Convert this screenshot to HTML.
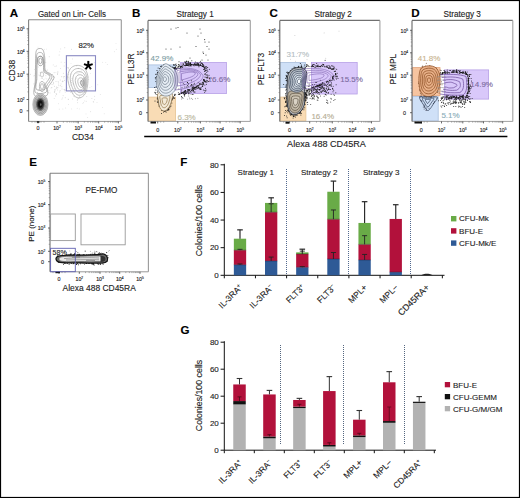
<!DOCTYPE html>
<html><head><meta charset="utf-8"><style>html,body{margin:0;padding:0;background:#fff;overflow:hidden;width:520px;height:498px;}svg{display:block;}text{font-family:"Liberation Sans",sans-serif;stroke:currentColor;stroke-width:0.12px;paint-order:stroke;}</style></head><body>
<svg width="520" height="498" viewBox="0 0 520 498" font-family="Liberation Sans, sans-serif">
<rect x="0.00" y="0.00" width="520.00" height="498.00" fill="#fff" stroke="none" stroke-width="1" />
<text x="9.80" y="17.40" font-size="11.6" text-anchor="start" fill="#000" color="#000" font-weight="bold" >A</text>
<text x="71.90" y="16.90" font-size="8.5" text-anchor="middle" fill="#222" color="#222" font-weight="normal" textLength="68" lengthAdjust="spacingAndGlyphs">Gated on Lin- Cells</text>
<line x1="28.60" y1="19.80" x2="121.30" y2="19.80" stroke="#888" stroke-width="1.1" />
<line x1="121.30" y1="19.80" x2="121.30" y2="121.40" stroke="#999" stroke-width="1.1" />
<line x1="28.60" y1="121.40" x2="121.30" y2="121.40" stroke="#999" stroke-width="1.0" />
<line x1="28.60" y1="19.80" x2="28.60" y2="121.40" stroke="#808080" stroke-width="1.1" />
<text x="24.60" y="31.20" font-size="5.2" text-anchor="end" fill="#222">10<tspan font-size="3.22" dy="-2.18">5</tspan></text>
<line x1="26.60" y1="28.80" x2="28.60" y2="28.80" stroke="#444" stroke-width="0.8" />
<text x="24.60" y="53.70" font-size="5.2" text-anchor="end" fill="#222">10<tspan font-size="3.22" dy="-2.18">4</tspan></text>
<line x1="26.60" y1="51.30" x2="28.60" y2="51.30" stroke="#444" stroke-width="0.8" />
<text x="24.60" y="76.60" font-size="5.2" text-anchor="end" fill="#222">10<tspan font-size="3.22" dy="-2.18">3</tspan></text>
<line x1="26.60" y1="74.20" x2="28.60" y2="74.20" stroke="#444" stroke-width="0.8" />
<text x="24.60" y="101.90" font-size="5.2" text-anchor="end" fill="#222">10<tspan font-size="3.22" dy="-2.18">2</tspan></text>
<line x1="26.60" y1="99.50" x2="28.60" y2="99.50" stroke="#444" stroke-width="0.8" />
<text x="21.10" y="112.70" font-size="5.4" text-anchor="middle" fill="#222" color="#222" font-weight="normal" >0</text>
<line x1="26.60" y1="110.80" x2="28.60" y2="110.80" stroke="#444" stroke-width="0.8" />
<text x="38.00" y="130.30" font-size="5.4" text-anchor="middle" fill="#222" color="#222" font-weight="normal" >0</text>
<line x1="38.00" y1="121.40" x2="38.00" y2="123.40" stroke="#444" stroke-width="0.8" />
<text x="57.00" y="130.30" font-size="5.2" text-anchor="middle" fill="#222">10<tspan font-size="3.22" dy="-2.18">2</tspan></text>
<line x1="57.00" y1="121.40" x2="57.00" y2="123.40" stroke="#444" stroke-width="0.8" />
<text x="78.20" y="130.30" font-size="5.2" text-anchor="middle" fill="#222">10<tspan font-size="3.22" dy="-2.18">3</tspan></text>
<line x1="78.20" y1="121.40" x2="78.20" y2="123.40" stroke="#444" stroke-width="0.8" />
<text x="98.70" y="130.30" font-size="5.2" text-anchor="middle" fill="#222">10<tspan font-size="3.22" dy="-2.18">4</tspan></text>
<line x1="98.70" y1="121.40" x2="98.70" y2="123.40" stroke="#444" stroke-width="0.8" />
<text x="118.40" y="130.30" font-size="5.2" text-anchor="middle" fill="#222">10<tspan font-size="3.22" dy="-2.18">5</tspan></text>
<line x1="118.40" y1="121.40" x2="118.40" y2="123.40" stroke="#444" stroke-width="0.8" />
<line x1="27.30" y1="44.53" x2="28.60" y2="44.53" stroke="#666" stroke-width="0.5" />
<line x1="27.30" y1="40.56" x2="28.60" y2="40.56" stroke="#666" stroke-width="0.5" />
<line x1="27.30" y1="37.75" x2="28.60" y2="37.75" stroke="#666" stroke-width="0.5" />
<line x1="27.30" y1="35.57" x2="28.60" y2="35.57" stroke="#666" stroke-width="0.5" />
<line x1="27.30" y1="33.79" x2="28.60" y2="33.79" stroke="#666" stroke-width="0.5" />
<line x1="27.30" y1="32.29" x2="28.60" y2="32.29" stroke="#666" stroke-width="0.5" />
<line x1="27.30" y1="30.98" x2="28.60" y2="30.98" stroke="#666" stroke-width="0.5" />
<line x1="27.30" y1="29.83" x2="28.60" y2="29.83" stroke="#666" stroke-width="0.5" />
<line x1="27.30" y1="67.31" x2="28.60" y2="67.31" stroke="#666" stroke-width="0.5" />
<line x1="27.30" y1="63.27" x2="28.60" y2="63.27" stroke="#666" stroke-width="0.5" />
<line x1="27.30" y1="60.41" x2="28.60" y2="60.41" stroke="#666" stroke-width="0.5" />
<line x1="27.30" y1="58.19" x2="28.60" y2="58.19" stroke="#666" stroke-width="0.5" />
<line x1="27.30" y1="56.38" x2="28.60" y2="56.38" stroke="#666" stroke-width="0.5" />
<line x1="27.30" y1="54.85" x2="28.60" y2="54.85" stroke="#666" stroke-width="0.5" />
<line x1="27.30" y1="53.52" x2="28.60" y2="53.52" stroke="#666" stroke-width="0.5" />
<line x1="27.30" y1="52.35" x2="28.60" y2="52.35" stroke="#666" stroke-width="0.5" />
<line x1="27.30" y1="91.88" x2="28.60" y2="91.88" stroke="#666" stroke-width="0.5" />
<line x1="27.30" y1="87.43" x2="28.60" y2="87.43" stroke="#666" stroke-width="0.5" />
<line x1="27.30" y1="84.27" x2="28.60" y2="84.27" stroke="#666" stroke-width="0.5" />
<line x1="27.30" y1="81.82" x2="28.60" y2="81.82" stroke="#666" stroke-width="0.5" />
<line x1="27.30" y1="79.81" x2="28.60" y2="79.81" stroke="#666" stroke-width="0.5" />
<line x1="27.30" y1="78.12" x2="28.60" y2="78.12" stroke="#666" stroke-width="0.5" />
<line x1="27.30" y1="76.65" x2="28.60" y2="76.65" stroke="#666" stroke-width="0.5" />
<line x1="27.30" y1="75.36" x2="28.60" y2="75.36" stroke="#666" stroke-width="0.5" />
<line x1="63.38" y1="121.40" x2="63.38" y2="122.70" stroke="#666" stroke-width="0.5" />
<line x1="67.11" y1="121.40" x2="67.11" y2="122.70" stroke="#666" stroke-width="0.5" />
<line x1="69.76" y1="121.40" x2="69.76" y2="122.70" stroke="#666" stroke-width="0.5" />
<line x1="71.82" y1="121.40" x2="71.82" y2="122.70" stroke="#666" stroke-width="0.5" />
<line x1="73.50" y1="121.40" x2="73.50" y2="122.70" stroke="#666" stroke-width="0.5" />
<line x1="74.92" y1="121.40" x2="74.92" y2="122.70" stroke="#666" stroke-width="0.5" />
<line x1="76.15" y1="121.40" x2="76.15" y2="122.70" stroke="#666" stroke-width="0.5" />
<line x1="77.23" y1="121.40" x2="77.23" y2="122.70" stroke="#666" stroke-width="0.5" />
<line x1="84.37" y1="121.40" x2="84.37" y2="122.70" stroke="#666" stroke-width="0.5" />
<line x1="87.98" y1="121.40" x2="87.98" y2="122.70" stroke="#666" stroke-width="0.5" />
<line x1="90.54" y1="121.40" x2="90.54" y2="122.70" stroke="#666" stroke-width="0.5" />
<line x1="92.53" y1="121.40" x2="92.53" y2="122.70" stroke="#666" stroke-width="0.5" />
<line x1="94.15" y1="121.40" x2="94.15" y2="122.70" stroke="#666" stroke-width="0.5" />
<line x1="95.52" y1="121.40" x2="95.52" y2="122.70" stroke="#666" stroke-width="0.5" />
<line x1="96.71" y1="121.40" x2="96.71" y2="122.70" stroke="#666" stroke-width="0.5" />
<line x1="97.76" y1="121.40" x2="97.76" y2="122.70" stroke="#666" stroke-width="0.5" />
<line x1="104.63" y1="121.40" x2="104.63" y2="122.70" stroke="#666" stroke-width="0.5" />
<line x1="108.10" y1="121.40" x2="108.10" y2="122.70" stroke="#666" stroke-width="0.5" />
<line x1="110.56" y1="121.40" x2="110.56" y2="122.70" stroke="#666" stroke-width="0.5" />
<line x1="112.47" y1="121.40" x2="112.47" y2="122.70" stroke="#666" stroke-width="0.5" />
<line x1="114.03" y1="121.40" x2="114.03" y2="122.70" stroke="#666" stroke-width="0.5" />
<line x1="115.35" y1="121.40" x2="115.35" y2="122.70" stroke="#666" stroke-width="0.5" />
<line x1="116.49" y1="121.40" x2="116.49" y2="122.70" stroke="#666" stroke-width="0.5" />
<line x1="117.50" y1="121.40" x2="117.50" y2="122.70" stroke="#666" stroke-width="0.5" />
<line x1="32.00" y1="121.40" x2="32.00" y2="122.70" stroke="#666" stroke-width="0.5" />
<line x1="35.00" y1="121.40" x2="35.00" y2="122.70" stroke="#666" stroke-width="0.5" />
<line x1="41.00" y1="121.40" x2="41.00" y2="122.70" stroke="#666" stroke-width="0.5" />
<line x1="44.00" y1="121.40" x2="44.00" y2="122.70" stroke="#666" stroke-width="0.5" />
<text x="0" y="0" font-size="8.5" text-anchor="middle" fill="#222" transform="translate(14.8 70.7) rotate(-90)">CD38</text>
<text x="82.80" y="140.00" font-size="8.5" text-anchor="middle" fill="#222" color="#222" font-weight="normal" >CD34</text>
<circle cx="59.8" cy="51.8" r="0.45" fill="#bbb" fill-opacity="0.6"/>
<circle cx="88.0" cy="45.7" r="0.45" fill="#bbb" fill-opacity="0.6"/>
<circle cx="78.1" cy="68.5" r="0.45" fill="#bbb" fill-opacity="0.6"/>
<circle cx="37.0" cy="79.6" r="0.45" fill="#bbb" fill-opacity="0.6"/>
<circle cx="35.2" cy="73.8" r="0.45" fill="#bbb" fill-opacity="0.6"/>
<circle cx="38.0" cy="47.1" r="0.45" fill="#bbb" fill-opacity="0.6"/>
<circle cx="68.5" cy="104.5" r="0.45" fill="#bbb" fill-opacity="0.6"/>
<circle cx="42.6" cy="57.4" r="0.45" fill="#bbb" fill-opacity="0.6"/>
<circle cx="86.0" cy="113.9" r="0.45" fill="#bbb" fill-opacity="0.6"/>
<circle cx="81.6" cy="70.9" r="0.45" fill="#bbb" fill-opacity="0.6"/>
<circle cx="116.0" cy="43.6" r="0.45" fill="#bbb" fill-opacity="0.6"/>
<circle cx="105.8" cy="62.6" r="0.45" fill="#bbb" fill-opacity="0.6"/>
<circle cx="44.4" cy="49.2" r="0.45" fill="#bbb" fill-opacity="0.6"/>
<circle cx="58.5" cy="103.7" r="0.45" fill="#bbb" fill-opacity="0.6"/>
<circle cx="47.5" cy="85.4" r="0.45" fill="#bbb" fill-opacity="0.6"/>
<circle cx="86.9" cy="69.0" r="0.45" fill="#bbb" fill-opacity="0.6"/>
<circle cx="79.1" cy="44.9" r="0.45" fill="#bbb" fill-opacity="0.6"/>
<circle cx="37.1" cy="56.1" r="0.45" fill="#bbb" fill-opacity="0.6"/>
<circle cx="90.5" cy="73.4" r="0.45" fill="#bbb" fill-opacity="0.6"/>
<circle cx="59.0" cy="85.7" r="0.45" fill="#bbb" fill-opacity="0.6"/>
<circle cx="71.0" cy="63.4" r="0.45" fill="#bbb" fill-opacity="0.6"/>
<circle cx="100.3" cy="94.5" r="0.45" fill="#bbb" fill-opacity="0.6"/>
<circle cx="53.0" cy="84.8" r="0.45" fill="#bbb" fill-opacity="0.6"/>
<circle cx="77.2" cy="108.3" r="0.45" fill="#bbb" fill-opacity="0.6"/>
<circle cx="94.7" cy="62.5" r="0.45" fill="#bbb" fill-opacity="0.6"/>
<circle cx="116.3" cy="49.2" r="0.45" fill="#bbb" fill-opacity="0.6"/>
<circle cx="68.0" cy="99.1" r="0.45" fill="#bbb" fill-opacity="0.6"/>
<circle cx="45.1" cy="78.1" r="0.45" fill="#bbb" fill-opacity="0.6"/>
<circle cx="35.4" cy="92.1" r="0.45" fill="#bbb" fill-opacity="0.6"/>
<circle cx="97.8" cy="84.7" r="0.45" fill="#bbb" fill-opacity="0.6"/>
<circle cx="107.3" cy="64.5" r="0.45" fill="#bbb" fill-opacity="0.6"/>
<circle cx="91.8" cy="86.4" r="0.45" fill="#bbb" fill-opacity="0.6"/>
<circle cx="81.9" cy="75.6" r="0.45" fill="#bbb" fill-opacity="0.6"/>
<circle cx="104.2" cy="113.7" r="0.45" fill="#bbb" fill-opacity="0.6"/>
<circle cx="72.8" cy="91.8" r="0.45" fill="#bbb" fill-opacity="0.6"/>
<circle cx="37.2" cy="94.7" r="0.45" fill="#bbb" fill-opacity="0.6"/>
<circle cx="87.7" cy="117.5" r="0.45" fill="#bbb" fill-opacity="0.6"/>
<circle cx="102.7" cy="62.2" r="0.45" fill="#bbb" fill-opacity="0.6"/>
<circle cx="65.2" cy="92.2" r="0.45" fill="#bbb" fill-opacity="0.6"/>
<circle cx="33.9" cy="76.0" r="0.45" fill="#bbb" fill-opacity="0.6"/>
<circle cx="46.5" cy="49.1" r="0.45" fill="#bbb" fill-opacity="0.6"/>
<circle cx="37.1" cy="99.9" r="0.45" fill="#bbb" fill-opacity="0.6"/>
<circle cx="43.1" cy="59.3" r="0.45" fill="#bbb" fill-opacity="0.6"/>
<circle cx="65.6" cy="108.0" r="0.45" fill="#bbb" fill-opacity="0.6"/>
<circle cx="38.9" cy="75.0" r="0.45" fill="#bbb" fill-opacity="0.6"/>
<circle cx="79.3" cy="108.9" r="0.45" fill="#bbb" fill-opacity="0.6"/>
<circle cx="102.5" cy="107.4" r="0.45" fill="#bbb" fill-opacity="0.6"/>
<circle cx="55.9" cy="72.4" r="0.45" fill="#bbb" fill-opacity="0.6"/>
<circle cx="62.9" cy="109.0" r="0.45" fill="#bbb" fill-opacity="0.6"/>
<circle cx="114.4" cy="51.8" r="0.45" fill="#bbb" fill-opacity="0.6"/>
<circle cx="57.9" cy="87.8" r="0.45" fill="#aaa" fill-opacity="0.7"/>
<circle cx="56.1" cy="93.7" r="0.45" fill="#aaa" fill-opacity="0.7"/>
<circle cx="49.0" cy="75.0" r="0.45" fill="#aaa" fill-opacity="0.7"/>
<circle cx="64.4" cy="80.3" r="0.45" fill="#aaa" fill-opacity="0.7"/>
<circle cx="47.1" cy="91.4" r="0.45" fill="#aaa" fill-opacity="0.7"/>
<circle cx="68.2" cy="74.7" r="0.45" fill="#aaa" fill-opacity="0.7"/>
<circle cx="42.6" cy="78.4" r="0.45" fill="#aaa" fill-opacity="0.7"/>
<circle cx="53.7" cy="76.4" r="0.45" fill="#aaa" fill-opacity="0.7"/>
<circle cx="67.6" cy="67.7" r="0.45" fill="#aaa" fill-opacity="0.7"/>
<circle cx="66.3" cy="64.8" r="0.45" fill="#aaa" fill-opacity="0.7"/>
<circle cx="47.9" cy="87.6" r="0.45" fill="#aaa" fill-opacity="0.7"/>
<circle cx="65.2" cy="90.3" r="0.45" fill="#aaa" fill-opacity="0.7"/>
<circle cx="58.1" cy="81.7" r="0.45" fill="#aaa" fill-opacity="0.7"/>
<circle cx="56.4" cy="86.9" r="0.45" fill="#aaa" fill-opacity="0.7"/>
<circle cx="53.4" cy="83.3" r="0.45" fill="#aaa" fill-opacity="0.7"/>
<circle cx="60.2" cy="80.0" r="0.45" fill="#aaa" fill-opacity="0.7"/>
<circle cx="61.9" cy="86.8" r="0.45" fill="#aaa" fill-opacity="0.7"/>
<circle cx="73.1" cy="83.9" r="0.45" fill="#aaa" fill-opacity="0.7"/>
<circle cx="51.2" cy="75.5" r="0.45" fill="#aaa" fill-opacity="0.7"/>
<circle cx="54.9" cy="91.1" r="0.45" fill="#aaa" fill-opacity="0.7"/>
<circle cx="52.0" cy="84.6" r="0.45" fill="#aaa" fill-opacity="0.7"/>
<circle cx="71.5" cy="49.2" r="0.45" fill="#aaa" fill-opacity="0.7"/>
<circle cx="44.9" cy="82.9" r="0.45" fill="#aaa" fill-opacity="0.7"/>
<circle cx="58.6" cy="82.9" r="0.45" fill="#aaa" fill-opacity="0.7"/>
<circle cx="51.1" cy="87.9" r="0.45" fill="#aaa" fill-opacity="0.7"/>
<circle cx="57.5" cy="73.7" r="0.45" fill="#aaa" fill-opacity="0.7"/>
<circle cx="50.0" cy="78.8" r="0.45" fill="#aaa" fill-opacity="0.7"/>
<circle cx="53.0" cy="79.2" r="0.45" fill="#aaa" fill-opacity="0.7"/>
<circle cx="30.4" cy="74.2" r="0.45" fill="#aaa" fill-opacity="0.7"/>
<circle cx="64.1" cy="66.0" r="0.45" fill="#aaa" fill-opacity="0.7"/>
<circle cx="54.4" cy="91.4" r="0.45" fill="#aaa" fill-opacity="0.7"/>
<circle cx="62.7" cy="97.9" r="0.45" fill="#aaa" fill-opacity="0.7"/>
<circle cx="39.7" cy="75.8" r="0.45" fill="#aaa" fill-opacity="0.7"/>
<circle cx="51.9" cy="87.5" r="0.45" fill="#aaa" fill-opacity="0.7"/>
<circle cx="64.8" cy="47.8" r="0.45" fill="#aaa" fill-opacity="0.7"/>
<circle cx="64.8" cy="62.6" r="0.45" fill="#aaa" fill-opacity="0.7"/>
<circle cx="61.1" cy="62.1" r="0.45" fill="#aaa" fill-opacity="0.7"/>
<circle cx="56.6" cy="94.3" r="0.45" fill="#aaa" fill-opacity="0.7"/>
<circle cx="53.7" cy="82.3" r="0.45" fill="#aaa" fill-opacity="0.7"/>
<circle cx="62.2" cy="81.7" r="0.45" fill="#aaa" fill-opacity="0.7"/>
<circle cx="54.2" cy="98.4" r="0.45" fill="#aaa" fill-opacity="0.7"/>
<circle cx="64.4" cy="76.5" r="0.45" fill="#aaa" fill-opacity="0.7"/>
<circle cx="63.2" cy="76.8" r="0.45" fill="#aaa" fill-opacity="0.7"/>
<circle cx="56.2" cy="88.5" r="0.45" fill="#aaa" fill-opacity="0.7"/>
<circle cx="57.0" cy="87.7" r="0.45" fill="#aaa" fill-opacity="0.7"/>
<circle cx="41.3" cy="61.9" r="0.45" fill="#aaa" fill-opacity="0.7"/>
<circle cx="60.5" cy="68.4" r="0.45" fill="#aaa" fill-opacity="0.7"/>
<circle cx="45.8" cy="62.4" r="0.45" fill="#aaa" fill-opacity="0.7"/>
<circle cx="66.4" cy="89.0" r="0.45" fill="#aaa" fill-opacity="0.7"/>
<circle cx="68.3" cy="68.7" r="0.45" fill="#aaa" fill-opacity="0.7"/>
<circle cx="55.0" cy="66.3" r="0.45" fill="#aaa" fill-opacity="0.7"/>
<circle cx="61.9" cy="99.1" r="0.45" fill="#aaa" fill-opacity="0.7"/>
<circle cx="47.0" cy="98.7" r="0.45" fill="#aaa" fill-opacity="0.7"/>
<circle cx="63.9" cy="77.9" r="0.45" fill="#aaa" fill-opacity="0.7"/>
<circle cx="37.3" cy="96.9" r="0.45" fill="#aaa" fill-opacity="0.7"/>
<circle cx="54.1" cy="72.8" r="0.45" fill="#aaa" fill-opacity="0.7"/>
<circle cx="58.6" cy="84.9" r="0.45" fill="#aaa" fill-opacity="0.7"/>
<circle cx="68.5" cy="67.8" r="0.45" fill="#aaa" fill-opacity="0.7"/>
<circle cx="65.2" cy="97.8" r="0.45" fill="#aaa" fill-opacity="0.7"/>
<circle cx="68.1" cy="77.8" r="0.45" fill="#aaa" fill-opacity="0.7"/>
<circle cx="48.3" cy="92.2" r="0.45" fill="#aaa" fill-opacity="0.7"/>
<circle cx="56.0" cy="81.5" r="0.45" fill="#aaa" fill-opacity="0.7"/>
<circle cx="67.8" cy="76.8" r="0.45" fill="#aaa" fill-opacity="0.7"/>
<circle cx="34.3" cy="75.4" r="0.45" fill="#aaa" fill-opacity="0.7"/>
<circle cx="38.3" cy="89.8" r="0.45" fill="#aaa" fill-opacity="0.7"/>
<circle cx="57.9" cy="72.7" r="0.45" fill="#aaa" fill-opacity="0.7"/>
<circle cx="54.9" cy="90.0" r="0.45" fill="#aaa" fill-opacity="0.7"/>
<circle cx="55.7" cy="95.9" r="0.45" fill="#aaa" fill-opacity="0.7"/>
<circle cx="54.4" cy="92.5" r="0.45" fill="#aaa" fill-opacity="0.7"/>
<circle cx="68.4" cy="99.3" r="0.45" fill="#aaa" fill-opacity="0.7"/>
<circle cx="49.0" cy="90.6" r="0.45" fill="#aaa" fill-opacity="0.7"/>
<circle cx="38.1" cy="67.0" r="0.45" fill="#aaa" fill-opacity="0.7"/>
<circle cx="37.3" cy="92.8" r="0.45" fill="#aaa" fill-opacity="0.7"/>
<circle cx="43.9" cy="79.8" r="0.45" fill="#aaa" fill-opacity="0.7"/>
<circle cx="53.3" cy="79.7" r="0.45" fill="#aaa" fill-opacity="0.7"/>
<circle cx="49.7" cy="82.8" r="0.45" fill="#aaa" fill-opacity="0.7"/>
<circle cx="71.1" cy="80.5" r="0.45" fill="#aaa" fill-opacity="0.7"/>
<circle cx="59.8" cy="92.0" r="0.45" fill="#aaa" fill-opacity="0.7"/>
<circle cx="53.2" cy="64.9" r="0.45" fill="#aaa" fill-opacity="0.7"/>
<circle cx="50.0" cy="92.9" r="0.45" fill="#aaa" fill-opacity="0.7"/>
<circle cx="40.2" cy="72.8" r="0.45" fill="#aaa" fill-opacity="0.7"/>
<circle cx="64.1" cy="89.5" r="0.45" fill="#aaa" fill-opacity="0.7"/>
<circle cx="55.1" cy="89.7" r="0.45" fill="#aaa" fill-opacity="0.7"/>
<circle cx="56.5" cy="65.9" r="0.45" fill="#aaa" fill-opacity="0.7"/>
<circle cx="40.9" cy="72.3" r="0.45" fill="#aaa" fill-opacity="0.7"/>
<circle cx="63.3" cy="73.2" r="0.45" fill="#aaa" fill-opacity="0.7"/>
<circle cx="46.9" cy="70.7" r="0.45" fill="#aaa" fill-opacity="0.7"/>
<circle cx="41.2" cy="78.6" r="0.45" fill="#aaa" fill-opacity="0.7"/>
<circle cx="44.4" cy="84.4" r="0.45" fill="#aaa" fill-opacity="0.7"/>
<circle cx="33.8" cy="83.9" r="0.45" fill="#aaa" fill-opacity="0.7"/>
<circle cx="49.2" cy="56.7" r="0.45" fill="#aaa" fill-opacity="0.7"/>
<circle cx="61.5" cy="76.7" r="0.45" fill="#aaa" fill-opacity="0.7"/>
<circle cx="34.9" cy="69.5" r="0.45" fill="#aaa" fill-opacity="0.7"/>
<circle cx="57.6" cy="74.5" r="0.45" fill="#aaa" fill-opacity="0.7"/>
<circle cx="62.0" cy="89.0" r="0.45" fill="#aaa" fill-opacity="0.7"/>
<circle cx="61.0" cy="83.9" r="0.45" fill="#aaa" fill-opacity="0.7"/>
<circle cx="67.0" cy="87.9" r="0.45" fill="#aaa" fill-opacity="0.7"/>
<circle cx="59.1" cy="55.0" r="0.45" fill="#aaa" fill-opacity="0.7"/>
<circle cx="63.1" cy="95.7" r="0.45" fill="#aaa" fill-opacity="0.7"/>
<circle cx="52.3" cy="74.4" r="0.45" fill="#aaa" fill-opacity="0.7"/>
<circle cx="72.5" cy="58.9" r="0.45" fill="#aaa" fill-opacity="0.7"/>
<circle cx="59.2" cy="109.1" r="0.45" fill="#aaa" fill-opacity="0.7"/>
<circle cx="46.7" cy="88.3" r="0.45" fill="#aaa" fill-opacity="0.7"/>
<circle cx="72.0" cy="78.6" r="0.45" fill="#aaa" fill-opacity="0.7"/>
<circle cx="60.1" cy="90.8" r="0.45" fill="#aaa" fill-opacity="0.7"/>
<circle cx="46.8" cy="78.9" r="0.45" fill="#aaa" fill-opacity="0.7"/>
<circle cx="57.6" cy="89.9" r="0.45" fill="#aaa" fill-opacity="0.7"/>
<circle cx="54.7" cy="77.7" r="0.45" fill="#aaa" fill-opacity="0.7"/>
<circle cx="45.9" cy="75.7" r="0.45" fill="#aaa" fill-opacity="0.7"/>
<circle cx="63.0" cy="81.2" r="0.45" fill="#aaa" fill-opacity="0.7"/>
<circle cx="47.3" cy="69.9" r="0.45" fill="#aaa" fill-opacity="0.7"/>
<circle cx="60.7" cy="48.9" r="0.45" fill="#aaa" fill-opacity="0.7"/>
<circle cx="60.6" cy="85.8" r="0.45" fill="#aaa" fill-opacity="0.7"/>
<circle cx="70.2" cy="85.1" r="0.45" fill="#aaa" fill-opacity="0.7"/>
<circle cx="54.4" cy="86.3" r="0.45" fill="#aaa" fill-opacity="0.7"/>
<circle cx="37.5" cy="92.4" r="0.45" fill="#aaa" fill-opacity="0.7"/>
<circle cx="57.9" cy="71.6" r="0.45" fill="#aaa" fill-opacity="0.7"/>
<circle cx="90.6" cy="111.7" r="0.45" fill="#aaa" fill-opacity="0.6"/>
<circle cx="68.8" cy="82.0" r="0.45" fill="#aaa" fill-opacity="0.6"/>
<circle cx="82.3" cy="92.2" r="0.45" fill="#aaa" fill-opacity="0.6"/>
<circle cx="76.8" cy="78.3" r="0.45" fill="#aaa" fill-opacity="0.6"/>
<circle cx="97.0" cy="102.4" r="0.45" fill="#aaa" fill-opacity="0.6"/>
<circle cx="70.4" cy="73.9" r="0.45" fill="#aaa" fill-opacity="0.6"/>
<circle cx="93.6" cy="101.9" r="0.45" fill="#aaa" fill-opacity="0.6"/>
<circle cx="94.6" cy="99.7" r="0.45" fill="#aaa" fill-opacity="0.6"/>
<circle cx="73.0" cy="93.1" r="0.45" fill="#aaa" fill-opacity="0.6"/>
<circle cx="62.7" cy="81.0" r="0.45" fill="#aaa" fill-opacity="0.6"/>
<circle cx="79.5" cy="96.3" r="0.45" fill="#aaa" fill-opacity="0.6"/>
<circle cx="74.2" cy="88.5" r="0.45" fill="#aaa" fill-opacity="0.6"/>
<circle cx="83.7" cy="94.5" r="0.45" fill="#aaa" fill-opacity="0.6"/>
<circle cx="85.1" cy="92.5" r="0.45" fill="#aaa" fill-opacity="0.6"/>
<circle cx="77.4" cy="99.5" r="0.45" fill="#aaa" fill-opacity="0.6"/>
<circle cx="80.4" cy="80.1" r="0.45" fill="#aaa" fill-opacity="0.6"/>
<circle cx="75.0" cy="90.0" r="0.45" fill="#aaa" fill-opacity="0.6"/>
<circle cx="79.1" cy="91.9" r="0.45" fill="#aaa" fill-opacity="0.6"/>
<circle cx="80.0" cy="92.1" r="0.45" fill="#aaa" fill-opacity="0.6"/>
<circle cx="78.9" cy="74.9" r="0.45" fill="#aaa" fill-opacity="0.6"/>
<circle cx="83.4" cy="102.6" r="0.45" fill="#aaa" fill-opacity="0.6"/>
<circle cx="83.5" cy="87.7" r="0.45" fill="#aaa" fill-opacity="0.6"/>
<circle cx="83.6" cy="78.4" r="0.45" fill="#aaa" fill-opacity="0.6"/>
<circle cx="64.8" cy="90.7" r="0.45" fill="#aaa" fill-opacity="0.6"/>
<circle cx="72.6" cy="98.9" r="0.45" fill="#aaa" fill-opacity="0.6"/>
<circle cx="71.7" cy="108.9" r="0.45" fill="#aaa" fill-opacity="0.6"/>
<circle cx="76.9" cy="73.6" r="0.45" fill="#aaa" fill-opacity="0.6"/>
<circle cx="73.9" cy="96.3" r="0.45" fill="#aaa" fill-opacity="0.6"/>
<circle cx="84.0" cy="92.1" r="0.45" fill="#aaa" fill-opacity="0.6"/>
<circle cx="91.9" cy="98.5" r="0.45" fill="#aaa" fill-opacity="0.6"/>
<circle cx="79.8" cy="97.2" r="0.45" fill="#aaa" fill-opacity="0.6"/>
<circle cx="93.2" cy="101.7" r="0.45" fill="#aaa" fill-opacity="0.6"/>
<circle cx="88.2" cy="77.0" r="0.45" fill="#aaa" fill-opacity="0.6"/>
<circle cx="78.8" cy="98.8" r="0.45" fill="#aaa" fill-opacity="0.6"/>
<circle cx="77.6" cy="102.8" r="0.45" fill="#aaa" fill-opacity="0.6"/>
<circle cx="84.8" cy="100.9" r="0.45" fill="#aaa" fill-opacity="0.6"/>
<circle cx="89.9" cy="87.4" r="0.45" fill="#aaa" fill-opacity="0.6"/>
<circle cx="77.3" cy="100.5" r="0.45" fill="#aaa" fill-opacity="0.6"/>
<circle cx="87.8" cy="90.1" r="0.45" fill="#aaa" fill-opacity="0.6"/>
<circle cx="70.7" cy="92.3" r="0.45" fill="#aaa" fill-opacity="0.6"/>
<circle cx="82.9" cy="103.6" r="0.45" fill="#aaa" fill-opacity="0.6"/>
<circle cx="86.3" cy="90.3" r="0.45" fill="#aaa" fill-opacity="0.6"/>
<circle cx="86.8" cy="96.5" r="0.45" fill="#aaa" fill-opacity="0.6"/>
<circle cx="81.6" cy="90.7" r="0.45" fill="#aaa" fill-opacity="0.6"/>
<circle cx="78.1" cy="98.2" r="0.45" fill="#aaa" fill-opacity="0.6"/>
<circle cx="71.6" cy="82.5" r="0.45" fill="#aaa" fill-opacity="0.6"/>
<circle cx="80.0" cy="72.4" r="0.45" fill="#aaa" fill-opacity="0.6"/>
<circle cx="76.5" cy="65.9" r="0.45" fill="#aaa" fill-opacity="0.6"/>
<circle cx="74.5" cy="96.8" r="0.45" fill="#aaa" fill-opacity="0.6"/>
<circle cx="84.5" cy="89.3" r="0.45" fill="#aaa" fill-opacity="0.6"/>
<circle cx="78.1" cy="73.0" r="0.45" fill="#aaa" fill-opacity="0.6"/>
<circle cx="94.6" cy="96.2" r="0.45" fill="#aaa" fill-opacity="0.6"/>
<circle cx="88.7" cy="79.4" r="0.45" fill="#aaa" fill-opacity="0.6"/>
<circle cx="78.5" cy="68.2" r="0.45" fill="#aaa" fill-opacity="0.6"/>
<circle cx="86.2" cy="101.2" r="0.45" fill="#aaa" fill-opacity="0.6"/>
<circle cx="64.8" cy="89.4" r="0.45" fill="#aaa" fill-opacity="0.6"/>
<circle cx="85.0" cy="68.9" r="0.45" fill="#aaa" fill-opacity="0.6"/>
<path d="M38.00,48.80 C39.13,48.40 41.67,48.07 42.80,49.60 C43.93,51.13 44.40,54.60 44.80,58.00 C45.20,61.40 44.33,67.42 45.20,70.00 C46.07,72.58 48.53,72.33 50.00,73.50 C51.47,74.67 53.83,75.42 54.00,77.00 C54.17,78.58 52.08,81.17 51.00,83.00 C49.92,84.83 48.18,85.93 47.50,88.00 C46.82,90.07 49.07,94.17 46.90,95.40 C44.73,96.63 36.43,97.97 34.50,95.40 C32.57,92.83 35.12,85.90 35.30,80.00 C35.48,74.10 35.48,64.67 35.60,60.00 C35.72,55.33 35.60,53.87 36.00,52.00 C36.40,50.13 36.87,49.20 38.00,48.80 Z" fill="none" stroke="#8a8a8a" stroke-width="0.6" stroke-opacity="1.0"/>
<path d="M38.38,52.73 C39.34,52.39 41.49,52.11 42.45,53.41 C43.42,54.71 43.81,57.66 44.16,60.55 C44.50,63.44 43.76,68.55 44.50,70.75 C45.23,72.95 47.33,72.73 48.58,73.72 C49.82,74.72 51.83,75.35 51.98,76.70 C52.12,78.05 50.35,80.24 49.42,81.80 C48.50,83.36 47.03,84.29 46.45,86.05 C45.87,87.81 47.78,91.29 45.94,92.34 C44.10,93.39 37.04,94.52 35.40,92.34 C33.76,90.16 35.92,84.27 36.08,79.25 C36.24,74.23 36.24,66.22 36.34,62.25 C36.43,58.28 36.33,57.04 36.67,55.45 C37.02,53.86 37.41,53.07 38.38,52.73 Z" fill="none" stroke="#8a8a8a" stroke-width="0.6" stroke-opacity="1.0"/>
<path d="M38.75,56.66 C39.54,56.38 41.32,56.15 42.11,57.22 C42.90,58.29 43.23,60.72 43.51,63.10 C43.79,65.48 43.18,69.69 43.79,71.50 C44.40,73.31 46.12,73.13 47.15,73.95 C48.18,74.77 49.83,75.29 49.95,76.40 C50.07,77.51 48.61,79.32 47.85,80.60 C47.09,81.88 45.88,82.65 45.40,84.10 C44.92,85.55 46.50,88.42 44.98,89.28 C43.46,90.14 37.65,91.08 36.30,89.28 C34.95,87.48 36.73,82.63 36.86,78.50 C36.99,74.37 36.99,67.77 37.07,64.50 C37.15,61.23 37.07,60.21 37.35,58.90 C37.63,57.59 37.96,56.94 38.75,56.66 Z" fill="none" stroke="#8a8a8a" stroke-width="0.6" stroke-opacity="1.0"/>
<ellipse cx="40.40" cy="60.90" rx="2.80" ry="4.80" fill="none" stroke="#777" stroke-width="0.6" transform="rotate(0 40.40 60.90)"/>
<ellipse cx="40.40" cy="60.90" rx="1.61" ry="2.76" fill="none" stroke="#777" stroke-width="0.6" transform="rotate(0 40.40 60.90)"/>
<ellipse cx="42.00" cy="86.50" rx="2.60" ry="5.00" fill="none" stroke="#888" stroke-width="0.55" transform="rotate(0 42.00 86.50)"/>
<ellipse cx="42.00" cy="86.50" rx="1.49" ry="2.88" fill="none" stroke="#888" stroke-width="0.55" transform="rotate(0 42.00 86.50)"/>
<ellipse cx="42.00" cy="74.50" rx="1.60" ry="2.60" fill="none" stroke="#999" stroke-width="0.5" transform="rotate(0 42.00 74.50)"/>
<ellipse cx="40.4" cy="104.5" rx="7.6" ry="11" fill="#cfcfcf"/>
<ellipse cx="40.4" cy="104.5" rx="7.6" ry="11" fill="none" stroke="#999" stroke-width="0.6"/>
<ellipse cx="40.4" cy="104.5" rx="6.4" ry="9.4" fill="none" stroke="#888" stroke-width="0.6"/>
<ellipse cx="40.4" cy="104.5" rx="5.3" ry="7.9" fill="none" stroke="#777" stroke-width="0.6"/>
<ellipse cx="40.4" cy="104.4" rx="4.6" ry="6.8" fill="#7a7a7a"/>
<ellipse cx="40.4" cy="104.3" rx="3.6" ry="5.4" fill="#3a3a3a"/>
<ellipse cx="40.3" cy="104.2" rx="2.3" ry="3.6" fill="#111"/>
<ellipse cx="40.8" cy="104.6" rx="0.7" ry="1.4" fill="#666"/>
<rect x="66.40" y="55.70" width="29.10" height="35.20" fill="none" stroke="#8a8ac4" stroke-width="1.1" />
<text x="86.20" y="48.30" font-size="7.8" text-anchor="middle" fill="#222" color="#222" font-weight="normal" >82%</text>
<path d="M74.00,66.00 C75.75,65.28 78.17,65.20 80.00,65.70 C81.83,66.20 83.70,67.28 85.00,69.00 C86.30,70.72 87.38,73.17 87.80,76.00 C88.22,78.83 87.97,83.00 87.50,86.00 C87.03,89.00 86.25,92.03 85.00,94.00 C83.75,95.97 81.75,97.47 80.00,97.80 C78.25,98.13 76.17,97.63 74.50,96.00 C72.83,94.37 71.13,91.00 70.00,88.00 C68.87,85.00 67.78,81.00 67.70,78.00 C67.62,75.00 68.45,72.00 69.50,70.00 C70.55,68.00 72.25,66.72 74.00,66.00 Z" fill="none" stroke="#999" stroke-width="0.6" stroke-opacity="1.0"/>
<path d="M75.41,68.99 C76.85,68.40 78.84,68.33 80.35,68.74 C81.86,69.16 83.40,70.05 84.47,71.46 C85.54,72.88 86.44,74.90 86.78,77.23 C87.12,79.57 86.92,83.00 86.53,85.47 C86.15,87.94 85.50,90.44 84.47,92.06 C83.44,93.68 81.79,94.92 80.35,95.20 C78.91,95.47 77.19,95.06 75.82,93.71 C74.45,92.37 73.05,89.59 72.11,87.12 C71.18,84.65 70.29,81.35 70.22,78.88 C70.15,76.41 70.83,73.94 71.70,72.29 C72.57,70.64 73.97,69.58 75.41,68.99 Z" fill="none" stroke="#999" stroke-width="0.6" stroke-opacity="1.0"/>
<path d="M76.82,71.98 C77.95,71.52 79.52,71.47 80.70,71.79 C81.89,72.11 83.10,72.82 83.94,73.93 C84.79,75.04 85.49,76.63 85.76,78.46 C86.03,80.30 85.87,83.00 85.56,84.94 C85.26,86.89 84.75,88.85 83.94,90.13 C83.13,91.40 81.84,92.37 80.70,92.59 C79.57,92.81 78.22,92.48 77.14,91.42 C76.06,90.37 74.96,88.18 74.22,86.24 C73.49,84.30 72.79,81.70 72.73,79.76 C72.68,77.82 73.22,75.87 73.90,74.58 C74.58,73.28 75.68,72.45 76.82,71.98 Z" fill="none" stroke="#999" stroke-width="0.6" stroke-opacity="1.0"/>
<path d="M78.22,74.98 C79.05,74.64 80.19,74.60 81.06,74.83 C81.92,75.07 82.80,75.58 83.42,76.39 C84.03,77.20 84.54,78.36 84.74,79.70 C84.93,81.03 84.82,83.00 84.60,84.42 C84.38,85.83 84.01,87.26 83.42,88.19 C82.83,89.12 81.88,89.83 81.06,89.99 C80.23,90.14 79.25,89.91 78.46,89.14 C77.67,88.37 76.87,86.78 76.34,85.36 C75.80,83.94 75.29,82.06 75.25,80.64 C75.21,79.22 75.60,77.81 76.10,76.86 C76.60,75.92 77.40,75.31 78.22,74.98 Z" fill="none" stroke="#999" stroke-width="0.6" stroke-opacity="1.0"/>
<path d="M79.63,77.97 C80.15,77.76 80.87,77.73 81.41,77.88 C81.95,78.03 82.50,78.35 82.89,78.86 C83.27,79.36 83.59,80.09 83.72,80.93 C83.84,81.77 83.77,83.00 83.63,83.89 C83.49,84.78 83.26,85.67 82.89,86.26 C82.52,86.84 81.93,87.28 81.41,87.38 C80.89,87.48 80.27,87.33 79.78,86.85 C79.29,86.36 78.78,85.37 78.45,84.48 C78.11,83.59 77.79,82.41 77.77,81.52 C77.74,80.63 77.99,79.74 78.30,79.15 C78.61,78.56 79.11,78.18 79.63,77.97 Z" fill="none" stroke="#999" stroke-width="0.6" stroke-opacity="1.0"/>
<path d="M81.04,80.96 C81.25,80.87 81.54,80.86 81.76,80.92 C81.98,80.98 82.20,81.11 82.36,81.32 C82.52,81.53 82.65,81.82 82.70,82.16 C82.75,82.50 82.72,83.00 82.66,83.36 C82.60,83.72 82.51,84.08 82.36,84.32 C82.21,84.56 81.97,84.74 81.76,84.78 C81.55,84.82 81.30,84.76 81.10,84.56 C80.90,84.36 80.70,83.96 80.56,83.60 C80.42,83.24 80.29,82.76 80.28,82.40 C80.27,82.04 80.37,81.68 80.50,81.44 C80.63,81.20 80.83,81.05 81.04,80.96 Z" fill="none" stroke="#999" stroke-width="0.6" stroke-opacity="1.0"/>
<ellipse cx="82.5" cy="83" rx="1.6" ry="3.2" fill="none" stroke="#777" stroke-width="0.6"/>
<ellipse cx="84.3" cy="84" rx="2.2" ry="7" fill="#aaa" fill-opacity="0.5"/>
<line x1="88.30" y1="65.50" x2="88.30" y2="60.90" stroke="#000" stroke-width="2.0" stroke-linecap="butt"/>
<line x1="88.30" y1="65.50" x2="83.93" y2="64.08" stroke="#000" stroke-width="2.0" stroke-linecap="butt"/>
<line x1="88.30" y1="65.50" x2="85.60" y2="69.22" stroke="#000" stroke-width="2.0" stroke-linecap="butt"/>
<line x1="88.30" y1="65.50" x2="91.00" y2="69.22" stroke="#000" stroke-width="2.0" stroke-linecap="butt"/>
<line x1="88.30" y1="65.50" x2="92.67" y2="64.08" stroke="#000" stroke-width="2.0" stroke-linecap="butt"/>
<text x="132.00" y="17.40" font-size="11.6" text-anchor="start" fill="#000" color="#000" font-weight="bold" >B</text>
<text x="195.10" y="16.90" font-size="8.2" text-anchor="middle" fill="#222" color="#222" font-weight="normal" >Strategy 1</text>
<rect x="148.40" y="64.90" width="27.20" height="22.70" fill="#cfe0f7" stroke="#a9bedc" stroke-width="0.8" />
<rect x="148.40" y="97.10" width="27.20" height="23.90" fill="#f9dcb5" stroke="#e6c494" stroke-width="0.8" />
<rect x="180.60" y="62.40" width="45.80" height="31.20" fill="#d9c8fa" stroke="#b7a0e6" stroke-width="0.8" />
<line x1="148.00" y1="20.40" x2="250.30" y2="20.40" stroke="#707070" stroke-width="1.1" />
<line x1="250.30" y1="20.40" x2="250.30" y2="121.40" stroke="#a0a0a0" stroke-width="1.1" />
<line x1="148.00" y1="121.40" x2="250.30" y2="121.40" stroke="#a0a0a0" stroke-width="1.0" />
<line x1="148.00" y1="20.40" x2="148.00" y2="121.40" stroke="#666" stroke-width="1.1" />
<text x="144.10" y="32.70" font-size="5.2" text-anchor="end" fill="#222">10<tspan font-size="3.22" dy="-2.18">5</tspan></text>
<line x1="146.00" y1="30.30" x2="148.00" y2="30.30" stroke="#444" stroke-width="0.8" />
<text x="144.10" y="55.20" font-size="5.2" text-anchor="end" fill="#222">10<tspan font-size="3.22" dy="-2.18">4</tspan></text>
<line x1="146.00" y1="52.80" x2="148.00" y2="52.80" stroke="#444" stroke-width="0.8" />
<text x="144.10" y="77.60" font-size="5.2" text-anchor="end" fill="#222">10<tspan font-size="3.22" dy="-2.18">3</tspan></text>
<line x1="146.00" y1="75.20" x2="148.00" y2="75.20" stroke="#444" stroke-width="0.8" />
<text x="144.10" y="102.40" font-size="5.2" text-anchor="end" fill="#222">10<tspan font-size="3.22" dy="-2.18">2</tspan></text>
<line x1="146.00" y1="100.00" x2="148.00" y2="100.00" stroke="#444" stroke-width="0.8" />
<text x="140.50" y="114.60" font-size="5.4" text-anchor="middle" fill="#222" color="#222" font-weight="normal" >0</text>
<line x1="146.00" y1="112.70" x2="148.00" y2="112.70" stroke="#444" stroke-width="0.8" />
<text x="157.70" y="131.90" font-size="5.4" text-anchor="middle" fill="#222" color="#222" font-weight="normal" >0</text>
<line x1="157.70" y1="121.40" x2="157.70" y2="123.40" stroke="#444" stroke-width="0.8" />
<text x="177.80" y="131.90" font-size="5.2" text-anchor="middle" fill="#222">10<tspan font-size="3.22" dy="-2.18">2</tspan></text>
<line x1="177.80" y1="121.40" x2="177.80" y2="123.40" stroke="#444" stroke-width="0.8" />
<text x="200.40" y="131.90" font-size="5.2" text-anchor="middle" fill="#222">10<tspan font-size="3.22" dy="-2.18">3</tspan></text>
<line x1="200.40" y1="121.40" x2="200.40" y2="123.40" stroke="#444" stroke-width="0.8" />
<text x="220.10" y="131.90" font-size="5.2" text-anchor="middle" fill="#222">10<tspan font-size="3.22" dy="-2.18">4</tspan></text>
<line x1="220.10" y1="121.40" x2="220.10" y2="123.40" stroke="#444" stroke-width="0.8" />
<text x="240.20" y="131.90" font-size="5.2" text-anchor="middle" fill="#222">10<tspan font-size="3.22" dy="-2.18">5</tspan></text>
<line x1="240.20" y1="121.40" x2="240.20" y2="123.40" stroke="#444" stroke-width="0.8" />
<line x1="146.70" y1="46.03" x2="148.00" y2="46.03" stroke="#666" stroke-width="0.5" />
<line x1="146.70" y1="42.06" x2="148.00" y2="42.06" stroke="#666" stroke-width="0.5" />
<line x1="146.70" y1="39.25" x2="148.00" y2="39.25" stroke="#666" stroke-width="0.5" />
<line x1="146.70" y1="37.07" x2="148.00" y2="37.07" stroke="#666" stroke-width="0.5" />
<line x1="146.70" y1="35.29" x2="148.00" y2="35.29" stroke="#666" stroke-width="0.5" />
<line x1="146.70" y1="33.79" x2="148.00" y2="33.79" stroke="#666" stroke-width="0.5" />
<line x1="146.70" y1="32.48" x2="148.00" y2="32.48" stroke="#666" stroke-width="0.5" />
<line x1="146.70" y1="31.33" x2="148.00" y2="31.33" stroke="#666" stroke-width="0.5" />
<line x1="146.70" y1="68.46" x2="148.00" y2="68.46" stroke="#666" stroke-width="0.5" />
<line x1="146.70" y1="64.51" x2="148.00" y2="64.51" stroke="#666" stroke-width="0.5" />
<line x1="146.70" y1="61.71" x2="148.00" y2="61.71" stroke="#666" stroke-width="0.5" />
<line x1="146.70" y1="59.54" x2="148.00" y2="59.54" stroke="#666" stroke-width="0.5" />
<line x1="146.70" y1="57.77" x2="148.00" y2="57.77" stroke="#666" stroke-width="0.5" />
<line x1="146.70" y1="56.27" x2="148.00" y2="56.27" stroke="#666" stroke-width="0.5" />
<line x1="146.70" y1="54.97" x2="148.00" y2="54.97" stroke="#666" stroke-width="0.5" />
<line x1="146.70" y1="53.82" x2="148.00" y2="53.82" stroke="#666" stroke-width="0.5" />
<line x1="146.70" y1="92.53" x2="148.00" y2="92.53" stroke="#666" stroke-width="0.5" />
<line x1="146.70" y1="88.17" x2="148.00" y2="88.17" stroke="#666" stroke-width="0.5" />
<line x1="146.70" y1="85.07" x2="148.00" y2="85.07" stroke="#666" stroke-width="0.5" />
<line x1="146.70" y1="82.67" x2="148.00" y2="82.67" stroke="#666" stroke-width="0.5" />
<line x1="146.70" y1="80.70" x2="148.00" y2="80.70" stroke="#666" stroke-width="0.5" />
<line x1="146.70" y1="79.04" x2="148.00" y2="79.04" stroke="#666" stroke-width="0.5" />
<line x1="146.70" y1="77.60" x2="148.00" y2="77.60" stroke="#666" stroke-width="0.5" />
<line x1="146.70" y1="76.33" x2="148.00" y2="76.33" stroke="#666" stroke-width="0.5" />
<line x1="184.60" y1="121.40" x2="184.60" y2="122.70" stroke="#666" stroke-width="0.5" />
<line x1="188.58" y1="121.40" x2="188.58" y2="122.70" stroke="#666" stroke-width="0.5" />
<line x1="191.41" y1="121.40" x2="191.41" y2="122.70" stroke="#666" stroke-width="0.5" />
<line x1="193.60" y1="121.40" x2="193.60" y2="122.70" stroke="#666" stroke-width="0.5" />
<line x1="195.39" y1="121.40" x2="195.39" y2="122.70" stroke="#666" stroke-width="0.5" />
<line x1="196.90" y1="121.40" x2="196.90" y2="122.70" stroke="#666" stroke-width="0.5" />
<line x1="198.21" y1="121.40" x2="198.21" y2="122.70" stroke="#666" stroke-width="0.5" />
<line x1="199.37" y1="121.40" x2="199.37" y2="122.70" stroke="#666" stroke-width="0.5" />
<line x1="206.33" y1="121.40" x2="206.33" y2="122.70" stroke="#666" stroke-width="0.5" />
<line x1="209.80" y1="121.40" x2="209.80" y2="122.70" stroke="#666" stroke-width="0.5" />
<line x1="212.26" y1="121.40" x2="212.26" y2="122.70" stroke="#666" stroke-width="0.5" />
<line x1="214.17" y1="121.40" x2="214.17" y2="122.70" stroke="#666" stroke-width="0.5" />
<line x1="215.73" y1="121.40" x2="215.73" y2="122.70" stroke="#666" stroke-width="0.5" />
<line x1="217.05" y1="121.40" x2="217.05" y2="122.70" stroke="#666" stroke-width="0.5" />
<line x1="218.19" y1="121.40" x2="218.19" y2="122.70" stroke="#666" stroke-width="0.5" />
<line x1="219.20" y1="121.40" x2="219.20" y2="122.70" stroke="#666" stroke-width="0.5" />
<line x1="226.15" y1="121.40" x2="226.15" y2="122.70" stroke="#666" stroke-width="0.5" />
<line x1="229.69" y1="121.40" x2="229.69" y2="122.70" stroke="#666" stroke-width="0.5" />
<line x1="232.20" y1="121.40" x2="232.20" y2="122.70" stroke="#666" stroke-width="0.5" />
<line x1="234.15" y1="121.40" x2="234.15" y2="122.70" stroke="#666" stroke-width="0.5" />
<line x1="235.74" y1="121.40" x2="235.74" y2="122.70" stroke="#666" stroke-width="0.5" />
<line x1="237.09" y1="121.40" x2="237.09" y2="122.70" stroke="#666" stroke-width="0.5" />
<line x1="238.25" y1="121.40" x2="238.25" y2="122.70" stroke="#666" stroke-width="0.5" />
<line x1="239.28" y1="121.40" x2="239.28" y2="122.70" stroke="#666" stroke-width="0.5" />
<line x1="151.70" y1="121.40" x2="151.70" y2="122.70" stroke="#666" stroke-width="0.5" />
<line x1="154.70" y1="121.40" x2="154.70" y2="122.70" stroke="#666" stroke-width="0.5" />
<line x1="160.70" y1="121.40" x2="160.70" y2="122.70" stroke="#666" stroke-width="0.5" />
<line x1="163.70" y1="121.40" x2="163.70" y2="122.70" stroke="#666" stroke-width="0.5" />
<text x="0" y="0" font-size="8.4" text-anchor="middle" fill="#222" transform="translate(133.7 69.1) rotate(-90)">PE IL3R</text>
<text x="150.60" y="61.20" font-size="8" text-anchor="start" fill="#7c9ea4" color="#7c9ea4" font-weight="normal" >42.9%</text>
<text x="207.60" y="81.70" font-size="8" text-anchor="start" fill="#7a6a9e" color="#7a6a9e" font-weight="normal" >16.6%</text>
<text x="177.50" y="120.20" font-size="8" text-anchor="start" fill="#b9b59c" color="#b9b59c" font-weight="normal" >6.3%</text>
<text x="269.50" y="17.40" font-size="11.6" text-anchor="start" fill="#000" color="#000" font-weight="bold" >C</text>
<text x="333.20" y="16.90" font-size="8.2" text-anchor="middle" fill="#222" color="#222" font-weight="normal" >Strategy 2</text>
<rect x="280.20" y="62.40" width="25.20" height="25.20" fill="#cfe0f7" stroke="#a9bedc" stroke-width="0.8" />
<rect x="280.20" y="97.10" width="25.70" height="23.90" fill="#f9dcb5" stroke="#e6c494" stroke-width="0.8" />
<rect x="311.40" y="62.40" width="45.80" height="31.60" fill="#d9c8fa" stroke="#b7a0e6" stroke-width="0.8" />
<line x1="279.80" y1="20.40" x2="379.90" y2="20.40" stroke="#707070" stroke-width="1.1" />
<line x1="379.90" y1="20.40" x2="379.90" y2="121.40" stroke="#a0a0a0" stroke-width="1.1" />
<line x1="279.80" y1="121.40" x2="379.90" y2="121.40" stroke="#a0a0a0" stroke-width="1.0" />
<line x1="279.80" y1="20.40" x2="279.80" y2="121.40" stroke="#666" stroke-width="1.1" />
<text x="275.90" y="32.70" font-size="5.2" text-anchor="end" fill="#222">10<tspan font-size="3.22" dy="-2.18">5</tspan></text>
<line x1="277.80" y1="30.30" x2="279.80" y2="30.30" stroke="#444" stroke-width="0.8" />
<text x="275.90" y="55.20" font-size="5.2" text-anchor="end" fill="#222">10<tspan font-size="3.22" dy="-2.18">4</tspan></text>
<line x1="277.80" y1="52.80" x2="279.80" y2="52.80" stroke="#444" stroke-width="0.8" />
<text x="275.90" y="77.60" font-size="5.2" text-anchor="end" fill="#222">10<tspan font-size="3.22" dy="-2.18">3</tspan></text>
<line x1="277.80" y1="75.20" x2="279.80" y2="75.20" stroke="#444" stroke-width="0.8" />
<text x="275.90" y="102.40" font-size="5.2" text-anchor="end" fill="#222">10<tspan font-size="3.22" dy="-2.18">2</tspan></text>
<line x1="277.80" y1="100.00" x2="279.80" y2="100.00" stroke="#444" stroke-width="0.8" />
<text x="272.30" y="114.60" font-size="5.4" text-anchor="middle" fill="#222" color="#222" font-weight="normal" >0</text>
<line x1="277.80" y1="112.70" x2="279.80" y2="112.70" stroke="#444" stroke-width="0.8" />
<text x="289.60" y="131.90" font-size="5.4" text-anchor="middle" fill="#222" color="#222" font-weight="normal" >0</text>
<line x1="289.60" y1="121.40" x2="289.60" y2="123.40" stroke="#444" stroke-width="0.8" />
<text x="309.70" y="131.90" font-size="5.2" text-anchor="middle" fill="#222">10<tspan font-size="3.22" dy="-2.18">2</tspan></text>
<line x1="309.70" y1="121.40" x2="309.70" y2="123.40" stroke="#444" stroke-width="0.8" />
<text x="332.30" y="131.90" font-size="5.2" text-anchor="middle" fill="#222">10<tspan font-size="3.22" dy="-2.18">3</tspan></text>
<line x1="332.30" y1="121.40" x2="332.30" y2="123.40" stroke="#444" stroke-width="0.8" />
<text x="352.40" y="131.90" font-size="5.2" text-anchor="middle" fill="#222">10<tspan font-size="3.22" dy="-2.18">4</tspan></text>
<line x1="352.40" y1="121.40" x2="352.40" y2="123.40" stroke="#444" stroke-width="0.8" />
<text x="371.50" y="131.90" font-size="5.2" text-anchor="middle" fill="#222">10<tspan font-size="3.22" dy="-2.18">5</tspan></text>
<line x1="371.50" y1="121.40" x2="371.50" y2="123.40" stroke="#444" stroke-width="0.8" />
<line x1="278.50" y1="46.03" x2="279.80" y2="46.03" stroke="#666" stroke-width="0.5" />
<line x1="278.50" y1="42.06" x2="279.80" y2="42.06" stroke="#666" stroke-width="0.5" />
<line x1="278.50" y1="39.25" x2="279.80" y2="39.25" stroke="#666" stroke-width="0.5" />
<line x1="278.50" y1="37.07" x2="279.80" y2="37.07" stroke="#666" stroke-width="0.5" />
<line x1="278.50" y1="35.29" x2="279.80" y2="35.29" stroke="#666" stroke-width="0.5" />
<line x1="278.50" y1="33.79" x2="279.80" y2="33.79" stroke="#666" stroke-width="0.5" />
<line x1="278.50" y1="32.48" x2="279.80" y2="32.48" stroke="#666" stroke-width="0.5" />
<line x1="278.50" y1="31.33" x2="279.80" y2="31.33" stroke="#666" stroke-width="0.5" />
<line x1="278.50" y1="68.46" x2="279.80" y2="68.46" stroke="#666" stroke-width="0.5" />
<line x1="278.50" y1="64.51" x2="279.80" y2="64.51" stroke="#666" stroke-width="0.5" />
<line x1="278.50" y1="61.71" x2="279.80" y2="61.71" stroke="#666" stroke-width="0.5" />
<line x1="278.50" y1="59.54" x2="279.80" y2="59.54" stroke="#666" stroke-width="0.5" />
<line x1="278.50" y1="57.77" x2="279.80" y2="57.77" stroke="#666" stroke-width="0.5" />
<line x1="278.50" y1="56.27" x2="279.80" y2="56.27" stroke="#666" stroke-width="0.5" />
<line x1="278.50" y1="54.97" x2="279.80" y2="54.97" stroke="#666" stroke-width="0.5" />
<line x1="278.50" y1="53.82" x2="279.80" y2="53.82" stroke="#666" stroke-width="0.5" />
<line x1="278.50" y1="92.53" x2="279.80" y2="92.53" stroke="#666" stroke-width="0.5" />
<line x1="278.50" y1="88.17" x2="279.80" y2="88.17" stroke="#666" stroke-width="0.5" />
<line x1="278.50" y1="85.07" x2="279.80" y2="85.07" stroke="#666" stroke-width="0.5" />
<line x1="278.50" y1="82.67" x2="279.80" y2="82.67" stroke="#666" stroke-width="0.5" />
<line x1="278.50" y1="80.70" x2="279.80" y2="80.70" stroke="#666" stroke-width="0.5" />
<line x1="278.50" y1="79.04" x2="279.80" y2="79.04" stroke="#666" stroke-width="0.5" />
<line x1="278.50" y1="77.60" x2="279.80" y2="77.60" stroke="#666" stroke-width="0.5" />
<line x1="278.50" y1="76.33" x2="279.80" y2="76.33" stroke="#666" stroke-width="0.5" />
<line x1="316.50" y1="121.40" x2="316.50" y2="122.70" stroke="#666" stroke-width="0.5" />
<line x1="320.48" y1="121.40" x2="320.48" y2="122.70" stroke="#666" stroke-width="0.5" />
<line x1="323.31" y1="121.40" x2="323.31" y2="122.70" stroke="#666" stroke-width="0.5" />
<line x1="325.50" y1="121.40" x2="325.50" y2="122.70" stroke="#666" stroke-width="0.5" />
<line x1="327.29" y1="121.40" x2="327.29" y2="122.70" stroke="#666" stroke-width="0.5" />
<line x1="328.80" y1="121.40" x2="328.80" y2="122.70" stroke="#666" stroke-width="0.5" />
<line x1="330.11" y1="121.40" x2="330.11" y2="122.70" stroke="#666" stroke-width="0.5" />
<line x1="331.27" y1="121.40" x2="331.27" y2="122.70" stroke="#666" stroke-width="0.5" />
<line x1="338.35" y1="121.40" x2="338.35" y2="122.70" stroke="#666" stroke-width="0.5" />
<line x1="341.89" y1="121.40" x2="341.89" y2="122.70" stroke="#666" stroke-width="0.5" />
<line x1="344.40" y1="121.40" x2="344.40" y2="122.70" stroke="#666" stroke-width="0.5" />
<line x1="346.35" y1="121.40" x2="346.35" y2="122.70" stroke="#666" stroke-width="0.5" />
<line x1="347.94" y1="121.40" x2="347.94" y2="122.70" stroke="#666" stroke-width="0.5" />
<line x1="349.29" y1="121.40" x2="349.29" y2="122.70" stroke="#666" stroke-width="0.5" />
<line x1="350.45" y1="121.40" x2="350.45" y2="122.70" stroke="#666" stroke-width="0.5" />
<line x1="351.48" y1="121.40" x2="351.48" y2="122.70" stroke="#666" stroke-width="0.5" />
<line x1="358.15" y1="121.40" x2="358.15" y2="122.70" stroke="#666" stroke-width="0.5" />
<line x1="361.51" y1="121.40" x2="361.51" y2="122.70" stroke="#666" stroke-width="0.5" />
<line x1="363.90" y1="121.40" x2="363.90" y2="122.70" stroke="#666" stroke-width="0.5" />
<line x1="365.75" y1="121.40" x2="365.75" y2="122.70" stroke="#666" stroke-width="0.5" />
<line x1="367.26" y1="121.40" x2="367.26" y2="122.70" stroke="#666" stroke-width="0.5" />
<line x1="368.54" y1="121.40" x2="368.54" y2="122.70" stroke="#666" stroke-width="0.5" />
<line x1="369.65" y1="121.40" x2="369.65" y2="122.70" stroke="#666" stroke-width="0.5" />
<line x1="370.63" y1="121.40" x2="370.63" y2="122.70" stroke="#666" stroke-width="0.5" />
<line x1="283.60" y1="121.40" x2="283.60" y2="122.70" stroke="#666" stroke-width="0.5" />
<line x1="286.60" y1="121.40" x2="286.60" y2="122.70" stroke="#666" stroke-width="0.5" />
<line x1="292.60" y1="121.40" x2="292.60" y2="122.70" stroke="#666" stroke-width="0.5" />
<line x1="295.60" y1="121.40" x2="295.60" y2="122.70" stroke="#666" stroke-width="0.5" />
<text x="0" y="0" font-size="8.4" text-anchor="middle" fill="#222" transform="translate(264.4 69.1) rotate(-90)">PE FLT3</text>
<text x="286.50" y="56.50" font-size="8" text-anchor="start" fill="#b4bec2" color="#b4bec2" font-weight="normal" >31.7%</text>
<text x="340.20" y="81.60" font-size="8" text-anchor="start" fill="#7a6a9e" color="#7a6a9e" font-weight="normal" >15.5%</text>
<text x="311.40" y="119.30" font-size="8" text-anchor="start" fill="#b5ad95" color="#b5ad95" font-weight="normal" >16.4%</text>
<text x="411.20" y="17.40" font-size="11.6" text-anchor="start" fill="#000" color="#000" font-weight="bold" >D</text>
<text x="462.20" y="16.90" font-size="8.2" text-anchor="middle" fill="#222" color="#222" font-weight="normal" >Strategy 3</text>
<rect x="412.40" y="67.60" width="27.60" height="28.20" fill="#f7c4a0" stroke="#e0a47c" stroke-width="0.8" />
<rect x="412.40" y="96.60" width="25.80" height="24.40" fill="#cfe0f7" stroke="#a9bedc" stroke-width="0.8" />
<rect x="444.40" y="69.90" width="44.20" height="29.20" fill="#d9c8fa" stroke="#b7a0e6" stroke-width="0.8" />
<line x1="412.00" y1="20.40" x2="512.80" y2="20.40" stroke="#707070" stroke-width="1.1" />
<line x1="512.80" y1="20.40" x2="512.80" y2="121.40" stroke="#a0a0a0" stroke-width="1.1" />
<line x1="412.00" y1="121.40" x2="512.80" y2="121.40" stroke="#a0a0a0" stroke-width="1.0" />
<line x1="412.00" y1="20.40" x2="412.00" y2="121.40" stroke="#666" stroke-width="1.1" />
<text x="408.10" y="32.70" font-size="5.2" text-anchor="end" fill="#222">10<tspan font-size="3.22" dy="-2.18">5</tspan></text>
<line x1="410.00" y1="30.30" x2="412.00" y2="30.30" stroke="#444" stroke-width="0.8" />
<text x="408.10" y="55.20" font-size="5.2" text-anchor="end" fill="#222">10<tspan font-size="3.22" dy="-2.18">4</tspan></text>
<line x1="410.00" y1="52.80" x2="412.00" y2="52.80" stroke="#444" stroke-width="0.8" />
<text x="408.10" y="77.60" font-size="5.2" text-anchor="end" fill="#222">10<tspan font-size="3.22" dy="-2.18">3</tspan></text>
<line x1="410.00" y1="75.20" x2="412.00" y2="75.20" stroke="#444" stroke-width="0.8" />
<text x="408.10" y="102.40" font-size="5.2" text-anchor="end" fill="#222">10<tspan font-size="3.22" dy="-2.18">2</tspan></text>
<line x1="410.00" y1="100.00" x2="412.00" y2="100.00" stroke="#444" stroke-width="0.8" />
<text x="404.50" y="114.60" font-size="5.4" text-anchor="middle" fill="#222" color="#222" font-weight="normal" >0</text>
<line x1="410.00" y1="112.70" x2="412.00" y2="112.70" stroke="#444" stroke-width="0.8" />
<text x="421.20" y="131.90" font-size="5.4" text-anchor="middle" fill="#222" color="#222" font-weight="normal" >0</text>
<line x1="421.20" y1="121.40" x2="421.20" y2="123.40" stroke="#444" stroke-width="0.8" />
<text x="441.50" y="131.90" font-size="5.2" text-anchor="middle" fill="#222">10<tspan font-size="3.22" dy="-2.18">2</tspan></text>
<line x1="441.50" y1="121.40" x2="441.50" y2="123.40" stroke="#444" stroke-width="0.8" />
<text x="462.80" y="131.90" font-size="5.2" text-anchor="middle" fill="#222">10<tspan font-size="3.22" dy="-2.18">3</tspan></text>
<line x1="462.80" y1="121.40" x2="462.80" y2="123.40" stroke="#444" stroke-width="0.8" />
<text x="483.50" y="131.90" font-size="5.2" text-anchor="middle" fill="#222">10<tspan font-size="3.22" dy="-2.18">4</tspan></text>
<line x1="483.50" y1="121.40" x2="483.50" y2="123.40" stroke="#444" stroke-width="0.8" />
<text x="502.70" y="131.90" font-size="5.2" text-anchor="middle" fill="#222">10<tspan font-size="3.22" dy="-2.18">5</tspan></text>
<line x1="502.70" y1="121.40" x2="502.70" y2="123.40" stroke="#444" stroke-width="0.8" />
<line x1="410.70" y1="46.03" x2="412.00" y2="46.03" stroke="#666" stroke-width="0.5" />
<line x1="410.70" y1="42.06" x2="412.00" y2="42.06" stroke="#666" stroke-width="0.5" />
<line x1="410.70" y1="39.25" x2="412.00" y2="39.25" stroke="#666" stroke-width="0.5" />
<line x1="410.70" y1="37.07" x2="412.00" y2="37.07" stroke="#666" stroke-width="0.5" />
<line x1="410.70" y1="35.29" x2="412.00" y2="35.29" stroke="#666" stroke-width="0.5" />
<line x1="410.70" y1="33.79" x2="412.00" y2="33.79" stroke="#666" stroke-width="0.5" />
<line x1="410.70" y1="32.48" x2="412.00" y2="32.48" stroke="#666" stroke-width="0.5" />
<line x1="410.70" y1="31.33" x2="412.00" y2="31.33" stroke="#666" stroke-width="0.5" />
<line x1="410.70" y1="68.46" x2="412.00" y2="68.46" stroke="#666" stroke-width="0.5" />
<line x1="410.70" y1="64.51" x2="412.00" y2="64.51" stroke="#666" stroke-width="0.5" />
<line x1="410.70" y1="61.71" x2="412.00" y2="61.71" stroke="#666" stroke-width="0.5" />
<line x1="410.70" y1="59.54" x2="412.00" y2="59.54" stroke="#666" stroke-width="0.5" />
<line x1="410.70" y1="57.77" x2="412.00" y2="57.77" stroke="#666" stroke-width="0.5" />
<line x1="410.70" y1="56.27" x2="412.00" y2="56.27" stroke="#666" stroke-width="0.5" />
<line x1="410.70" y1="54.97" x2="412.00" y2="54.97" stroke="#666" stroke-width="0.5" />
<line x1="410.70" y1="53.82" x2="412.00" y2="53.82" stroke="#666" stroke-width="0.5" />
<line x1="410.70" y1="92.53" x2="412.00" y2="92.53" stroke="#666" stroke-width="0.5" />
<line x1="410.70" y1="88.17" x2="412.00" y2="88.17" stroke="#666" stroke-width="0.5" />
<line x1="410.70" y1="85.07" x2="412.00" y2="85.07" stroke="#666" stroke-width="0.5" />
<line x1="410.70" y1="82.67" x2="412.00" y2="82.67" stroke="#666" stroke-width="0.5" />
<line x1="410.70" y1="80.70" x2="412.00" y2="80.70" stroke="#666" stroke-width="0.5" />
<line x1="410.70" y1="79.04" x2="412.00" y2="79.04" stroke="#666" stroke-width="0.5" />
<line x1="410.70" y1="77.60" x2="412.00" y2="77.60" stroke="#666" stroke-width="0.5" />
<line x1="410.70" y1="76.33" x2="412.00" y2="76.33" stroke="#666" stroke-width="0.5" />
<line x1="447.91" y1="121.40" x2="447.91" y2="122.70" stroke="#666" stroke-width="0.5" />
<line x1="451.66" y1="121.40" x2="451.66" y2="122.70" stroke="#666" stroke-width="0.5" />
<line x1="454.32" y1="121.40" x2="454.32" y2="122.70" stroke="#666" stroke-width="0.5" />
<line x1="456.39" y1="121.40" x2="456.39" y2="122.70" stroke="#666" stroke-width="0.5" />
<line x1="458.07" y1="121.40" x2="458.07" y2="122.70" stroke="#666" stroke-width="0.5" />
<line x1="459.50" y1="121.40" x2="459.50" y2="122.70" stroke="#666" stroke-width="0.5" />
<line x1="460.74" y1="121.40" x2="460.74" y2="122.70" stroke="#666" stroke-width="0.5" />
<line x1="461.83" y1="121.40" x2="461.83" y2="122.70" stroke="#666" stroke-width="0.5" />
<line x1="469.03" y1="121.40" x2="469.03" y2="122.70" stroke="#666" stroke-width="0.5" />
<line x1="472.68" y1="121.40" x2="472.68" y2="122.70" stroke="#666" stroke-width="0.5" />
<line x1="475.26" y1="121.40" x2="475.26" y2="122.70" stroke="#666" stroke-width="0.5" />
<line x1="477.27" y1="121.40" x2="477.27" y2="122.70" stroke="#666" stroke-width="0.5" />
<line x1="478.91" y1="121.40" x2="478.91" y2="122.70" stroke="#666" stroke-width="0.5" />
<line x1="480.29" y1="121.40" x2="480.29" y2="122.70" stroke="#666" stroke-width="0.5" />
<line x1="481.49" y1="121.40" x2="481.49" y2="122.70" stroke="#666" stroke-width="0.5" />
<line x1="482.55" y1="121.40" x2="482.55" y2="122.70" stroke="#666" stroke-width="0.5" />
<line x1="489.28" y1="121.40" x2="489.28" y2="122.70" stroke="#666" stroke-width="0.5" />
<line x1="492.66" y1="121.40" x2="492.66" y2="122.70" stroke="#666" stroke-width="0.5" />
<line x1="495.06" y1="121.40" x2="495.06" y2="122.70" stroke="#666" stroke-width="0.5" />
<line x1="496.92" y1="121.40" x2="496.92" y2="122.70" stroke="#666" stroke-width="0.5" />
<line x1="498.44" y1="121.40" x2="498.44" y2="122.70" stroke="#666" stroke-width="0.5" />
<line x1="499.73" y1="121.40" x2="499.73" y2="122.70" stroke="#666" stroke-width="0.5" />
<line x1="500.84" y1="121.40" x2="500.84" y2="122.70" stroke="#666" stroke-width="0.5" />
<line x1="501.82" y1="121.40" x2="501.82" y2="122.70" stroke="#666" stroke-width="0.5" />
<line x1="415.20" y1="121.40" x2="415.20" y2="122.70" stroke="#666" stroke-width="0.5" />
<line x1="418.20" y1="121.40" x2="418.20" y2="122.70" stroke="#666" stroke-width="0.5" />
<line x1="424.20" y1="121.40" x2="424.20" y2="122.70" stroke="#666" stroke-width="0.5" />
<line x1="427.20" y1="121.40" x2="427.20" y2="122.70" stroke="#666" stroke-width="0.5" />
<text x="0" y="0" font-size="8.4" text-anchor="middle" fill="#222" transform="translate(396.1 69.1) rotate(-90)">PE MPL</text>
<text x="417.70" y="60.50" font-size="8" text-anchor="start" fill="#c9b48f" color="#c9b48f" font-weight="normal" >41.8%</text>
<text x="470.30" y="87.40" font-size="8" text-anchor="start" fill="#7a6a9e" color="#7a6a9e" font-weight="normal" >14.9%</text>
<text x="441.40" y="117.70" font-size="8" text-anchor="start" fill="#88acb8" color="#88acb8" font-weight="normal" >5.1%</text>
<circle cx="207.4" cy="77.7" r="0.5" fill="#111" fill-opacity="0.95"/>
<circle cx="200.8" cy="83.3" r="0.5" fill="#111" fill-opacity="0.95"/>
<circle cx="188.5" cy="63.6" r="0.5" fill="#111" fill-opacity="0.95"/>
<circle cx="198.5" cy="64.6" r="0.5" fill="#111" fill-opacity="0.95"/>
<circle cx="179.0" cy="65.9" r="0.5" fill="#111" fill-opacity="0.95"/>
<circle cx="203.7" cy="80.3" r="0.5" fill="#111" fill-opacity="0.95"/>
<circle cx="204.1" cy="80.3" r="0.5" fill="#111" fill-opacity="0.95"/>
<circle cx="172.0" cy="67.7" r="0.5" fill="#111" fill-opacity="0.95"/>
<circle cx="194.2" cy="87.8" r="0.5" fill="#111" fill-opacity="0.95"/>
<circle cx="205.2" cy="73.4" r="0.5" fill="#111" fill-opacity="0.95"/>
<circle cx="204.9" cy="85.0" r="0.5" fill="#111" fill-opacity="0.95"/>
<circle cx="190.2" cy="63.2" r="0.5" fill="#111" fill-opacity="0.95"/>
<circle cx="177.4" cy="68.0" r="0.5" fill="#111" fill-opacity="0.95"/>
<circle cx="186.5" cy="61.5" r="0.5" fill="#111" fill-opacity="0.95"/>
<circle cx="199.3" cy="87.7" r="0.5" fill="#111" fill-opacity="0.95"/>
<circle cx="200.1" cy="65.3" r="0.5" fill="#111" fill-opacity="0.95"/>
<circle cx="204.6" cy="69.5" r="0.5" fill="#111" fill-opacity="0.95"/>
<circle cx="203.6" cy="79.5" r="0.5" fill="#111" fill-opacity="0.95"/>
<circle cx="205.1" cy="81.8" r="0.5" fill="#111" fill-opacity="0.95"/>
<circle cx="190.4" cy="64.0" r="0.5" fill="#111" fill-opacity="0.95"/>
<circle cx="197.7" cy="85.6" r="0.5" fill="#111" fill-opacity="0.95"/>
<circle cx="173.7" cy="65.0" r="0.5" fill="#111" fill-opacity="0.95"/>
<circle cx="176.4" cy="68.5" r="0.5" fill="#111" fill-opacity="0.95"/>
<circle cx="202.7" cy="86.3" r="0.5" fill="#111" fill-opacity="0.95"/>
<circle cx="202.1" cy="83.0" r="0.5" fill="#111" fill-opacity="0.95"/>
<circle cx="206.9" cy="67.7" r="0.5" fill="#111" fill-opacity="0.95"/>
<circle cx="207.7" cy="67.6" r="0.5" fill="#111" fill-opacity="0.95"/>
<circle cx="186.1" cy="61.9" r="0.5" fill="#111" fill-opacity="0.95"/>
<circle cx="181.7" cy="93.6" r="0.5" fill="#111" fill-opacity="0.95"/>
<circle cx="204.5" cy="68.0" r="0.5" fill="#111" fill-opacity="0.95"/>
<circle cx="193.5" cy="90.4" r="0.5" fill="#111" fill-opacity="0.95"/>
<circle cx="191.5" cy="64.6" r="0.5" fill="#111" fill-opacity="0.95"/>
<circle cx="187.0" cy="63.4" r="0.5" fill="#111" fill-opacity="0.95"/>
<circle cx="205.0" cy="77.0" r="0.5" fill="#111" fill-opacity="0.95"/>
<circle cx="182.6" cy="67.4" r="0.5" fill="#111" fill-opacity="0.95"/>
<circle cx="181.5" cy="66.5" r="0.5" fill="#111" fill-opacity="0.95"/>
<circle cx="192.1" cy="87.3" r="0.5" fill="#111" fill-opacity="0.95"/>
<circle cx="200.4" cy="84.2" r="0.5" fill="#111" fill-opacity="0.95"/>
<circle cx="188.6" cy="62.8" r="0.5" fill="#111" fill-opacity="0.95"/>
<circle cx="173.6" cy="68.1" r="0.5" fill="#111" fill-opacity="0.95"/>
<circle cx="172.0" cy="67.7" r="0.5" fill="#111" fill-opacity="0.95"/>
<circle cx="194.1" cy="64.2" r="0.5" fill="#111" fill-opacity="0.95"/>
<circle cx="182.1" cy="66.3" r="0.5" fill="#111" fill-opacity="0.95"/>
<circle cx="191.8" cy="90.4" r="0.5" fill="#111" fill-opacity="0.95"/>
<circle cx="172.1" cy="67.0" r="0.5" fill="#111" fill-opacity="0.95"/>
<circle cx="181.0" cy="67.7" r="0.5" fill="#111" fill-opacity="0.95"/>
<circle cx="185.0" cy="91.5" r="0.5" fill="#111" fill-opacity="0.95"/>
<circle cx="193.2" cy="65.6" r="0.5" fill="#111" fill-opacity="0.95"/>
<circle cx="198.9" cy="66.7" r="0.5" fill="#111" fill-opacity="0.95"/>
<circle cx="209.4" cy="78.6" r="0.5" fill="#111" fill-opacity="0.95"/>
<circle cx="198.4" cy="65.2" r="0.5" fill="#111" fill-opacity="0.95"/>
<circle cx="175.7" cy="67.6" r="0.5" fill="#111" fill-opacity="0.95"/>
<circle cx="178.9" cy="66.4" r="0.5" fill="#111" fill-opacity="0.95"/>
<circle cx="184.3" cy="91.6" r="0.5" fill="#111" fill-opacity="0.95"/>
<circle cx="190.1" cy="64.6" r="0.5" fill="#111" fill-opacity="0.95"/>
<circle cx="185.4" cy="62.4" r="0.5" fill="#111" fill-opacity="0.95"/>
<circle cx="200.4" cy="61.2" r="0.5" fill="#111" fill-opacity="0.95"/>
<circle cx="193.0" cy="87.9" r="0.5" fill="#111" fill-opacity="0.95"/>
<circle cx="208.3" cy="81.6" r="0.5" fill="#111" fill-opacity="0.95"/>
<circle cx="204.9" cy="74.4" r="0.5" fill="#111" fill-opacity="0.95"/>
<circle cx="201.0" cy="87.5" r="0.5" fill="#111" fill-opacity="0.95"/>
<circle cx="205.3" cy="67.1" r="0.5" fill="#111" fill-opacity="0.95"/>
<circle cx="197.1" cy="86.0" r="0.5" fill="#111" fill-opacity="0.95"/>
<circle cx="175.4" cy="68.7" r="0.5" fill="#111" fill-opacity="0.95"/>
<circle cx="185.8" cy="93.2" r="0.5" fill="#111" fill-opacity="0.95"/>
<circle cx="197.6" cy="62.9" r="0.5" fill="#111" fill-opacity="0.95"/>
<circle cx="193.8" cy="64.4" r="0.5" fill="#111" fill-opacity="0.95"/>
<circle cx="191.0" cy="66.1" r="0.5" fill="#111" fill-opacity="0.95"/>
<circle cx="203.4" cy="82.1" r="0.5" fill="#111" fill-opacity="0.95"/>
<circle cx="201.6" cy="63.1" r="0.5" fill="#111" fill-opacity="0.95"/>
<circle cx="183.6" cy="64.6" r="0.5" fill="#111" fill-opacity="0.95"/>
<circle cx="187.1" cy="92.2" r="0.5" fill="#111" fill-opacity="0.95"/>
<circle cx="206.1" cy="70.5" r="0.5" fill="#111" fill-opacity="0.95"/>
<circle cx="182.0" cy="97.8" r="0.5" fill="#111" fill-opacity="0.95"/>
<circle cx="205.1" cy="67.1" r="0.5" fill="#111" fill-opacity="0.95"/>
<circle cx="178.1" cy="66.6" r="0.5" fill="#111" fill-opacity="0.95"/>
<circle cx="197.4" cy="63.3" r="0.5" fill="#111" fill-opacity="0.95"/>
<circle cx="190.7" cy="63.7" r="0.5" fill="#111" fill-opacity="0.95"/>
<circle cx="207.8" cy="76.7" r="0.5" fill="#111" fill-opacity="0.95"/>
<circle cx="202.2" cy="66.4" r="0.5" fill="#111" fill-opacity="0.95"/>
<circle cx="202.3" cy="66.4" r="0.5" fill="#111" fill-opacity="0.95"/>
<circle cx="196.8" cy="64.5" r="0.5" fill="#111" fill-opacity="0.95"/>
<circle cx="176.5" cy="68.6" r="0.5" fill="#111" fill-opacity="0.95"/>
<circle cx="179.0" cy="61.7" r="0.5" fill="#111" fill-opacity="0.95"/>
<circle cx="204.7" cy="71.4" r="0.5" fill="#111" fill-opacity="0.95"/>
<circle cx="187.6" cy="65.5" r="0.5" fill="#111" fill-opacity="0.95"/>
<circle cx="191.7" cy="64.4" r="0.5" fill="#111" fill-opacity="0.95"/>
<circle cx="206.2" cy="66.4" r="0.5" fill="#111" fill-opacity="0.95"/>
<circle cx="184.2" cy="94.8" r="0.5" fill="#111" fill-opacity="0.95"/>
<circle cx="173.2" cy="68.5" r="0.5" fill="#111" fill-opacity="0.95"/>
<circle cx="174.2" cy="68.2" r="0.5" fill="#111" fill-opacity="0.95"/>
<circle cx="203.6" cy="69.4" r="0.5" fill="#111" fill-opacity="0.95"/>
<circle cx="207.0" cy="77.9" r="0.5" fill="#111" fill-opacity="0.95"/>
<circle cx="185.1" cy="91.8" r="0.5" fill="#111" fill-opacity="0.95"/>
<circle cx="193.5" cy="91.7" r="0.5" fill="#111" fill-opacity="0.95"/>
<circle cx="190.1" cy="65.8" r="0.5" fill="#111" fill-opacity="0.95"/>
<circle cx="179.2" cy="65.7" r="0.5" fill="#111" fill-opacity="0.95"/>
<circle cx="202.9" cy="85.1" r="0.5" fill="#111" fill-opacity="0.95"/>
<circle cx="184.0" cy="92.1" r="0.5" fill="#111" fill-opacity="0.95"/>
<circle cx="196.0" cy="86.0" r="0.5" fill="#111" fill-opacity="0.95"/>
<circle cx="204.3" cy="67.9" r="0.5" fill="#111" fill-opacity="0.95"/>
<circle cx="195.2" cy="87.3" r="0.5" fill="#111" fill-opacity="0.95"/>
<circle cx="188.6" cy="62.1" r="0.5" fill="#111" fill-opacity="0.95"/>
<circle cx="194.2" cy="64.7" r="0.5" fill="#111" fill-opacity="0.95"/>
<circle cx="181.1" cy="66.4" r="0.5" fill="#111" fill-opacity="0.95"/>
<circle cx="202.2" cy="86.5" r="0.5" fill="#111" fill-opacity="0.95"/>
<circle cx="179.1" cy="64.8" r="0.5" fill="#111" fill-opacity="0.95"/>
<circle cx="206.1" cy="77.3" r="0.5" fill="#111" fill-opacity="0.95"/>
<circle cx="200.6" cy="64.9" r="0.5" fill="#111" fill-opacity="0.95"/>
<circle cx="173.7" cy="64.8" r="0.5" fill="#111" fill-opacity="0.95"/>
<circle cx="194.1" cy="65.8" r="0.5" fill="#111" fill-opacity="0.95"/>
<circle cx="205.3" cy="82.0" r="0.5" fill="#111" fill-opacity="0.95"/>
<circle cx="188.0" cy="90.0" r="0.5" fill="#111" fill-opacity="0.95"/>
<circle cx="189.9" cy="64.3" r="0.5" fill="#111" fill-opacity="0.95"/>
<circle cx="182.7" cy="92.7" r="0.5" fill="#111" fill-opacity="0.95"/>
<circle cx="173.4" cy="68.0" r="0.5" fill="#111" fill-opacity="0.95"/>
<circle cx="205.1" cy="70.9" r="0.5" fill="#111" fill-opacity="0.95"/>
<circle cx="190.7" cy="65.0" r="0.5" fill="#111" fill-opacity="0.95"/>
<circle cx="203.4" cy="83.9" r="0.5" fill="#111" fill-opacity="0.95"/>
<circle cx="174.4" cy="68.1" r="0.5" fill="#111" fill-opacity="0.95"/>
<circle cx="196.6" cy="65.2" r="0.5" fill="#111" fill-opacity="0.95"/>
<circle cx="186.1" cy="63.3" r="0.5" fill="#111" fill-opacity="0.95"/>
<circle cx="194.2" cy="87.7" r="0.5" fill="#111" fill-opacity="0.95"/>
<circle cx="186.7" cy="65.4" r="0.5" fill="#111" fill-opacity="0.95"/>
<circle cx="181.9" cy="92.7" r="0.5" fill="#111" fill-opacity="0.95"/>
<circle cx="188.5" cy="61.2" r="0.5" fill="#111" fill-opacity="0.95"/>
<circle cx="187.9" cy="64.5" r="0.5" fill="#111" fill-opacity="0.95"/>
<circle cx="183.2" cy="92.1" r="0.5" fill="#111" fill-opacity="0.95"/>
<circle cx="205.8" cy="70.5" r="0.5" fill="#111" fill-opacity="0.95"/>
<circle cx="203.0" cy="64.6" r="0.5" fill="#111" fill-opacity="0.95"/>
<circle cx="203.5" cy="83.6" r="0.5" fill="#111" fill-opacity="0.95"/>
<circle cx="200.9" cy="65.5" r="0.5" fill="#111" fill-opacity="0.95"/>
<circle cx="187.2" cy="63.6" r="0.5" fill="#111" fill-opacity="0.95"/>
<circle cx="175.7" cy="68.4" r="0.5" fill="#111" fill-opacity="0.95"/>
<circle cx="176.7" cy="69.3" r="0.5" fill="#111" fill-opacity="0.95"/>
<circle cx="189.2" cy="92.9" r="0.5" fill="#111" fill-opacity="0.95"/>
<circle cx="201.0" cy="89.4" r="0.5" fill="#111" fill-opacity="0.95"/>
<circle cx="196.1" cy="64.3" r="0.5" fill="#111" fill-opacity="0.95"/>
<circle cx="185.0" cy="61.7" r="0.5" fill="#111" fill-opacity="0.95"/>
<circle cx="174.1" cy="68.2" r="0.5" fill="#111" fill-opacity="0.95"/>
<circle cx="202.7" cy="82.3" r="0.5" fill="#111" fill-opacity="0.95"/>
<circle cx="196.7" cy="63.0" r="0.5" fill="#111" fill-opacity="0.95"/>
<circle cx="183.4" cy="63.7" r="0.5" fill="#111" fill-opacity="0.95"/>
<circle cx="197.8" cy="64.6" r="0.5" fill="#111" fill-opacity="0.95"/>
<circle cx="184.6" cy="96.0" r="0.5" fill="#111" fill-opacity="0.95"/>
<circle cx="186.7" cy="61.1" r="0.5" fill="#111" fill-opacity="0.95"/>
<circle cx="198.6" cy="63.2" r="0.5" fill="#111" fill-opacity="0.95"/>
<circle cx="203.6" cy="67.1" r="0.5" fill="#111" fill-opacity="0.95"/>
<circle cx="175.3" cy="68.9" r="0.5" fill="#111" fill-opacity="0.95"/>
<circle cx="185.8" cy="91.8" r="0.5" fill="#111" fill-opacity="0.95"/>
<circle cx="185.8" cy="65.6" r="0.5" fill="#111" fill-opacity="0.95"/>
<circle cx="175.3" cy="64.8" r="0.5" fill="#111" fill-opacity="0.95"/>
<circle cx="202.5" cy="64.5" r="0.5" fill="#111" fill-opacity="0.95"/>
<circle cx="174.6" cy="69.0" r="0.5" fill="#111" fill-opacity="0.95"/>
<circle cx="176.0" cy="64.0" r="0.5" fill="#111" fill-opacity="0.95"/>
<circle cx="190.5" cy="62.8" r="0.5" fill="#111" fill-opacity="0.95"/>
<circle cx="198.4" cy="87.3" r="0.5" fill="#111" fill-opacity="0.95"/>
<circle cx="191.8" cy="64.8" r="0.5" fill="#111" fill-opacity="0.95"/>
<circle cx="182.8" cy="92.4" r="0.5" fill="#111" fill-opacity="0.95"/>
<circle cx="199.4" cy="84.5" r="0.5" fill="#111" fill-opacity="0.95"/>
<circle cx="195.2" cy="64.3" r="0.5" fill="#111" fill-opacity="0.95"/>
<circle cx="197.1" cy="86.5" r="0.5" fill="#111" fill-opacity="0.95"/>
<circle cx="185.5" cy="90.6" r="0.5" fill="#111" fill-opacity="0.95"/>
<circle cx="173.4" cy="68.7" r="0.5" fill="#111" fill-opacity="0.95"/>
<circle cx="189.0" cy="66.1" r="0.5" fill="#111" fill-opacity="0.95"/>
<circle cx="183.5" cy="93.3" r="0.5" fill="#111" fill-opacity="0.95"/>
<circle cx="200.4" cy="65.3" r="0.5" fill="#111" fill-opacity="0.95"/>
<circle cx="207.3" cy="69.9" r="0.5" fill="#111" fill-opacity="0.95"/>
<circle cx="185.6" cy="93.1" r="0.5" fill="#111" fill-opacity="0.95"/>
<circle cx="199.9" cy="88.4" r="0.5" fill="#111" fill-opacity="0.95"/>
<circle cx="192.6" cy="88.9" r="0.5" fill="#111" fill-opacity="0.95"/>
<circle cx="195.8" cy="65.0" r="0.5" fill="#111" fill-opacity="0.95"/>
<circle cx="195.5" cy="64.9" r="0.5" fill="#111" fill-opacity="0.95"/>
<circle cx="176.6" cy="65.4" r="0.5" fill="#111" fill-opacity="0.95"/>
<circle cx="186.1" cy="64.7" r="0.5" fill="#111" fill-opacity="0.95"/>
<circle cx="176.8" cy="68.7" r="0.5" fill="#111" fill-opacity="0.95"/>
<circle cx="174.2" cy="68.4" r="0.5" fill="#111" fill-opacity="0.95"/>
<circle cx="181.3" cy="93.2" r="0.5" fill="#111" fill-opacity="0.95"/>
<circle cx="188.8" cy="91.9" r="0.5" fill="#111" fill-opacity="0.95"/>
<circle cx="178.0" cy="67.7" r="0.5" fill="#111" fill-opacity="0.95"/>
<circle cx="179.2" cy="68.2" r="0.5" fill="#111" fill-opacity="0.95"/>
<circle cx="204.3" cy="67.1" r="0.5" fill="#111" fill-opacity="0.95"/>
<circle cx="188.9" cy="65.3" r="0.5" fill="#111" fill-opacity="0.95"/>
<circle cx="203.1" cy="84.2" r="0.5" fill="#111" fill-opacity="0.95"/>
<circle cx="198.4" cy="87.5" r="0.5" fill="#111" fill-opacity="0.95"/>
<circle cx="180.9" cy="67.3" r="0.5" fill="#111" fill-opacity="0.95"/>
<circle cx="191.1" cy="88.9" r="0.5" fill="#111" fill-opacity="0.95"/>
<circle cx="200.0" cy="62.6" r="0.5" fill="#111" fill-opacity="0.95"/>
<circle cx="198.4" cy="86.0" r="0.5" fill="#111" fill-opacity="0.95"/>
<circle cx="189.7" cy="63.1" r="0.5" fill="#111" fill-opacity="0.95"/>
<circle cx="182.1" cy="63.9" r="0.5" fill="#111" fill-opacity="0.95"/>
<circle cx="196.0" cy="64.7" r="0.5" fill="#111" fill-opacity="0.95"/>
<circle cx="201.7" cy="63.2" r="0.5" fill="#111" fill-opacity="0.95"/>
<circle cx="188.7" cy="64.6" r="0.5" fill="#111" fill-opacity="0.95"/>
<circle cx="193.0" cy="87.2" r="0.5" fill="#111" fill-opacity="0.95"/>
<circle cx="179.9" cy="68.5" r="0.5" fill="#111" fill-opacity="0.95"/>
<circle cx="206.4" cy="68.7" r="0.5" fill="#111" fill-opacity="0.95"/>
<circle cx="185.6" cy="90.4" r="0.5" fill="#111" fill-opacity="0.95"/>
<circle cx="174.9" cy="68.2" r="0.5" fill="#111" fill-opacity="0.95"/>
<circle cx="185.4" cy="63.8" r="0.5" fill="#111" fill-opacity="0.95"/>
<circle cx="181.4" cy="92.1" r="0.5" fill="#111" fill-opacity="0.95"/>
<circle cx="199.2" cy="65.7" r="0.5" fill="#111" fill-opacity="0.95"/>
<circle cx="189.2" cy="89.5" r="0.5" fill="#111" fill-opacity="0.95"/>
<circle cx="195.8" cy="87.6" r="0.5" fill="#111" fill-opacity="0.95"/>
<circle cx="184.7" cy="94.3" r="0.5" fill="#111" fill-opacity="0.95"/>
<circle cx="206.1" cy="80.2" r="0.5" fill="#111" fill-opacity="0.95"/>
<circle cx="187.6" cy="64.9" r="0.5" fill="#111" fill-opacity="0.95"/>
<circle cx="186.5" cy="63.9" r="0.5" fill="#111" fill-opacity="0.95"/>
<circle cx="190.5" cy="65.2" r="0.5" fill="#111" fill-opacity="0.95"/>
<circle cx="186.6" cy="65.2" r="0.5" fill="#111" fill-opacity="0.95"/>
<circle cx="172.7" cy="67.7" r="0.5" fill="#111" fill-opacity="0.95"/>
<circle cx="185.0" cy="62.1" r="0.5" fill="#111" fill-opacity="0.95"/>
<circle cx="194.8" cy="63.2" r="0.5" fill="#111" fill-opacity="0.95"/>
<circle cx="209.0" cy="75.3" r="0.5" fill="#111" fill-opacity="0.95"/>
<circle cx="175.9" cy="66.8" r="0.5" fill="#111" fill-opacity="0.95"/>
<circle cx="206.8" cy="74.9" r="0.5" fill="#111" fill-opacity="0.95"/>
<circle cx="205.1" cy="81.5" r="0.5" fill="#111" fill-opacity="0.95"/>
<circle cx="201.3" cy="84.5" r="0.5" fill="#111" fill-opacity="0.95"/>
<circle cx="202.1" cy="65.8" r="0.5" fill="#111" fill-opacity="0.95"/>
<circle cx="184.0" cy="94.1" r="0.5" fill="#111" fill-opacity="0.95"/>
<circle cx="194.9" cy="64.8" r="0.5" fill="#111" fill-opacity="0.95"/>
<circle cx="202.6" cy="66.1" r="0.5" fill="#111" fill-opacity="0.95"/>
<circle cx="190.3" cy="91.6" r="0.5" fill="#111" fill-opacity="0.95"/>
<circle cx="186.1" cy="64.8" r="0.5" fill="#111" fill-opacity="0.95"/>
<circle cx="198.9" cy="85.3" r="0.5" fill="#111" fill-opacity="0.95"/>
<circle cx="187.0" cy="91.2" r="0.5" fill="#111" fill-opacity="0.95"/>
<circle cx="203.4" cy="65.1" r="0.5" fill="#111" fill-opacity="0.95"/>
<circle cx="188.0" cy="89.9" r="0.5" fill="#111" fill-opacity="0.95"/>
<circle cx="204.7" cy="68.0" r="0.5" fill="#111" fill-opacity="0.95"/>
<circle cx="205.9" cy="74.8" r="0.5" fill="#111" fill-opacity="0.95"/>
<circle cx="204.8" cy="81.6" r="0.5" fill="#111" fill-opacity="0.95"/>
<circle cx="204.3" cy="80.0" r="0.5" fill="#111" fill-opacity="0.95"/>
<circle cx="199.2" cy="65.3" r="0.5" fill="#111" fill-opacity="0.95"/>
<circle cx="192.7" cy="64.4" r="0.5" fill="#111" fill-opacity="0.95"/>
<circle cx="206.7" cy="72.3" r="0.5" fill="#111" fill-opacity="0.95"/>
<circle cx="205.1" cy="70.3" r="0.5" fill="#111" fill-opacity="0.95"/>
<circle cx="194.2" cy="89.2" r="0.5" fill="#111" fill-opacity="0.95"/>
<circle cx="181.0" cy="66.5" r="0.5" fill="#111" fill-opacity="0.95"/>
<circle cx="184.9" cy="94.3" r="0.5" fill="#111" fill-opacity="0.95"/>
<circle cx="175.8" cy="68.5" r="0.5" fill="#111" fill-opacity="0.95"/>
<circle cx="184.8" cy="90.8" r="0.5" fill="#111" fill-opacity="0.95"/>
<circle cx="207.2" cy="80.5" r="0.5" fill="#111" fill-opacity="0.95"/>
<circle cx="193.0" cy="90.3" r="0.5" fill="#111" fill-opacity="0.95"/>
<circle cx="187.8" cy="61.7" r="0.5" fill="#111" fill-opacity="0.95"/>
<circle cx="202.3" cy="63.6" r="0.5" fill="#111" fill-opacity="0.95"/>
<circle cx="185.3" cy="65.7" r="0.5" fill="#111" fill-opacity="0.95"/>
<circle cx="187.7" cy="65.2" r="0.5" fill="#111" fill-opacity="0.95"/>
<circle cx="200.5" cy="63.9" r="0.5" fill="#111" fill-opacity="0.95"/>
<circle cx="180.7" cy="66.5" r="0.5" fill="#111" fill-opacity="0.95"/>
<circle cx="188.5" cy="93.8" r="0.5" fill="#111" fill-opacity="0.95"/>
<circle cx="174.6" cy="69.0" r="0.5" fill="#111" fill-opacity="0.95"/>
<circle cx="174.6" cy="68.4" r="0.5" fill="#111" fill-opacity="0.95"/>
<circle cx="192.1" cy="90.9" r="0.5" fill="#111" fill-opacity="0.95"/>
<circle cx="207.4" cy="75.1" r="0.5" fill="#111" fill-opacity="0.95"/>
<circle cx="204.1" cy="80.4" r="0.5" fill="#111" fill-opacity="0.95"/>
<circle cx="207.0" cy="77.5" r="0.5" fill="#111" fill-opacity="0.95"/>
<circle cx="203.2" cy="66.4" r="0.5" fill="#111" fill-opacity="0.95"/>
<circle cx="203.5" cy="66.6" r="0.5" fill="#111" fill-opacity="0.95"/>
<circle cx="173.5" cy="68.1" r="0.5" fill="#111" fill-opacity="0.95"/>
<circle cx="189.0" cy="65.1" r="0.5" fill="#111" fill-opacity="0.95"/>
<circle cx="196.7" cy="87.0" r="0.5" fill="#111" fill-opacity="0.95"/>
<circle cx="185.0" cy="65.5" r="0.5" fill="#111" fill-opacity="0.95"/>
<circle cx="205.6" cy="68.8" r="0.5" fill="#111" fill-opacity="0.95"/>
<circle cx="203.8" cy="65.5" r="0.5" fill="#111" fill-opacity="0.95"/>
<circle cx="178.8" cy="68.1" r="0.5" fill="#111" fill-opacity="0.95"/>
<circle cx="175.2" cy="67.3" r="0.5" fill="#111" fill-opacity="0.95"/>
<circle cx="207.0" cy="81.7" r="0.5" fill="#111" fill-opacity="0.95"/>
<circle cx="196.2" cy="88.7" r="0.5" fill="#111" fill-opacity="0.95"/>
<circle cx="207.8" cy="71.2" r="0.5" fill="#111" fill-opacity="0.95"/>
<circle cx="200.0" cy="64.4" r="0.5" fill="#111" fill-opacity="0.95"/>
<circle cx="184.5" cy="94.9" r="0.5" fill="#111" fill-opacity="0.95"/>
<circle cx="181.5" cy="96.6" r="0.5" fill="#111" fill-opacity="0.95"/>
<circle cx="198.8" cy="85.8" r="0.5" fill="#111" fill-opacity="0.95"/>
<circle cx="181.1" cy="93.1" r="0.5" fill="#111" fill-opacity="0.95"/>
<circle cx="209.3" cy="69.2" r="0.5" fill="#111" fill-opacity="0.95"/>
<circle cx="183.9" cy="65.7" r="0.5" fill="#111" fill-opacity="0.95"/>
<circle cx="195.1" cy="88.1" r="0.5" fill="#111" fill-opacity="0.95"/>
<circle cx="197.7" cy="64.7" r="0.5" fill="#111" fill-opacity="0.95"/>
<circle cx="198.2" cy="88.3" r="0.5" fill="#111" fill-opacity="0.95"/>
<circle cx="191.8" cy="60.8" r="0.5" fill="#111" fill-opacity="0.95"/>
<circle cx="193.5" cy="89.7" r="0.5" fill="#111" fill-opacity="0.95"/>
<circle cx="186.4" cy="93.2" r="0.5" fill="#111" fill-opacity="0.95"/>
<circle cx="186.9" cy="64.8" r="0.5" fill="#111" fill-opacity="0.95"/>
<circle cx="195.3" cy="61.9" r="0.5" fill="#111" fill-opacity="0.95"/>
<circle cx="174.8" cy="67.5" r="0.5" fill="#111" fill-opacity="0.95"/>
<circle cx="184.9" cy="93.0" r="0.5" fill="#111" fill-opacity="0.95"/>
<circle cx="202.5" cy="84.1" r="0.5" fill="#111" fill-opacity="0.95"/>
<circle cx="195.0" cy="87.2" r="0.5" fill="#111" fill-opacity="0.95"/>
<circle cx="180.5" cy="67.6" r="0.5" fill="#111" fill-opacity="0.95"/>
<circle cx="198.4" cy="65.0" r="0.5" fill="#111" fill-opacity="0.95"/>
<circle cx="188.6" cy="89.4" r="0.5" fill="#111" fill-opacity="0.95"/>
<circle cx="188.1" cy="90.2" r="0.5" fill="#111" fill-opacity="0.95"/>
<circle cx="178.4" cy="64.5" r="0.5" fill="#111" fill-opacity="0.95"/>
<circle cx="201.0" cy="65.5" r="0.5" fill="#111" fill-opacity="0.95"/>
<circle cx="194.1" cy="87.6" r="0.5" fill="#111" fill-opacity="0.95"/>
<circle cx="211.1" cy="78.0" r="0.5" fill="#111" fill-opacity="0.95"/>
<circle cx="198.5" cy="64.6" r="0.5" fill="#111" fill-opacity="0.95"/>
<circle cx="184.8" cy="65.6" r="0.5" fill="#111" fill-opacity="0.95"/>
<circle cx="199.7" cy="88.9" r="0.5" fill="#111" fill-opacity="0.95"/>
<circle cx="190.3" cy="63.4" r="0.5" fill="#111" fill-opacity="0.95"/>
<circle cx="206.7" cy="81.9" r="0.5" fill="#111" fill-opacity="0.95"/>
<circle cx="203.0" cy="82.6" r="0.5" fill="#111" fill-opacity="0.95"/>
<circle cx="194.9" cy="63.7" r="0.5" fill="#111" fill-opacity="0.95"/>
<circle cx="182.6" cy="65.8" r="0.5" fill="#111" fill-opacity="0.95"/>
<circle cx="203.9" cy="79.5" r="0.5" fill="#111" fill-opacity="0.95"/>
<circle cx="187.7" cy="91.7" r="0.5" fill="#111" fill-opacity="0.95"/>
<circle cx="181.2" cy="65.9" r="0.5" fill="#111" fill-opacity="0.95"/>
<circle cx="174.6" cy="64.9" r="0.5" fill="#111" fill-opacity="0.95"/>
<circle cx="172.1" cy="67.2" r="0.5" fill="#111" fill-opacity="0.95"/>
<circle cx="198.4" cy="64.0" r="0.5" fill="#111" fill-opacity="0.95"/>
<circle cx="188.2" cy="65.3" r="0.5" fill="#111" fill-opacity="0.95"/>
<circle cx="186.6" cy="65.1" r="0.5" fill="#111" fill-opacity="0.95"/>
<circle cx="204.1" cy="80.1" r="0.5" fill="#111" fill-opacity="0.95"/>
<circle cx="184.5" cy="92.2" r="0.5" fill="#111" fill-opacity="0.95"/>
<circle cx="189.6" cy="64.0" r="0.5" fill="#111" fill-opacity="0.95"/>
<circle cx="204.9" cy="81.4" r="0.5" fill="#111" fill-opacity="0.95"/>
<circle cx="189.2" cy="90.4" r="0.5" fill="#111" fill-opacity="0.95"/>
<circle cx="191.2" cy="65.1" r="0.5" fill="#111" fill-opacity="0.95"/>
<circle cx="172.7" cy="67.8" r="0.5" fill="#111" fill-opacity="0.95"/>
<circle cx="197.6" cy="65.2" r="0.5" fill="#111" fill-opacity="0.95"/>
<circle cx="187.4" cy="85.4" r="0.5" fill="#111" fill-opacity="0.9"/>
<circle cx="202.5" cy="86.1" r="0.5" fill="#111" fill-opacity="0.9"/>
<circle cx="192.1" cy="94.5" r="0.5" fill="#111" fill-opacity="0.9"/>
<circle cx="200.3" cy="89.0" r="0.5" fill="#111" fill-opacity="0.9"/>
<circle cx="187.7" cy="89.2" r="0.5" fill="#111" fill-opacity="0.9"/>
<circle cx="203.4" cy="89.9" r="0.5" fill="#111" fill-opacity="0.9"/>
<circle cx="200.8" cy="88.3" r="0.5" fill="#111" fill-opacity="0.9"/>
<circle cx="195.6" cy="87.4" r="0.5" fill="#111" fill-opacity="0.9"/>
<circle cx="195.0" cy="91.9" r="0.5" fill="#111" fill-opacity="0.9"/>
<circle cx="182.0" cy="87.8" r="0.5" fill="#111" fill-opacity="0.9"/>
<circle cx="193.7" cy="86.3" r="0.5" fill="#111" fill-opacity="0.9"/>
<circle cx="189.8" cy="90.4" r="0.5" fill="#111" fill-opacity="0.9"/>
<circle cx="206.0" cy="89.9" r="0.5" fill="#111" fill-opacity="0.9"/>
<circle cx="194.3" cy="83.3" r="0.5" fill="#111" fill-opacity="0.9"/>
<circle cx="205.5" cy="88.2" r="0.5" fill="#111" fill-opacity="0.9"/>
<circle cx="191.8" cy="84.6" r="0.5" fill="#111" fill-opacity="0.9"/>
<circle cx="191.6" cy="84.7" r="0.5" fill="#111" fill-opacity="0.9"/>
<circle cx="192.5" cy="89.4" r="0.5" fill="#111" fill-opacity="0.9"/>
<circle cx="192.2" cy="88.8" r="0.5" fill="#111" fill-opacity="0.9"/>
<circle cx="186.0" cy="92.3" r="0.5" fill="#111" fill-opacity="0.9"/>
<circle cx="187.4" cy="82.5" r="0.5" fill="#111" fill-opacity="0.9"/>
<circle cx="190.7" cy="85.7" r="0.5" fill="#111" fill-opacity="0.9"/>
<circle cx="184.9" cy="86.9" r="0.5" fill="#111" fill-opacity="0.9"/>
<circle cx="194.0" cy="84.5" r="0.5" fill="#111" fill-opacity="0.9"/>
<circle cx="191.0" cy="92.3" r="0.5" fill="#111" fill-opacity="0.9"/>
<circle cx="196.8" cy="87.5" r="0.5" fill="#111" fill-opacity="0.9"/>
<circle cx="192.9" cy="87.6" r="0.5" fill="#111" fill-opacity="0.9"/>
<circle cx="191.7" cy="90.2" r="0.5" fill="#111" fill-opacity="0.9"/>
<circle cx="191.4" cy="80.8" r="0.5" fill="#111" fill-opacity="0.9"/>
<circle cx="191.8" cy="85.3" r="0.5" fill="#111" fill-opacity="0.9"/>
<circle cx="196.6" cy="86.2" r="0.5" fill="#111" fill-opacity="0.9"/>
<circle cx="193.0" cy="94.5" r="0.5" fill="#111" fill-opacity="0.9"/>
<circle cx="184.7" cy="84.6" r="0.5" fill="#111" fill-opacity="0.9"/>
<circle cx="182.1" cy="80.8" r="0.5" fill="#111" fill-opacity="0.9"/>
<circle cx="178.9" cy="89.1" r="0.5" fill="#111" fill-opacity="0.9"/>
<circle cx="187.5" cy="82.4" r="0.5" fill="#111" fill-opacity="0.9"/>
<circle cx="181.6" cy="89.9" r="0.5" fill="#111" fill-opacity="0.9"/>
<circle cx="186.6" cy="86.9" r="0.5" fill="#111" fill-opacity="0.9"/>
<circle cx="194.3" cy="92.1" r="0.5" fill="#111" fill-opacity="0.9"/>
<circle cx="205.6" cy="91.1" r="0.5" fill="#111" fill-opacity="0.9"/>
<circle cx="193.0" cy="88.6" r="0.5" fill="#111" fill-opacity="0.9"/>
<circle cx="204.6" cy="92.3" r="0.5" fill="#111" fill-opacity="0.9"/>
<circle cx="189.8" cy="89.4" r="0.5" fill="#111" fill-opacity="0.9"/>
<circle cx="194.0" cy="88.2" r="0.5" fill="#111" fill-opacity="0.9"/>
<circle cx="188.5" cy="84.0" r="0.5" fill="#111" fill-opacity="0.9"/>
<circle cx="188.3" cy="83.4" r="0.5" fill="#111" fill-opacity="0.9"/>
<circle cx="200.6" cy="89.6" r="0.5" fill="#111" fill-opacity="0.9"/>
<circle cx="183.6" cy="92.2" r="0.5" fill="#111" fill-opacity="0.9"/>
<circle cx="198.2" cy="82.3" r="0.5" fill="#111" fill-opacity="0.9"/>
<circle cx="204.9" cy="90.4" r="0.5" fill="#111" fill-opacity="0.9"/>
<circle cx="206.4" cy="84.3" r="0.5" fill="#111" fill-opacity="0.9"/>
<circle cx="195.7" cy="89.3" r="0.5" fill="#111" fill-opacity="0.9"/>
<circle cx="193.4" cy="88.5" r="0.5" fill="#111" fill-opacity="0.9"/>
<circle cx="199.4" cy="83.5" r="0.5" fill="#111" fill-opacity="0.9"/>
<circle cx="183.3" cy="83.8" r="0.5" fill="#111" fill-opacity="0.9"/>
<circle cx="188.1" cy="86.2" r="0.5" fill="#111" fill-opacity="0.9"/>
<circle cx="194.6" cy="88.8" r="0.5" fill="#111" fill-opacity="0.9"/>
<circle cx="192.2" cy="86.0" r="0.5" fill="#111" fill-opacity="0.9"/>
<circle cx="188.9" cy="90.9" r="0.5" fill="#111" fill-opacity="0.9"/>
<circle cx="197.3" cy="88.3" r="0.5" fill="#111" fill-opacity="0.9"/>
<circle cx="170.4" cy="103.6" r="0.5" fill="#111" fill-opacity="0.95"/>
<circle cx="169.3" cy="105.4" r="0.5" fill="#111" fill-opacity="0.95"/>
<circle cx="157.5" cy="87.9" r="0.5" fill="#111" fill-opacity="0.95"/>
<circle cx="159.6" cy="106.5" r="0.5" fill="#111" fill-opacity="0.95"/>
<circle cx="178.4" cy="94.6" r="0.5" fill="#111" fill-opacity="0.95"/>
<circle cx="157.3" cy="98.4" r="0.5" fill="#111" fill-opacity="0.95"/>
<circle cx="169.0" cy="106.8" r="0.5" fill="#111" fill-opacity="0.95"/>
<circle cx="171.4" cy="100.1" r="0.5" fill="#111" fill-opacity="0.95"/>
<circle cx="155.4" cy="93.7" r="0.5" fill="#111" fill-opacity="0.95"/>
<circle cx="174.0" cy="98.5" r="0.5" fill="#111" fill-opacity="0.95"/>
<circle cx="179.8" cy="93.4" r="0.5" fill="#111" fill-opacity="0.95"/>
<circle cx="154.6" cy="87.5" r="0.5" fill="#111" fill-opacity="0.95"/>
<circle cx="179.8" cy="94.5" r="0.5" fill="#111" fill-opacity="0.95"/>
<circle cx="157.8" cy="97.0" r="0.5" fill="#111" fill-opacity="0.95"/>
<circle cx="172.1" cy="98.5" r="0.5" fill="#111" fill-opacity="0.95"/>
<circle cx="157.6" cy="95.1" r="0.5" fill="#111" fill-opacity="0.95"/>
<circle cx="171.8" cy="102.9" r="0.5" fill="#111" fill-opacity="0.95"/>
<circle cx="171.7" cy="100.1" r="0.5" fill="#111" fill-opacity="0.95"/>
<circle cx="158.8" cy="102.2" r="0.5" fill="#111" fill-opacity="0.95"/>
<circle cx="159.3" cy="105.6" r="0.5" fill="#111" fill-opacity="0.95"/>
<circle cx="175.6" cy="94.3" r="0.5" fill="#111" fill-opacity="0.95"/>
<circle cx="158.5" cy="97.5" r="0.5" fill="#111" fill-opacity="0.95"/>
<circle cx="159.7" cy="106.0" r="0.5" fill="#111" fill-opacity="0.95"/>
<circle cx="168.5" cy="109.8" r="0.5" fill="#111" fill-opacity="0.95"/>
<circle cx="154.9" cy="92.2" r="0.5" fill="#111" fill-opacity="0.95"/>
<circle cx="178.4" cy="92.8" r="0.5" fill="#111" fill-opacity="0.95"/>
<circle cx="172.0" cy="99.7" r="0.5" fill="#111" fill-opacity="0.95"/>
<circle cx="161.5" cy="113.5" r="0.5" fill="#111" fill-opacity="0.95"/>
<circle cx="168.9" cy="109.1" r="0.5" fill="#111" fill-opacity="0.95"/>
<circle cx="164.9" cy="111.1" r="0.5" fill="#111" fill-opacity="0.95"/>
<circle cx="162.0" cy="110.3" r="0.5" fill="#111" fill-opacity="0.95"/>
<circle cx="159.9" cy="104.9" r="0.5" fill="#111" fill-opacity="0.95"/>
<circle cx="169.0" cy="106.9" r="0.5" fill="#111" fill-opacity="0.95"/>
<circle cx="156.9" cy="94.6" r="0.5" fill="#111" fill-opacity="0.95"/>
<circle cx="159.0" cy="104.2" r="0.5" fill="#111" fill-opacity="0.95"/>
<circle cx="165.8" cy="110.3" r="0.5" fill="#111" fill-opacity="0.95"/>
<circle cx="158.2" cy="98.2" r="0.5" fill="#111" fill-opacity="0.95"/>
<circle cx="164.9" cy="111.2" r="0.5" fill="#111" fill-opacity="0.95"/>
<circle cx="157.2" cy="92.2" r="0.5" fill="#111" fill-opacity="0.95"/>
<circle cx="170.9" cy="104.9" r="0.5" fill="#111" fill-opacity="0.95"/>
<circle cx="158.1" cy="102.1" r="0.5" fill="#111" fill-opacity="0.95"/>
<circle cx="172.9" cy="97.2" r="0.5" fill="#111" fill-opacity="0.95"/>
<circle cx="171.0" cy="101.8" r="0.5" fill="#111" fill-opacity="0.95"/>
<circle cx="174.3" cy="98.0" r="0.5" fill="#111" fill-opacity="0.95"/>
<circle cx="170.8" cy="106.4" r="0.5" fill="#111" fill-opacity="0.95"/>
<circle cx="155.0" cy="101.0" r="0.5" fill="#111" fill-opacity="0.95"/>
<circle cx="174.4" cy="94.3" r="0.5" fill="#111" fill-opacity="0.95"/>
<circle cx="168.3" cy="108.6" r="0.5" fill="#111" fill-opacity="0.95"/>
<circle cx="156.0" cy="86.9" r="0.5" fill="#111" fill-opacity="0.95"/>
<circle cx="165.7" cy="109.9" r="0.5" fill="#111" fill-opacity="0.95"/>
<circle cx="172.1" cy="99.2" r="0.5" fill="#111" fill-opacity="0.95"/>
<circle cx="171.9" cy="99.7" r="0.5" fill="#111" fill-opacity="0.95"/>
<circle cx="168.9" cy="109.8" r="0.5" fill="#111" fill-opacity="0.95"/>
<circle cx="157.6" cy="97.3" r="0.5" fill="#111" fill-opacity="0.95"/>
<circle cx="159.2" cy="102.4" r="0.5" fill="#111" fill-opacity="0.95"/>
<circle cx="164.9" cy="111.3" r="0.5" fill="#111" fill-opacity="0.95"/>
<circle cx="173.1" cy="96.4" r="0.5" fill="#111" fill-opacity="0.95"/>
<circle cx="158.4" cy="100.0" r="0.5" fill="#111" fill-opacity="0.95"/>
<circle cx="157.6" cy="90.9" r="0.5" fill="#111" fill-opacity="0.95"/>
<circle cx="157.4" cy="99.7" r="0.5" fill="#111" fill-opacity="0.95"/>
<circle cx="166.9" cy="110.1" r="0.5" fill="#111" fill-opacity="0.95"/>
<circle cx="155.3" cy="92.7" r="0.5" fill="#111" fill-opacity="0.95"/>
<circle cx="158.2" cy="98.2" r="0.5" fill="#111" fill-opacity="0.95"/>
<circle cx="159.5" cy="103.1" r="0.5" fill="#111" fill-opacity="0.95"/>
<circle cx="159.6" cy="105.2" r="0.5" fill="#111" fill-opacity="0.95"/>
<circle cx="159.1" cy="106.1" r="0.5" fill="#111" fill-opacity="0.95"/>
<circle cx="174.8" cy="95.5" r="0.5" fill="#111" fill-opacity="0.95"/>
<circle cx="157.3" cy="101.7" r="0.5" fill="#111" fill-opacity="0.95"/>
<circle cx="159.4" cy="105.9" r="0.5" fill="#111" fill-opacity="0.95"/>
<circle cx="166.1" cy="112.1" r="0.5" fill="#111" fill-opacity="0.95"/>
<circle cx="160.0" cy="106.3" r="0.5" fill="#111" fill-opacity="0.95"/>
<circle cx="155.9" cy="89.9" r="0.5" fill="#111" fill-opacity="0.95"/>
<circle cx="172.2" cy="98.4" r="0.5" fill="#111" fill-opacity="0.95"/>
<circle cx="167.8" cy="108.4" r="0.5" fill="#111" fill-opacity="0.95"/>
<circle cx="163.5" cy="112.1" r="0.5" fill="#111" fill-opacity="0.95"/>
<circle cx="161.6" cy="109.9" r="0.5" fill="#111" fill-opacity="0.95"/>
<circle cx="173.5" cy="97.7" r="0.5" fill="#111" fill-opacity="0.95"/>
<circle cx="163.2" cy="110.1" r="0.5" fill="#111" fill-opacity="0.95"/>
<circle cx="174.6" cy="95.3" r="0.5" fill="#111" fill-opacity="0.95"/>
<circle cx="158.6" cy="101.2" r="0.5" fill="#111" fill-opacity="0.95"/>
<circle cx="163.2" cy="110.6" r="0.5" fill="#111" fill-opacity="0.95"/>
<circle cx="162.8" cy="110.2" r="0.5" fill="#111" fill-opacity="0.95"/>
<circle cx="167.7" cy="110.2" r="0.5" fill="#111" fill-opacity="0.95"/>
<circle cx="158.8" cy="103.0" r="0.5" fill="#111" fill-opacity="0.95"/>
<circle cx="168.0" cy="109.0" r="0.5" fill="#111" fill-opacity="0.95"/>
<circle cx="156.8" cy="86.8" r="0.5" fill="#111" fill-opacity="0.95"/>
<circle cx="169.9" cy="107.7" r="0.5" fill="#111" fill-opacity="0.95"/>
<circle cx="167.8" cy="109.5" r="0.5" fill="#111" fill-opacity="0.95"/>
<circle cx="179.3" cy="94.5" r="0.5" fill="#111" fill-opacity="0.95"/>
<circle cx="157.9" cy="102.4" r="0.5" fill="#111" fill-opacity="0.95"/>
<circle cx="157.0" cy="74.6" r="0.5" fill="#111" fill-opacity="0.95"/>
<circle cx="163.9" cy="64.7" r="0.5" fill="#111" fill-opacity="0.95"/>
<circle cx="170.1" cy="66.5" r="0.5" fill="#111" fill-opacity="0.95"/>
<circle cx="165.9" cy="65.3" r="0.5" fill="#111" fill-opacity="0.95"/>
<circle cx="157.2" cy="73.3" r="0.5" fill="#111" fill-opacity="0.95"/>
<circle cx="165.0" cy="64.8" r="0.5" fill="#111" fill-opacity="0.95"/>
<circle cx="166.1" cy="65.5" r="0.5" fill="#111" fill-opacity="0.95"/>
<circle cx="159.6" cy="68.6" r="0.5" fill="#111" fill-opacity="0.95"/>
<circle cx="155.4" cy="78.7" r="0.5" fill="#111" fill-opacity="0.95"/>
<circle cx="161.1" cy="66.6" r="0.5" fill="#111" fill-opacity="0.95"/>
<circle cx="166.4" cy="64.8" r="0.5" fill="#111" fill-opacity="0.95"/>
<circle cx="156.9" cy="76.5" r="0.5" fill="#111" fill-opacity="0.95"/>
<circle cx="158.1" cy="67.9" r="0.5" fill="#111" fill-opacity="0.95"/>
<circle cx="155.7" cy="74.3" r="0.5" fill="#111" fill-opacity="0.95"/>
<circle cx="167.4" cy="65.4" r="0.5" fill="#111" fill-opacity="0.95"/>
<circle cx="155.4" cy="77.6" r="0.5" fill="#111" fill-opacity="0.95"/>
<circle cx="157.5" cy="72.3" r="0.5" fill="#111" fill-opacity="0.95"/>
<circle cx="163.3" cy="65.4" r="0.5" fill="#111" fill-opacity="0.95"/>
<circle cx="156.5" cy="76.9" r="0.5" fill="#111" fill-opacity="0.95"/>
<circle cx="157.0" cy="70.4" r="0.5" fill="#111" fill-opacity="0.95"/>
<circle cx="157.8" cy="72.3" r="0.5" fill="#111" fill-opacity="0.95"/>
<circle cx="157.4" cy="74.4" r="0.5" fill="#111" fill-opacity="0.95"/>
<circle cx="169.9" cy="66.0" r="0.5" fill="#111" fill-opacity="0.95"/>
<circle cx="166.7" cy="65.3" r="0.5" fill="#111" fill-opacity="0.95"/>
<circle cx="169.2" cy="65.9" r="0.5" fill="#111" fill-opacity="0.95"/>
<circle cx="166.8" cy="65.4" r="0.5" fill="#111" fill-opacity="0.95"/>
<circle cx="160.8" cy="66.6" r="0.5" fill="#111" fill-opacity="0.95"/>
<circle cx="170.5" cy="66.5" r="0.5" fill="#111" fill-opacity="0.95"/>
<circle cx="161.4" cy="66.1" r="0.5" fill="#111" fill-opacity="0.95"/>
<circle cx="155.9" cy="81.4" r="0.5" fill="#111" fill-opacity="0.95"/>
<circle cx="183.1" cy="98.2" r="0.45" fill="#222" fill-opacity="0.8"/>
<circle cx="185.6" cy="93.2" r="0.45" fill="#222" fill-opacity="0.8"/>
<circle cx="197.9" cy="98.3" r="0.45" fill="#222" fill-opacity="0.8"/>
<circle cx="181.7" cy="99.1" r="0.45" fill="#222" fill-opacity="0.8"/>
<circle cx="191.4" cy="98.3" r="0.45" fill="#222" fill-opacity="0.8"/>
<circle cx="192.7" cy="99.2" r="0.45" fill="#222" fill-opacity="0.8"/>
<circle cx="195.3" cy="98.7" r="0.45" fill="#222" fill-opacity="0.8"/>
<circle cx="182.3" cy="97.5" r="0.45" fill="#222" fill-opacity="0.8"/>
<circle cx="189.7" cy="97.9" r="0.45" fill="#222" fill-opacity="0.8"/>
<circle cx="187.6" cy="99.1" r="0.45" fill="#222" fill-opacity="0.8"/>
<circle cx="190.2" cy="94.1" r="0.45" fill="#222" fill-opacity="0.8"/>
<circle cx="183.2" cy="93.1" r="0.45" fill="#222" fill-opacity="0.8"/>
<circle cx="188.8" cy="92.5" r="0.45" fill="#222" fill-opacity="0.8"/>
<circle cx="188.3" cy="93.2" r="0.45" fill="#222" fill-opacity="0.8"/>
<circle cx="188.8" cy="96.0" r="0.45" fill="#222" fill-opacity="0.8"/>
<circle cx="189.9" cy="98.9" r="0.45" fill="#222" fill-opacity="0.8"/>
<circle cx="171" cy="29" r="0.6" fill="#444"/>
<circle cx="176" cy="28" r="0.6" fill="#444"/>
<circle cx="178" cy="27.5" r="0.6" fill="#444"/>
<circle cx="187" cy="33" r="0.6" fill="#444"/>
<circle cx="200" cy="29" r="0.6" fill="#444"/>
<circle cx="201" cy="33" r="0.6" fill="#444"/>
<circle cx="204.6" cy="39.6" r="0.6" fill="#444"/>
<circle cx="205" cy="42" r="0.6" fill="#444"/>
<circle cx="209" cy="42" r="0.6" fill="#444"/>
<circle cx="166" cy="49" r="0.6" fill="#444"/>
<circle cx="171" cy="49" r="0.6" fill="#444"/>
<circle cx="180" cy="47" r="0.6" fill="#444"/>
<circle cx="196" cy="46.5" r="0.6" fill="#444"/>
<circle cx="207" cy="46.5" r="0.6" fill="#444"/>
<circle cx="209" cy="49" r="0.6" fill="#444"/>
<circle cx="203" cy="52" r="0.6" fill="#444"/>
<circle cx="203.5" cy="53.5" r="0.6" fill="#444"/>
<circle cx="190" cy="58" r="0.6" fill="#444"/>
<circle cx="202" cy="60" r="0.6" fill="#444"/>
<circle cx="208" cy="60" r="0.6" fill="#444"/>
<circle cx="198" cy="36" r="0.6" fill="#444"/>
<circle cx="206" cy="55" r="0.6" fill="#444"/>
<path d="M158.50,93.00 C160.67,91.67 169.33,91.67 171.50,93.00 C173.67,94.33 172.00,98.50 171.50,101.00 C171.00,103.50 169.75,106.33 168.50,108.00 C167.25,109.67 165.42,111.00 164.00,111.00 C162.58,111.00 160.92,109.67 160.00,108.00 C159.08,106.33 158.75,103.50 158.50,101.00 C158.25,98.50 156.33,94.33 158.50,93.00 Z" fill="#f3ead8" stroke="#8a6a3a" stroke-width="0.65" stroke-opacity="1.0"/>
<path d="M160.45,95.60 C161.91,94.70 167.76,94.70 169.22,95.60 C170.69,96.50 169.56,99.31 169.22,101.00 C168.89,102.69 168.04,104.60 167.20,105.72 C166.36,106.85 165.12,107.75 164.16,107.75 C163.21,107.75 162.08,106.85 161.46,105.72 C160.84,104.60 160.62,102.69 160.45,101.00 C160.28,99.31 158.99,96.50 160.45,95.60 Z" fill="none" stroke="#8a6a3a" stroke-width="0.65" stroke-opacity="1.0"/>
<path d="M162.40,98.20 C163.16,97.73 166.19,97.73 166.95,98.20 C167.71,98.67 167.12,100.12 166.95,101.00 C166.77,101.88 166.34,102.87 165.90,103.45 C165.46,104.03 164.82,104.50 164.32,104.50 C163.83,104.50 163.25,104.03 162.93,103.45 C162.60,102.87 162.49,101.88 162.40,101.00 C162.31,100.12 161.64,98.67 162.40,98.20 Z" fill="none" stroke="#8a6a3a" stroke-width="0.65" stroke-opacity="1.0"/>
<path d="M165.30,63.80 C166.88,63.38 168.47,65.05 170.00,66.00 C171.53,66.95 173.28,67.83 174.50,69.50 C175.72,71.17 176.80,73.58 177.30,76.00 C177.80,78.42 177.97,81.50 177.50,84.00 C177.03,86.50 175.92,89.08 174.50,91.00 C173.08,92.92 170.92,94.75 169.00,95.50 C167.08,96.25 164.75,96.25 163.00,95.50 C161.25,94.75 159.58,92.92 158.50,91.00 C157.42,89.08 156.75,86.50 156.50,84.00 C156.25,81.50 156.33,78.58 157.00,76.00 C157.67,73.42 159.12,70.53 160.50,68.50 C161.88,66.47 163.72,64.22 165.30,63.80 Z" fill="#e6edf4" stroke="#5a6878" stroke-width="0.6" stroke-opacity="1.0"/>
<path d="M165.16,66.38 C166.48,66.04 167.79,67.42 169.06,68.21 C170.34,69.00 171.79,69.73 172.80,71.11 C173.81,72.50 174.71,74.50 175.12,76.51 C175.54,78.52 175.68,81.08 175.29,83.15 C174.90,85.23 173.98,87.37 172.80,88.96 C171.62,90.55 169.83,92.07 168.24,92.69 C166.64,93.32 164.71,93.32 163.25,92.69 C161.80,92.07 160.42,90.55 159.52,88.96 C158.62,87.37 158.07,85.23 157.86,83.15 C157.65,81.08 157.72,78.65 158.28,76.51 C158.83,74.37 160.03,71.97 161.18,70.28 C162.33,68.60 163.85,66.73 165.16,66.38 Z" fill="none" stroke="#5a6878" stroke-width="0.6" stroke-opacity="1.0"/>
<path d="M165.03,68.97 C166.07,68.69 167.12,69.79 168.13,70.42 C169.14,71.05 170.30,71.63 171.10,72.73 C171.90,73.83 172.62,75.42 172.95,77.02 C173.28,78.61 173.39,80.65 173.08,82.30 C172.77,83.95 172.03,85.66 171.10,86.92 C170.16,88.19 168.74,89.39 167.47,89.89 C166.20,90.39 164.66,90.39 163.51,89.89 C162.35,89.39 161.25,88.19 160.54,86.92 C159.82,85.66 159.38,83.95 159.22,82.30 C159.06,80.65 159.11,78.72 159.55,77.02 C159.99,75.31 160.95,73.41 161.86,72.07 C162.77,70.73 163.98,69.24 165.03,68.97 Z" fill="none" stroke="#5a6878" stroke-width="0.6" stroke-opacity="1.0"/>
<path d="M164.89,71.55 C165.67,71.35 166.44,72.16 167.19,72.63 C167.95,73.10 168.80,73.53 169.40,74.34 C170.00,75.16 170.53,76.35 170.77,77.53 C171.02,78.71 171.10,80.23 170.87,81.45 C170.64,82.67 170.09,83.94 169.40,84.88 C168.71,85.82 167.64,86.72 166.71,87.08 C165.77,87.45 164.62,87.45 163.76,87.08 C162.91,86.72 162.09,85.82 161.56,84.88 C161.03,83.94 160.70,82.67 160.58,81.45 C160.46,80.23 160.50,78.80 160.82,77.53 C161.15,76.26 161.86,74.85 162.54,73.86 C163.22,72.86 164.12,71.76 164.89,71.55 Z" fill="none" stroke="#5a6878" stroke-width="0.6" stroke-opacity="1.0"/>
<path d="M164.76,74.14 C165.26,74.00 165.77,74.54 166.26,74.84 C166.75,75.14 167.31,75.43 167.70,75.96 C168.09,76.49 168.44,77.27 168.60,78.04 C168.76,78.81 168.81,79.80 168.66,80.60 C168.51,81.40 168.15,82.23 167.70,82.84 C167.25,83.45 166.55,84.04 165.94,84.28 C165.33,84.52 164.58,84.52 164.02,84.28 C163.46,84.04 162.93,83.45 162.58,82.84 C162.23,82.23 162.02,81.40 161.94,80.60 C161.86,79.80 161.89,78.87 162.10,78.04 C162.31,77.21 162.78,76.29 163.22,75.64 C163.66,74.99 164.25,74.27 164.76,74.14 Z" fill="none" stroke="#5a6878" stroke-width="0.6" stroke-opacity="1.0"/>
<path d="M164.62,76.72 C164.86,76.66 165.09,76.91 165.32,77.05 C165.55,77.19 165.82,77.33 166.00,77.58 C166.18,77.83 166.35,78.19 166.42,78.55 C166.50,78.91 166.52,79.38 166.45,79.75 C166.38,80.12 166.21,80.51 166.00,80.80 C165.79,81.09 165.46,81.36 165.18,81.47 C164.89,81.59 164.54,81.59 164.28,81.47 C164.01,81.36 163.76,81.09 163.60,80.80 C163.44,80.51 163.34,80.12 163.30,79.75 C163.26,79.38 163.28,78.94 163.38,78.55 C163.47,78.16 163.69,77.73 163.90,77.42 C164.11,77.12 164.38,76.78 164.62,76.72 Z" fill="none" stroke="#5a6878" stroke-width="0.6" stroke-opacity="1.0"/>
<path d="M175,69 C183,67.5 199.0,67 203.0,75.5 C204.0,78.5 197.0,88 175,90 Z" fill="none" stroke="#8068b0" stroke-width="0.65"/>
<path d="M177,70.5 C185,69.0 196.4,68.5 200.4,74.2 C201.4,77.2 194.4,84 177,86 Z" fill="none" stroke="#8068b0" stroke-width="0.65"/>
<path d="M179,72 C187,70.5 193.8,70 197.8,73.5 C198.8,76.5 191.8,81 179,83 Z" fill="none" stroke="#8068b0" stroke-width="0.65"/>
<path d="M181.5,73.5 C189.5,72.0 191.2,71.5 195.2,72.8 C196.2,75.8 189.2,78 181.5,80 Z" fill="none" stroke="#8068b0" stroke-width="0.65"/>
<circle cx="298.7" cy="66.6" r="0.5" fill="#111" fill-opacity="0.95"/>
<circle cx="335.6" cy="73.7" r="0.5" fill="#111" fill-opacity="0.95"/>
<circle cx="331.7" cy="80.5" r="0.5" fill="#111" fill-opacity="0.95"/>
<circle cx="328.7" cy="67.9" r="0.5" fill="#111" fill-opacity="0.95"/>
<circle cx="311.6" cy="90.9" r="0.5" fill="#111" fill-opacity="0.95"/>
<circle cx="333.3" cy="79.0" r="0.5" fill="#111" fill-opacity="0.95"/>
<circle cx="299.9" cy="68.6" r="0.5" fill="#111" fill-opacity="0.95"/>
<circle cx="312.6" cy="87.6" r="0.5" fill="#111" fill-opacity="0.95"/>
<circle cx="322.4" cy="64.2" r="0.5" fill="#111" fill-opacity="0.95"/>
<circle cx="333.6" cy="68.9" r="0.5" fill="#111" fill-opacity="0.95"/>
<circle cx="316.1" cy="89.5" r="0.5" fill="#111" fill-opacity="0.95"/>
<circle cx="333.4" cy="78.0" r="0.5" fill="#111" fill-opacity="0.95"/>
<circle cx="323.0" cy="65.2" r="0.5" fill="#111" fill-opacity="0.95"/>
<circle cx="332.8" cy="69.0" r="0.5" fill="#111" fill-opacity="0.95"/>
<circle cx="335.1" cy="71.4" r="0.5" fill="#111" fill-opacity="0.95"/>
<circle cx="329.9" cy="68.1" r="0.5" fill="#111" fill-opacity="0.95"/>
<circle cx="328.9" cy="68.4" r="0.5" fill="#111" fill-opacity="0.95"/>
<circle cx="319.6" cy="66.5" r="0.5" fill="#111" fill-opacity="0.95"/>
<circle cx="319.8" cy="84.6" r="0.5" fill="#111" fill-opacity="0.95"/>
<circle cx="318.0" cy="65.0" r="0.5" fill="#111" fill-opacity="0.95"/>
<circle cx="336.7" cy="69.2" r="0.5" fill="#111" fill-opacity="0.95"/>
<circle cx="322.3" cy="83.8" r="0.5" fill="#111" fill-opacity="0.95"/>
<circle cx="322.4" cy="66.4" r="0.5" fill="#111" fill-opacity="0.95"/>
<circle cx="335.8" cy="76.2" r="0.5" fill="#111" fill-opacity="0.95"/>
<circle cx="332.6" cy="78.3" r="0.5" fill="#111" fill-opacity="0.95"/>
<circle cx="327.1" cy="81.6" r="0.5" fill="#111" fill-opacity="0.95"/>
<circle cx="315.9" cy="86.6" r="0.5" fill="#111" fill-opacity="0.95"/>
<circle cx="320.1" cy="66.2" r="0.5" fill="#111" fill-opacity="0.95"/>
<circle cx="298.8" cy="66.2" r="0.5" fill="#111" fill-opacity="0.95"/>
<circle cx="336.5" cy="79.0" r="0.5" fill="#111" fill-opacity="0.95"/>
<circle cx="332.1" cy="80.1" r="0.5" fill="#111" fill-opacity="0.95"/>
<circle cx="332.8" cy="76.2" r="0.5" fill="#111" fill-opacity="0.95"/>
<circle cx="332.9" cy="76.8" r="0.5" fill="#111" fill-opacity="0.95"/>
<circle cx="333.9" cy="75.6" r="0.5" fill="#111" fill-opacity="0.95"/>
<circle cx="330.2" cy="81.0" r="0.5" fill="#111" fill-opacity="0.95"/>
<circle cx="332.4" cy="66.0" r="0.5" fill="#111" fill-opacity="0.95"/>
<circle cx="324.8" cy="83.8" r="0.5" fill="#111" fill-opacity="0.95"/>
<circle cx="300.8" cy="67.6" r="0.5" fill="#111" fill-opacity="0.95"/>
<circle cx="324.5" cy="85.3" r="0.5" fill="#111" fill-opacity="0.95"/>
<circle cx="325.1" cy="66.7" r="0.5" fill="#111" fill-opacity="0.95"/>
<circle cx="320.5" cy="85.3" r="0.5" fill="#111" fill-opacity="0.95"/>
<circle cx="316.9" cy="66.8" r="0.5" fill="#111" fill-opacity="0.95"/>
<circle cx="320.2" cy="66.6" r="0.5" fill="#111" fill-opacity="0.95"/>
<circle cx="329.9" cy="67.0" r="0.5" fill="#111" fill-opacity="0.95"/>
<circle cx="332.6" cy="78.9" r="0.5" fill="#111" fill-opacity="0.95"/>
<circle cx="335.7" cy="74.3" r="0.5" fill="#111" fill-opacity="0.95"/>
<circle cx="301.4" cy="66.0" r="0.5" fill="#111" fill-opacity="0.95"/>
<circle cx="337.0" cy="76.1" r="0.5" fill="#111" fill-opacity="0.95"/>
<circle cx="313.6" cy="87.6" r="0.5" fill="#111" fill-opacity="0.95"/>
<circle cx="326.6" cy="66.7" r="0.5" fill="#111" fill-opacity="0.95"/>
<circle cx="338.0" cy="78.6" r="0.5" fill="#111" fill-opacity="0.95"/>
<circle cx="332.8" cy="69.2" r="0.5" fill="#111" fill-opacity="0.95"/>
<circle cx="329.0" cy="65.4" r="0.5" fill="#111" fill-opacity="0.95"/>
<circle cx="313.5" cy="64.6" r="0.5" fill="#111" fill-opacity="0.95"/>
<circle cx="309.0" cy="66.6" r="0.5" fill="#111" fill-opacity="0.95"/>
<circle cx="329.8" cy="80.6" r="0.5" fill="#111" fill-opacity="0.95"/>
<circle cx="306.7" cy="66.6" r="0.5" fill="#111" fill-opacity="0.95"/>
<circle cx="317.0" cy="86.2" r="0.5" fill="#111" fill-opacity="0.95"/>
<circle cx="306.7" cy="64.5" r="0.5" fill="#111" fill-opacity="0.95"/>
<circle cx="315.8" cy="65.8" r="0.5" fill="#111" fill-opacity="0.95"/>
<circle cx="326.5" cy="82.3" r="0.5" fill="#111" fill-opacity="0.95"/>
<circle cx="323.8" cy="83.8" r="0.5" fill="#111" fill-opacity="0.95"/>
<circle cx="328.5" cy="83.0" r="0.5" fill="#111" fill-opacity="0.95"/>
<circle cx="304.3" cy="68.6" r="0.5" fill="#111" fill-opacity="0.95"/>
<circle cx="332.7" cy="77.7" r="0.5" fill="#111" fill-opacity="0.95"/>
<circle cx="312.5" cy="87.5" r="0.5" fill="#111" fill-opacity="0.95"/>
<circle cx="316.7" cy="63.5" r="0.5" fill="#111" fill-opacity="0.95"/>
<circle cx="298.8" cy="67.9" r="0.5" fill="#111" fill-opacity="0.95"/>
<circle cx="298.9" cy="68.3" r="0.5" fill="#111" fill-opacity="0.95"/>
<circle cx="304.0" cy="68.8" r="0.5" fill="#111" fill-opacity="0.95"/>
<circle cx="320.9" cy="66.2" r="0.5" fill="#111" fill-opacity="0.95"/>
<circle cx="317.5" cy="85.7" r="0.5" fill="#111" fill-opacity="0.95"/>
<circle cx="334.1" cy="67.5" r="0.5" fill="#111" fill-opacity="0.95"/>
<circle cx="335.8" cy="75.1" r="0.5" fill="#111" fill-opacity="0.95"/>
<circle cx="330.2" cy="68.0" r="0.5" fill="#111" fill-opacity="0.95"/>
<circle cx="321.9" cy="83.8" r="0.5" fill="#111" fill-opacity="0.95"/>
<circle cx="324.8" cy="66.7" r="0.5" fill="#111" fill-opacity="0.95"/>
<circle cx="328.6" cy="68.0" r="0.5" fill="#111" fill-opacity="0.95"/>
<circle cx="326.7" cy="65.9" r="0.5" fill="#111" fill-opacity="0.95"/>
<circle cx="322.4" cy="82.6" r="0.5" fill="#111" fill-opacity="0.95"/>
<circle cx="335.7" cy="74.2" r="0.5" fill="#111" fill-opacity="0.95"/>
<circle cx="310.0" cy="89.8" r="0.5" fill="#111" fill-opacity="0.95"/>
<circle cx="328.8" cy="81.8" r="0.5" fill="#111" fill-opacity="0.95"/>
<circle cx="333.6" cy="76.3" r="0.5" fill="#111" fill-opacity="0.95"/>
<circle cx="310.0" cy="90.4" r="0.5" fill="#111" fill-opacity="0.95"/>
<circle cx="320.7" cy="66.8" r="0.5" fill="#111" fill-opacity="0.95"/>
<circle cx="329.9" cy="66.5" r="0.5" fill="#111" fill-opacity="0.95"/>
<circle cx="329.6" cy="80.3" r="0.5" fill="#111" fill-opacity="0.95"/>
<circle cx="336.0" cy="77.9" r="0.5" fill="#111" fill-opacity="0.95"/>
<circle cx="318.8" cy="66.7" r="0.5" fill="#111" fill-opacity="0.95"/>
<circle cx="298.1" cy="67.6" r="0.5" fill="#111" fill-opacity="0.95"/>
<circle cx="336.2" cy="76.6" r="0.5" fill="#111" fill-opacity="0.95"/>
<circle cx="320.9" cy="85.0" r="0.5" fill="#111" fill-opacity="0.95"/>
<circle cx="319.5" cy="85.1" r="0.5" fill="#111" fill-opacity="0.95"/>
<circle cx="321.7" cy="85.9" r="0.5" fill="#111" fill-opacity="0.95"/>
<circle cx="318.1" cy="66.6" r="0.5" fill="#111" fill-opacity="0.95"/>
<circle cx="318.7" cy="86.5" r="0.5" fill="#111" fill-opacity="0.95"/>
<circle cx="313.7" cy="86.8" r="0.5" fill="#111" fill-opacity="0.95"/>
<circle cx="323.7" cy="64.4" r="0.5" fill="#111" fill-opacity="0.95"/>
<circle cx="322.5" cy="85.1" r="0.5" fill="#111" fill-opacity="0.95"/>
<circle cx="312.6" cy="66.0" r="0.5" fill="#111" fill-opacity="0.95"/>
<circle cx="315.1" cy="67.3" r="0.5" fill="#111" fill-opacity="0.95"/>
<circle cx="333.7" cy="76.4" r="0.5" fill="#111" fill-opacity="0.95"/>
<circle cx="313.1" cy="66.5" r="0.5" fill="#111" fill-opacity="0.95"/>
<circle cx="316.7" cy="66.1" r="0.5" fill="#111" fill-opacity="0.95"/>
<circle cx="331.5" cy="69.2" r="0.5" fill="#111" fill-opacity="0.95"/>
<circle cx="304.1" cy="66.9" r="0.5" fill="#111" fill-opacity="0.95"/>
<circle cx="315.0" cy="66.9" r="0.5" fill="#111" fill-opacity="0.95"/>
<circle cx="337.3" cy="76.8" r="0.5" fill="#111" fill-opacity="0.95"/>
<circle cx="334.3" cy="71.4" r="0.5" fill="#111" fill-opacity="0.95"/>
<circle cx="332.9" cy="69.0" r="0.5" fill="#111" fill-opacity="0.95"/>
<circle cx="312.0" cy="66.2" r="0.5" fill="#111" fill-opacity="0.95"/>
<circle cx="311.2" cy="66.4" r="0.5" fill="#111" fill-opacity="0.95"/>
<circle cx="335.5" cy="73.8" r="0.5" fill="#111" fill-opacity="0.95"/>
<circle cx="327.6" cy="67.4" r="0.5" fill="#111" fill-opacity="0.95"/>
<circle cx="301.2" cy="68.3" r="0.5" fill="#111" fill-opacity="0.95"/>
<circle cx="308.1" cy="89.8" r="0.5" fill="#111" fill-opacity="0.95"/>
<circle cx="333.0" cy="78.4" r="0.5" fill="#111" fill-opacity="0.95"/>
<circle cx="323.2" cy="84.9" r="0.5" fill="#111" fill-opacity="0.95"/>
<circle cx="323.5" cy="64.4" r="0.5" fill="#111" fill-opacity="0.95"/>
<circle cx="335.2" cy="70.9" r="0.5" fill="#111" fill-opacity="0.95"/>
<circle cx="308.7" cy="89.8" r="0.5" fill="#111" fill-opacity="0.95"/>
<circle cx="317.0" cy="85.5" r="0.5" fill="#111" fill-opacity="0.95"/>
<circle cx="317.2" cy="65.9" r="0.5" fill="#111" fill-opacity="0.95"/>
<circle cx="322.8" cy="82.5" r="0.5" fill="#111" fill-opacity="0.95"/>
<circle cx="324.8" cy="84.8" r="0.5" fill="#111" fill-opacity="0.95"/>
<circle cx="321.1" cy="85.9" r="0.5" fill="#111" fill-opacity="0.95"/>
<circle cx="300.7" cy="68.3" r="0.5" fill="#111" fill-opacity="0.95"/>
<circle cx="312.7" cy="65.7" r="0.5" fill="#111" fill-opacity="0.95"/>
<circle cx="301.9" cy="67.8" r="0.5" fill="#111" fill-opacity="0.95"/>
<circle cx="337.1" cy="73.2" r="0.5" fill="#111" fill-opacity="0.95"/>
<circle cx="311.5" cy="88.1" r="0.5" fill="#111" fill-opacity="0.95"/>
<circle cx="315.1" cy="89.3" r="0.5" fill="#111" fill-opacity="0.95"/>
<circle cx="327.6" cy="66.1" r="0.5" fill="#111" fill-opacity="0.95"/>
<circle cx="306.4" cy="66.1" r="0.5" fill="#111" fill-opacity="0.95"/>
<circle cx="335.8" cy="74.1" r="0.5" fill="#111" fill-opacity="0.95"/>
<circle cx="334.1" cy="80.1" r="0.5" fill="#111" fill-opacity="0.95"/>
<circle cx="326.9" cy="67.1" r="0.5" fill="#111" fill-opacity="0.95"/>
<circle cx="331.7" cy="65.8" r="0.5" fill="#111" fill-opacity="0.95"/>
<circle cx="310.0" cy="93.2" r="0.5" fill="#111" fill-opacity="0.95"/>
<circle cx="314.3" cy="64.8" r="0.5" fill="#111" fill-opacity="0.95"/>
<circle cx="324.0" cy="66.0" r="0.5" fill="#111" fill-opacity="0.95"/>
<circle cx="315.8" cy="89.7" r="0.5" fill="#111" fill-opacity="0.95"/>
<circle cx="301.3" cy="68.9" r="0.5" fill="#111" fill-opacity="0.95"/>
<circle cx="322.7" cy="83.6" r="0.5" fill="#111" fill-opacity="0.95"/>
<circle cx="308.7" cy="88.9" r="0.5" fill="#111" fill-opacity="0.95"/>
<circle cx="301.6" cy="66.8" r="0.5" fill="#111" fill-opacity="0.95"/>
<circle cx="313.1" cy="90.3" r="0.5" fill="#111" fill-opacity="0.95"/>
<circle cx="330.2" cy="80.1" r="0.5" fill="#111" fill-opacity="0.95"/>
<circle cx="325.6" cy="84.8" r="0.5" fill="#111" fill-opacity="0.95"/>
<circle cx="305.7" cy="67.8" r="0.5" fill="#111" fill-opacity="0.95"/>
<circle cx="306.8" cy="66.1" r="0.5" fill="#111" fill-opacity="0.95"/>
<circle cx="333.5" cy="68.2" r="0.5" fill="#111" fill-opacity="0.95"/>
<circle cx="308.2" cy="65.8" r="0.5" fill="#111" fill-opacity="0.95"/>
<circle cx="331.3" cy="82.8" r="0.5" fill="#111" fill-opacity="0.95"/>
<circle cx="312.2" cy="65.8" r="0.5" fill="#111" fill-opacity="0.95"/>
<circle cx="300.9" cy="67.1" r="0.5" fill="#111" fill-opacity="0.95"/>
<circle cx="312.5" cy="87.9" r="0.5" fill="#111" fill-opacity="0.95"/>
<circle cx="317.5" cy="86.8" r="0.5" fill="#111" fill-opacity="0.95"/>
<circle cx="330.8" cy="68.2" r="0.5" fill="#111" fill-opacity="0.95"/>
<circle cx="304.4" cy="64.9" r="0.5" fill="#111" fill-opacity="0.95"/>
<circle cx="332.5" cy="77.6" r="0.5" fill="#111" fill-opacity="0.95"/>
<circle cx="331.1" cy="68.7" r="0.5" fill="#111" fill-opacity="0.95"/>
<circle cx="333.8" cy="66.2" r="0.5" fill="#111" fill-opacity="0.95"/>
<circle cx="333.4" cy="78.3" r="0.5" fill="#111" fill-opacity="0.95"/>
<circle cx="301.9" cy="67.6" r="0.5" fill="#111" fill-opacity="0.95"/>
<circle cx="327.6" cy="81.2" r="0.5" fill="#111" fill-opacity="0.95"/>
<circle cx="316.9" cy="86.2" r="0.5" fill="#111" fill-opacity="0.95"/>
<circle cx="317.6" cy="66.4" r="0.5" fill="#111" fill-opacity="0.95"/>
<circle cx="317.9" cy="65.6" r="0.5" fill="#111" fill-opacity="0.95"/>
<circle cx="319.1" cy="85.2" r="0.5" fill="#111" fill-opacity="0.95"/>
<circle cx="334.8" cy="68.7" r="0.5" fill="#111" fill-opacity="0.95"/>
<circle cx="321.5" cy="65.5" r="0.5" fill="#111" fill-opacity="0.95"/>
<circle cx="309.4" cy="89.2" r="0.5" fill="#111" fill-opacity="0.95"/>
<circle cx="301.7" cy="66.5" r="0.5" fill="#111" fill-opacity="0.95"/>
<circle cx="313.4" cy="66.5" r="0.5" fill="#111" fill-opacity="0.95"/>
<circle cx="333.0" cy="68.8" r="0.5" fill="#111" fill-opacity="0.95"/>
<circle cx="312.7" cy="64.7" r="0.5" fill="#111" fill-opacity="0.95"/>
<circle cx="325.1" cy="60.3" r="0.5" fill="#111" fill-opacity="0.95"/>
<circle cx="313.2" cy="87.7" r="0.5" fill="#111" fill-opacity="0.95"/>
<circle cx="305.2" cy="68.0" r="0.5" fill="#111" fill-opacity="0.95"/>
<circle cx="301.3" cy="65.0" r="0.5" fill="#111" fill-opacity="0.95"/>
<circle cx="326.7" cy="81.5" r="0.5" fill="#111" fill-opacity="0.95"/>
<circle cx="300.3" cy="63.4" r="0.5" fill="#111" fill-opacity="0.95"/>
<circle cx="321.3" cy="84.2" r="0.5" fill="#111" fill-opacity="0.95"/>
<circle cx="298.3" cy="66.8" r="0.5" fill="#111" fill-opacity="0.95"/>
<circle cx="319.5" cy="84.9" r="0.5" fill="#111" fill-opacity="0.95"/>
<circle cx="330.0" cy="67.9" r="0.5" fill="#111" fill-opacity="0.95"/>
<circle cx="314.3" cy="87.9" r="0.5" fill="#111" fill-opacity="0.95"/>
<circle cx="307.5" cy="64.9" r="0.5" fill="#111" fill-opacity="0.95"/>
<circle cx="304.5" cy="104.6" r="0.5" fill="#111" fill-opacity="0.95"/>
<circle cx="303.0" cy="105.4" r="0.5" fill="#111" fill-opacity="0.95"/>
<circle cx="306.1" cy="95.8" r="0.5" fill="#111" fill-opacity="0.95"/>
<circle cx="286.7" cy="105.8" r="0.5" fill="#111" fill-opacity="0.95"/>
<circle cx="300.6" cy="111.9" r="0.5" fill="#111" fill-opacity="0.95"/>
<circle cx="285.3" cy="87.1" r="0.5" fill="#111" fill-opacity="0.95"/>
<circle cx="287.9" cy="78.2" r="0.5" fill="#111" fill-opacity="0.95"/>
<circle cx="304.6" cy="94.6" r="0.5" fill="#111" fill-opacity="0.95"/>
<circle cx="287.8" cy="85.0" r="0.5" fill="#111" fill-opacity="0.95"/>
<circle cx="306.3" cy="94.6" r="0.5" fill="#111" fill-opacity="0.95"/>
<circle cx="288.1" cy="78.3" r="0.5" fill="#111" fill-opacity="0.95"/>
<circle cx="286.9" cy="72.5" r="0.5" fill="#111" fill-opacity="0.95"/>
<circle cx="284.8" cy="106.7" r="0.5" fill="#111" fill-opacity="0.95"/>
<circle cx="287.9" cy="107.1" r="0.5" fill="#111" fill-opacity="0.95"/>
<circle cx="289.2" cy="73.4" r="0.5" fill="#111" fill-opacity="0.95"/>
<circle cx="287.0" cy="76.4" r="0.5" fill="#111" fill-opacity="0.95"/>
<circle cx="293.1" cy="114.7" r="0.5" fill="#111" fill-opacity="0.95"/>
<circle cx="286.0" cy="97.0" r="0.5" fill="#111" fill-opacity="0.95"/>
<circle cx="307.4" cy="90.1" r="0.5" fill="#111" fill-opacity="0.95"/>
<circle cx="287.5" cy="103.8" r="0.5" fill="#111" fill-opacity="0.95"/>
<circle cx="304.3" cy="99.4" r="0.5" fill="#111" fill-opacity="0.95"/>
<circle cx="289.5" cy="74.3" r="0.5" fill="#111" fill-opacity="0.95"/>
<circle cx="296.8" cy="113.5" r="0.5" fill="#111" fill-opacity="0.95"/>
<circle cx="287.7" cy="83.4" r="0.5" fill="#111" fill-opacity="0.95"/>
<circle cx="306.9" cy="95.7" r="0.5" fill="#111" fill-opacity="0.95"/>
<circle cx="288.4" cy="105.3" r="0.5" fill="#111" fill-opacity="0.95"/>
<circle cx="288.0" cy="104.0" r="0.5" fill="#111" fill-opacity="0.95"/>
<circle cx="306.9" cy="91.4" r="0.5" fill="#111" fill-opacity="0.95"/>
<circle cx="295.3" cy="68.3" r="0.5" fill="#111" fill-opacity="0.95"/>
<circle cx="305.4" cy="97.8" r="0.5" fill="#111" fill-opacity="0.95"/>
<circle cx="301.7" cy="110.0" r="0.5" fill="#111" fill-opacity="0.95"/>
<circle cx="304.4" cy="97.3" r="0.5" fill="#111" fill-opacity="0.95"/>
<circle cx="287.0" cy="87.9" r="0.5" fill="#111" fill-opacity="0.95"/>
<circle cx="286.9" cy="96.5" r="0.5" fill="#111" fill-opacity="0.95"/>
<circle cx="287.9" cy="98.5" r="0.5" fill="#111" fill-opacity="0.95"/>
<circle cx="304.4" cy="97.8" r="0.5" fill="#111" fill-opacity="0.95"/>
<circle cx="289.1" cy="73.5" r="0.5" fill="#111" fill-opacity="0.95"/>
<circle cx="304.4" cy="99.6" r="0.5" fill="#111" fill-opacity="0.95"/>
<circle cx="288.0" cy="105.5" r="0.5" fill="#111" fill-opacity="0.95"/>
<circle cx="304.5" cy="99.5" r="0.5" fill="#111" fill-opacity="0.95"/>
<circle cx="289.9" cy="113.8" r="0.5" fill="#111" fill-opacity="0.95"/>
<circle cx="287.5" cy="73.3" r="0.5" fill="#111" fill-opacity="0.95"/>
<circle cx="303.9" cy="101.6" r="0.5" fill="#111" fill-opacity="0.95"/>
<circle cx="304.2" cy="103.1" r="0.5" fill="#111" fill-opacity="0.95"/>
<circle cx="286.5" cy="76.8" r="0.5" fill="#111" fill-opacity="0.95"/>
<circle cx="289.9" cy="111.6" r="0.5" fill="#111" fill-opacity="0.95"/>
<circle cx="288.3" cy="75.8" r="0.5" fill="#111" fill-opacity="0.95"/>
<circle cx="293.2" cy="69.2" r="0.5" fill="#111" fill-opacity="0.95"/>
<circle cx="287.5" cy="81.2" r="0.5" fill="#111" fill-opacity="0.95"/>
<circle cx="296.3" cy="115.0" r="0.5" fill="#111" fill-opacity="0.95"/>
<circle cx="286.9" cy="111.2" r="0.5" fill="#111" fill-opacity="0.95"/>
<circle cx="291.3" cy="70.5" r="0.5" fill="#111" fill-opacity="0.95"/>
<circle cx="287.4" cy="77.9" r="0.5" fill="#111" fill-opacity="0.95"/>
<circle cx="287.6" cy="103.6" r="0.5" fill="#111" fill-opacity="0.95"/>
<circle cx="294.2" cy="67.7" r="0.5" fill="#111" fill-opacity="0.95"/>
<circle cx="289.8" cy="111.5" r="0.5" fill="#111" fill-opacity="0.95"/>
<circle cx="287.4" cy="93.6" r="0.5" fill="#111" fill-opacity="0.95"/>
<circle cx="305.6" cy="95.7" r="0.5" fill="#111" fill-opacity="0.95"/>
<circle cx="289.5" cy="110.6" r="0.5" fill="#111" fill-opacity="0.95"/>
<circle cx="304.5" cy="101.0" r="0.5" fill="#111" fill-opacity="0.95"/>
<circle cx="295.3" cy="67.8" r="0.5" fill="#111" fill-opacity="0.95"/>
<circle cx="288.0" cy="93.6" r="0.5" fill="#111" fill-opacity="0.95"/>
<circle cx="285.5" cy="78.2" r="0.5" fill="#111" fill-opacity="0.95"/>
<circle cx="305.8" cy="92.1" r="0.5" fill="#111" fill-opacity="0.95"/>
<circle cx="287.1" cy="92.9" r="0.5" fill="#111" fill-opacity="0.95"/>
<circle cx="301.5" cy="113.2" r="0.5" fill="#111" fill-opacity="0.95"/>
<circle cx="285.6" cy="101.5" r="0.5" fill="#111" fill-opacity="0.95"/>
<circle cx="301.3" cy="109.8" r="0.5" fill="#111" fill-opacity="0.95"/>
<circle cx="288.4" cy="103.3" r="0.5" fill="#111" fill-opacity="0.95"/>
<circle cx="300.1" cy="113.2" r="0.5" fill="#111" fill-opacity="0.95"/>
<circle cx="298.0" cy="112.8" r="0.5" fill="#111" fill-opacity="0.95"/>
<circle cx="287.4" cy="97.0" r="0.5" fill="#111" fill-opacity="0.95"/>
<circle cx="294.5" cy="69.0" r="0.5" fill="#111" fill-opacity="0.95"/>
<circle cx="288.5" cy="107.9" r="0.5" fill="#111" fill-opacity="0.95"/>
<circle cx="287.0" cy="102.2" r="0.5" fill="#111" fill-opacity="0.95"/>
<circle cx="305.1" cy="100.3" r="0.5" fill="#111" fill-opacity="0.95"/>
<circle cx="298.7" cy="112.1" r="0.5" fill="#111" fill-opacity="0.95"/>
<circle cx="302.4" cy="109.6" r="0.5" fill="#111" fill-opacity="0.95"/>
<circle cx="303.7" cy="96.5" r="0.5" fill="#111" fill-opacity="0.95"/>
<circle cx="287.4" cy="95.6" r="0.5" fill="#111" fill-opacity="0.95"/>
<circle cx="287.4" cy="99.1" r="0.5" fill="#111" fill-opacity="0.95"/>
<circle cx="287.4" cy="86.9" r="0.5" fill="#111" fill-opacity="0.95"/>
<circle cx="289.1" cy="108.2" r="0.5" fill="#111" fill-opacity="0.95"/>
<circle cx="288.6" cy="107.6" r="0.5" fill="#111" fill-opacity="0.95"/>
<circle cx="297.7" cy="113.2" r="0.5" fill="#111" fill-opacity="0.95"/>
<circle cx="286.5" cy="104.1" r="0.5" fill="#111" fill-opacity="0.95"/>
<circle cx="292.2" cy="113.4" r="0.5" fill="#111" fill-opacity="0.95"/>
<circle cx="294.5" cy="114.6" r="0.5" fill="#111" fill-opacity="0.95"/>
<circle cx="288.6" cy="74.0" r="0.5" fill="#111" fill-opacity="0.95"/>
<circle cx="286.1" cy="106.4" r="0.5" fill="#111" fill-opacity="0.95"/>
<circle cx="300.2" cy="112.9" r="0.5" fill="#111" fill-opacity="0.95"/>
<circle cx="287.4" cy="81.6" r="0.5" fill="#111" fill-opacity="0.95"/>
<circle cx="307.1" cy="102.6" r="0.5" fill="#111" fill-opacity="0.95"/>
<circle cx="288.1" cy="110.4" r="0.5" fill="#111" fill-opacity="0.95"/>
<circle cx="304.6" cy="94.2" r="0.5" fill="#111" fill-opacity="0.95"/>
<circle cx="286.2" cy="84.7" r="0.5" fill="#111" fill-opacity="0.95"/>
<circle cx="305.1" cy="98.4" r="0.5" fill="#111" fill-opacity="0.95"/>
<circle cx="283.7" cy="84.4" r="0.5" fill="#111" fill-opacity="0.95"/>
<circle cx="304.3" cy="102.3" r="0.5" fill="#111" fill-opacity="0.95"/>
<circle cx="285.9" cy="89.9" r="0.5" fill="#111" fill-opacity="0.95"/>
<circle cx="285.6" cy="95.1" r="0.5" fill="#111" fill-opacity="0.95"/>
<circle cx="288.1" cy="103.6" r="0.5" fill="#111" fill-opacity="0.95"/>
<circle cx="287.3" cy="84.5" r="0.5" fill="#111" fill-opacity="0.95"/>
<circle cx="288.9" cy="106.9" r="0.5" fill="#111" fill-opacity="0.95"/>
<circle cx="287.7" cy="80.5" r="0.5" fill="#111" fill-opacity="0.95"/>
<circle cx="303.6" cy="99.9" r="0.5" fill="#111" fill-opacity="0.95"/>
<circle cx="287.2" cy="72.0" r="0.5" fill="#111" fill-opacity="0.95"/>
<circle cx="287.2" cy="97.7" r="0.5" fill="#111" fill-opacity="0.95"/>
<circle cx="285.9" cy="105.9" r="0.5" fill="#111" fill-opacity="0.95"/>
<circle cx="289.9" cy="111.8" r="0.5" fill="#111" fill-opacity="0.95"/>
<circle cx="286.1" cy="80.5" r="0.5" fill="#111" fill-opacity="0.95"/>
<circle cx="292.6" cy="113.2" r="0.5" fill="#111" fill-opacity="0.95"/>
<circle cx="289.5" cy="108.8" r="0.5" fill="#111" fill-opacity="0.95"/>
<circle cx="299.3" cy="112.8" r="0.5" fill="#111" fill-opacity="0.95"/>
<circle cx="291.7" cy="112.9" r="0.5" fill="#111" fill-opacity="0.95"/>
<circle cx="296.7" cy="113.5" r="0.5" fill="#111" fill-opacity="0.95"/>
<circle cx="286.5" cy="80.2" r="0.5" fill="#111" fill-opacity="0.95"/>
<circle cx="289.5" cy="109.6" r="0.5" fill="#111" fill-opacity="0.95"/>
<circle cx="304.0" cy="104.7" r="0.5" fill="#111" fill-opacity="0.95"/>
<circle cx="286.5" cy="98.6" r="0.5" fill="#111" fill-opacity="0.95"/>
<circle cx="284.6" cy="98.2" r="0.5" fill="#111" fill-opacity="0.95"/>
<circle cx="297.6" cy="115.1" r="0.5" fill="#111" fill-opacity="0.95"/>
<circle cx="286.1" cy="75.3" r="0.5" fill="#111" fill-opacity="0.95"/>
<circle cx="302.5" cy="105.9" r="0.5" fill="#111" fill-opacity="0.95"/>
<circle cx="289.4" cy="111.2" r="0.5" fill="#111" fill-opacity="0.95"/>
<circle cx="305.6" cy="93.3" r="0.5" fill="#111" fill-opacity="0.95"/>
<circle cx="288.2" cy="99.5" r="0.5" fill="#111" fill-opacity="0.95"/>
<circle cx="287.3" cy="81.5" r="0.5" fill="#111" fill-opacity="0.95"/>
<circle cx="285.7" cy="101.9" r="0.5" fill="#111" fill-opacity="0.95"/>
<circle cx="287.5" cy="103.6" r="0.5" fill="#111" fill-opacity="0.95"/>
<circle cx="287.4" cy="89.1" r="0.5" fill="#111" fill-opacity="0.95"/>
<circle cx="286.3" cy="97.0" r="0.5" fill="#111" fill-opacity="0.95"/>
<circle cx="293.8" cy="116.5" r="0.5" fill="#111" fill-opacity="0.95"/>
<circle cx="287.6" cy="102.9" r="0.5" fill="#111" fill-opacity="0.95"/>
<circle cx="304.2" cy="97.5" r="0.5" fill="#111" fill-opacity="0.95"/>
<circle cx="286.3" cy="99.9" r="0.5" fill="#111" fill-opacity="0.95"/>
<circle cx="284.6" cy="98.8" r="0.5" fill="#111" fill-opacity="0.95"/>
<circle cx="288.6" cy="106.0" r="0.5" fill="#111" fill-opacity="0.95"/>
<circle cx="290.1" cy="109.7" r="0.5" fill="#111" fill-opacity="0.95"/>
<circle cx="294.7" cy="113.8" r="0.5" fill="#111" fill-opacity="0.95"/>
<circle cx="287.1" cy="102.5" r="0.5" fill="#111" fill-opacity="0.95"/>
<circle cx="297.0" cy="113.3" r="0.5" fill="#111" fill-opacity="0.95"/>
<circle cx="296.0" cy="67.4" r="0.5" fill="#111" fill-opacity="0.95"/>
<circle cx="304.1" cy="98.5" r="0.5" fill="#111" fill-opacity="0.95"/>
<circle cx="290.6" cy="71.9" r="0.5" fill="#111" fill-opacity="0.95"/>
<circle cx="297.4" cy="68.5" r="0.5" fill="#111" fill-opacity="0.95"/>
<circle cx="290.2" cy="72.3" r="0.5" fill="#111" fill-opacity="0.95"/>
<circle cx="299.4" cy="112.5" r="0.5" fill="#111" fill-opacity="0.95"/>
<circle cx="287.7" cy="104.1" r="0.5" fill="#111" fill-opacity="0.95"/>
<circle cx="304.2" cy="104.6" r="0.5" fill="#111" fill-opacity="0.95"/>
<circle cx="287.4" cy="93.9" r="0.5" fill="#111" fill-opacity="0.95"/>
<circle cx="297.6" cy="67.9" r="0.5" fill="#111" fill-opacity="0.95"/>
<circle cx="285.7" cy="93.4" r="0.5" fill="#111" fill-opacity="0.95"/>
<circle cx="287.1" cy="80.2" r="0.5" fill="#111" fill-opacity="0.95"/>
<circle cx="297.9" cy="112.9" r="0.5" fill="#111" fill-opacity="0.95"/>
<circle cx="298.1" cy="112.8" r="0.5" fill="#111" fill-opacity="0.95"/>
<circle cx="288.5" cy="75.6" r="0.5" fill="#111" fill-opacity="0.95"/>
<circle cx="303.3" cy="105.6" r="0.5" fill="#111" fill-opacity="0.95"/>
<circle cx="287.9" cy="105.2" r="0.5" fill="#111" fill-opacity="0.95"/>
<circle cx="287.1" cy="92.4" r="0.5" fill="#111" fill-opacity="0.95"/>
<circle cx="285.6" cy="102.5" r="0.5" fill="#111" fill-opacity="0.95"/>
<circle cx="290.0" cy="112.4" r="0.5" fill="#111" fill-opacity="0.95"/>
<circle cx="305.8" cy="99.4" r="0.5" fill="#111" fill-opacity="0.95"/>
<circle cx="306.5" cy="98.1" r="0.5" fill="#111" fill-opacity="0.95"/>
<circle cx="305.3" cy="97.6" r="0.5" fill="#111" fill-opacity="0.95"/>
<circle cx="286.3" cy="77.0" r="0.5" fill="#111" fill-opacity="0.95"/>
<circle cx="287.0" cy="95.4" r="0.5" fill="#111" fill-opacity="0.95"/>
<circle cx="307.3" cy="90.8" r="0.5" fill="#111" fill-opacity="0.95"/>
<circle cx="287.6" cy="81.7" r="0.5" fill="#111" fill-opacity="0.95"/>
<circle cx="293.6" cy="116.4" r="0.5" fill="#111" fill-opacity="0.95"/>
<circle cx="304.5" cy="103.6" r="0.5" fill="#111" fill-opacity="0.95"/>
<circle cx="290.3" cy="70.7" r="0.5" fill="#111" fill-opacity="0.95"/>
<circle cx="287.5" cy="98.0" r="0.5" fill="#111" fill-opacity="0.95"/>
<circle cx="291.4" cy="114.5" r="0.5" fill="#111" fill-opacity="0.95"/>
<circle cx="306.5" cy="94.7" r="0.5" fill="#111" fill-opacity="0.95"/>
<circle cx="294.8" cy="68.9" r="0.5" fill="#111" fill-opacity="0.95"/>
<circle cx="289.4" cy="110.0" r="0.5" fill="#111" fill-opacity="0.95"/>
<circle cx="305.6" cy="93.0" r="0.5" fill="#111" fill-opacity="0.95"/>
<circle cx="292.1" cy="68.7" r="0.5" fill="#111" fill-opacity="0.95"/>
<circle cx="290.8" cy="71.6" r="0.5" fill="#111" fill-opacity="0.95"/>
<circle cx="287.9" cy="77.8" r="0.5" fill="#111" fill-opacity="0.95"/>
<circle cx="294.1" cy="66.9" r="0.5" fill="#111" fill-opacity="0.95"/>
<circle cx="286.7" cy="105.8" r="0.5" fill="#111" fill-opacity="0.95"/>
<circle cx="291.7" cy="113.2" r="0.5" fill="#111" fill-opacity="0.95"/>
<circle cx="287.0" cy="86.2" r="0.5" fill="#111" fill-opacity="0.95"/>
<circle cx="288.4" cy="72.4" r="0.5" fill="#111" fill-opacity="0.95"/>
<circle cx="287.7" cy="106.5" r="0.5" fill="#111" fill-opacity="0.95"/>
<circle cx="304.2" cy="103.9" r="0.5" fill="#111" fill-opacity="0.95"/>
<circle cx="293.5" cy="115.7" r="0.5" fill="#111" fill-opacity="0.95"/>
<circle cx="300.9" cy="115.1" r="0.5" fill="#111" fill-opacity="0.95"/>
<circle cx="286.0" cy="99.9" r="0.5" fill="#111" fill-opacity="0.95"/>
<circle cx="291.5" cy="114.4" r="0.5" fill="#111" fill-opacity="0.95"/>
<circle cx="290.3" cy="113.4" r="0.5" fill="#111" fill-opacity="0.95"/>
<circle cx="287.5" cy="76.9" r="0.5" fill="#111" fill-opacity="0.95"/>
<circle cx="294.6" cy="114.7" r="0.5" fill="#111" fill-opacity="0.95"/>
<circle cx="300.1" cy="112.6" r="0.5" fill="#111" fill-opacity="0.95"/>
<circle cx="303.9" cy="109.8" r="0.5" fill="#111" fill-opacity="0.95"/>
<circle cx="295.6" cy="114.9" r="0.5" fill="#111" fill-opacity="0.95"/>
<circle cx="304.4" cy="102.4" r="0.5" fill="#111" fill-opacity="0.95"/>
<circle cx="300.5" cy="111.1" r="0.5" fill="#111" fill-opacity="0.95"/>
<circle cx="286.8" cy="76.1" r="0.5" fill="#111" fill-opacity="0.95"/>
<circle cx="286.8" cy="75.9" r="0.5" fill="#111" fill-opacity="0.95"/>
<circle cx="286.9" cy="78.7" r="0.5" fill="#111" fill-opacity="0.95"/>
<circle cx="286.1" cy="85.8" r="0.5" fill="#111" fill-opacity="0.95"/>
<circle cx="292.2" cy="114.5" r="0.5" fill="#111" fill-opacity="0.95"/>
<circle cx="294.0" cy="68.9" r="0.5" fill="#111" fill-opacity="0.95"/>
<circle cx="287.3" cy="104.7" r="0.5" fill="#111" fill-opacity="0.95"/>
<circle cx="306.0" cy="100.2" r="0.5" fill="#111" fill-opacity="0.95"/>
<circle cx="287.2" cy="87.3" r="0.5" fill="#111" fill-opacity="0.95"/>
<circle cx="284.2" cy="97.7" r="0.5" fill="#111" fill-opacity="0.95"/>
<circle cx="293.3" cy="114.1" r="0.5" fill="#111" fill-opacity="0.95"/>
<circle cx="304.7" cy="107.8" r="0.5" fill="#111" fill-opacity="0.95"/>
<circle cx="288.2" cy="72.6" r="0.5" fill="#111" fill-opacity="0.95"/>
<circle cx="286.2" cy="101.5" r="0.5" fill="#111" fill-opacity="0.95"/>
<circle cx="300.7" cy="111.4" r="0.5" fill="#111" fill-opacity="0.95"/>
<circle cx="287.4" cy="91.5" r="0.5" fill="#111" fill-opacity="0.95"/>
<circle cx="287.4" cy="99.3" r="0.5" fill="#111" fill-opacity="0.95"/>
<circle cx="305.8" cy="96.3" r="0.5" fill="#111" fill-opacity="0.95"/>
<circle cx="305.0" cy="104.5" r="0.5" fill="#111" fill-opacity="0.95"/>
<circle cx="287.3" cy="91.1" r="0.5" fill="#111" fill-opacity="0.95"/>
<circle cx="304.1" cy="98.3" r="0.5" fill="#111" fill-opacity="0.95"/>
<circle cx="287.7" cy="105.0" r="0.5" fill="#111" fill-opacity="0.95"/>
<circle cx="299.2" cy="113.4" r="0.5" fill="#111" fill-opacity="0.95"/>
<circle cx="302.9" cy="108.3" r="0.5" fill="#111" fill-opacity="0.95"/>
<circle cx="304.4" cy="99.8" r="0.5" fill="#111" fill-opacity="0.95"/>
<circle cx="290.7" cy="112.4" r="0.5" fill="#111" fill-opacity="0.95"/>
<circle cx="290.7" cy="70.5" r="0.5" fill="#111" fill-opacity="0.95"/>
<circle cx="289.3" cy="74.6" r="0.5" fill="#111" fill-opacity="0.95"/>
<circle cx="304.5" cy="100.3" r="0.5" fill="#111" fill-opacity="0.95"/>
<circle cx="286.7" cy="89.6" r="0.5" fill="#111" fill-opacity="0.95"/>
<circle cx="325.2" cy="94.3" r="0.5" fill="#222" fill-opacity="0.85"/>
<circle cx="317.2" cy="99.9" r="0.5" fill="#222" fill-opacity="0.85"/>
<circle cx="326.4" cy="92.5" r="0.5" fill="#222" fill-opacity="0.85"/>
<circle cx="331.1" cy="94.3" r="0.5" fill="#222" fill-opacity="0.85"/>
<circle cx="324.1" cy="91.3" r="0.5" fill="#222" fill-opacity="0.85"/>
<circle cx="307.7" cy="104.4" r="0.5" fill="#222" fill-opacity="0.85"/>
<circle cx="327.5" cy="100.8" r="0.5" fill="#222" fill-opacity="0.85"/>
<circle cx="305.3" cy="88.7" r="0.5" fill="#222" fill-opacity="0.85"/>
<circle cx="309.2" cy="91.6" r="0.5" fill="#222" fill-opacity="0.85"/>
<circle cx="313.7" cy="94.9" r="0.5" fill="#222" fill-opacity="0.85"/>
<circle cx="305.3" cy="93.6" r="0.5" fill="#222" fill-opacity="0.85"/>
<circle cx="324.4" cy="91.2" r="0.5" fill="#222" fill-opacity="0.85"/>
<circle cx="330.9" cy="98.3" r="0.5" fill="#222" fill-opacity="0.85"/>
<circle cx="326.9" cy="92.6" r="0.5" fill="#222" fill-opacity="0.85"/>
<circle cx="317.9" cy="100.3" r="0.5" fill="#222" fill-opacity="0.85"/>
<circle cx="315.2" cy="88.0" r="0.5" fill="#222" fill-opacity="0.85"/>
<circle cx="330.7" cy="102.0" r="0.5" fill="#222" fill-opacity="0.85"/>
<circle cx="313.2" cy="88.8" r="0.5" fill="#222" fill-opacity="0.85"/>
<circle cx="331.3" cy="98.9" r="0.5" fill="#222" fill-opacity="0.85"/>
<circle cx="305.5" cy="92.4" r="0.5" fill="#222" fill-opacity="0.85"/>
<circle cx="307.6" cy="102.2" r="0.5" fill="#222" fill-opacity="0.85"/>
<circle cx="310.7" cy="104.5" r="0.5" fill="#222" fill-opacity="0.85"/>
<circle cx="328.0" cy="89.6" r="0.5" fill="#222" fill-opacity="0.85"/>
<circle cx="326.2" cy="95.1" r="0.5" fill="#222" fill-opacity="0.85"/>
<circle cx="327.9" cy="102.9" r="0.5" fill="#222" fill-opacity="0.85"/>
<circle cx="313.0" cy="89.6" r="0.5" fill="#222" fill-opacity="0.85"/>
<circle cx="334.3" cy="95.6" r="0.5" fill="#222" fill-opacity="0.85"/>
<circle cx="333.8" cy="100.4" r="0.5" fill="#222" fill-opacity="0.85"/>
<circle cx="327.6" cy="102.9" r="0.5" fill="#222" fill-opacity="0.85"/>
<circle cx="324.1" cy="96.2" r="0.5" fill="#222" fill-opacity="0.85"/>
<circle cx="305.7" cy="100.6" r="0.5" fill="#222" fill-opacity="0.85"/>
<circle cx="317.7" cy="97.2" r="0.5" fill="#222" fill-opacity="0.85"/>
<circle cx="333.7" cy="90.3" r="0.5" fill="#222" fill-opacity="0.85"/>
<circle cx="328.4" cy="88.8" r="0.5" fill="#222" fill-opacity="0.85"/>
<circle cx="326.5" cy="102.5" r="0.5" fill="#222" fill-opacity="0.85"/>
<circle cx="312.4" cy="97.8" r="0.5" fill="#222" fill-opacity="0.85"/>
<circle cx="335.0" cy="99.5" r="0.5" fill="#222" fill-opacity="0.85"/>
<circle cx="321.4" cy="92.5" r="0.5" fill="#222" fill-opacity="0.85"/>
<circle cx="305.9" cy="94.4" r="0.5" fill="#222" fill-opacity="0.85"/>
<circle cx="317.2" cy="91.6" r="0.5" fill="#222" fill-opacity="0.85"/>
<circle cx="313.9" cy="90.5" r="0.5" fill="#222" fill-opacity="0.85"/>
<circle cx="326.6" cy="100.1" r="0.5" fill="#222" fill-opacity="0.85"/>
<circle cx="311.6" cy="92.4" r="0.5" fill="#222" fill-opacity="0.85"/>
<circle cx="320.5" cy="96.0" r="0.5" fill="#222" fill-opacity="0.85"/>
<circle cx="333.9" cy="94.3" r="0.5" fill="#222" fill-opacity="0.85"/>
<circle cx="305.2" cy="100.9" r="0.5" fill="#111" fill-opacity="0.9"/>
<circle cx="313.9" cy="97.0" r="0.5" fill="#111" fill-opacity="0.9"/>
<circle cx="303.5" cy="99.4" r="0.5" fill="#111" fill-opacity="0.9"/>
<circle cx="313.3" cy="98.2" r="0.5" fill="#111" fill-opacity="0.9"/>
<circle cx="303.6" cy="90.4" r="0.5" fill="#111" fill-opacity="0.9"/>
<circle cx="312.7" cy="95.2" r="0.5" fill="#111" fill-opacity="0.9"/>
<circle cx="306.4" cy="95.1" r="0.5" fill="#111" fill-opacity="0.9"/>
<circle cx="313.5" cy="94.2" r="0.5" fill="#111" fill-opacity="0.9"/>
<circle cx="312.0" cy="98.9" r="0.5" fill="#111" fill-opacity="0.9"/>
<circle cx="306.2" cy="93.6" r="0.5" fill="#111" fill-opacity="0.9"/>
<circle cx="306.0" cy="97.0" r="0.5" fill="#111" fill-opacity="0.9"/>
<circle cx="306.6" cy="94.8" r="0.5" fill="#111" fill-opacity="0.9"/>
<circle cx="309.8" cy="93.3" r="0.5" fill="#111" fill-opacity="0.9"/>
<circle cx="319.0" cy="92.7" r="0.5" fill="#111" fill-opacity="0.9"/>
<circle cx="317.2" cy="96.2" r="0.5" fill="#111" fill-opacity="0.9"/>
<circle cx="316.7" cy="92.4" r="0.5" fill="#111" fill-opacity="0.9"/>
<circle cx="314.4" cy="95.9" r="0.5" fill="#111" fill-opacity="0.9"/>
<circle cx="305.4" cy="94.0" r="0.5" fill="#111" fill-opacity="0.9"/>
<circle cx="308.3" cy="92.9" r="0.5" fill="#111" fill-opacity="0.9"/>
<circle cx="316.6" cy="90.2" r="0.5" fill="#111" fill-opacity="0.9"/>
<circle cx="306.4" cy="90.5" r="0.5" fill="#111" fill-opacity="0.9"/>
<circle cx="309.1" cy="95.2" r="0.5" fill="#111" fill-opacity="0.9"/>
<circle cx="319.2" cy="94.2" r="0.5" fill="#111" fill-opacity="0.9"/>
<circle cx="311.7" cy="90.2" r="0.5" fill="#111" fill-opacity="0.9"/>
<circle cx="312.4" cy="98.2" r="0.5" fill="#111" fill-opacity="0.9"/>
<circle cx="314.2" cy="99.1" r="0.5" fill="#111" fill-opacity="0.9"/>
<circle cx="313.8" cy="87.2" r="0.5" fill="#111" fill-opacity="0.9"/>
<circle cx="307.2" cy="95.3" r="0.5" fill="#111" fill-opacity="0.9"/>
<circle cx="311.4" cy="89.9" r="0.5" fill="#111" fill-opacity="0.9"/>
<circle cx="303.9" cy="96.7" r="0.5" fill="#111" fill-opacity="0.9"/>
<circle cx="309.1" cy="94.2" r="0.5" fill="#111" fill-opacity="0.9"/>
<circle cx="313.0" cy="87.3" r="0.5" fill="#111" fill-opacity="0.9"/>
<circle cx="321.0" cy="87.6" r="0.5" fill="#111" fill-opacity="0.9"/>
<circle cx="311.8" cy="95.8" r="0.5" fill="#111" fill-opacity="0.9"/>
<circle cx="306.9" cy="92.2" r="0.5" fill="#111" fill-opacity="0.9"/>
<circle cx="307.6" cy="90.8" r="0.5" fill="#111" fill-opacity="0.9"/>
<circle cx="310.4" cy="93.6" r="0.5" fill="#111" fill-opacity="0.9"/>
<circle cx="305.4" cy="94.0" r="0.5" fill="#111" fill-opacity="0.9"/>
<circle cx="308.9" cy="92.7" r="0.5" fill="#111" fill-opacity="0.9"/>
<circle cx="315.4" cy="86.4" r="0.5" fill="#111" fill-opacity="0.9"/>
<circle cx="310.5" cy="88.9" r="0.5" fill="#111" fill-opacity="0.9"/>
<circle cx="307.2" cy="98.8" r="0.5" fill="#111" fill-opacity="0.9"/>
<circle cx="302.8" cy="92.6" r="0.5" fill="#111" fill-opacity="0.9"/>
<circle cx="305.6" cy="96.6" r="0.5" fill="#111" fill-opacity="0.9"/>
<circle cx="303.4" cy="86.5" r="0.5" fill="#111" fill-opacity="0.9"/>
<circle cx="312.0" cy="91.6" r="0.5" fill="#111" fill-opacity="0.9"/>
<circle cx="307.2" cy="97.2" r="0.5" fill="#111" fill-opacity="0.9"/>
<circle cx="303.9" cy="91.6" r="0.5" fill="#111" fill-opacity="0.9"/>
<circle cx="309.9" cy="94.6" r="0.5" fill="#111" fill-opacity="0.9"/>
<circle cx="306.0" cy="97.0" r="0.5" fill="#111" fill-opacity="0.9"/>
<circle cx="321.9" cy="91.4" r="0.5" fill="#111" fill-opacity="0.9"/>
<circle cx="317.1" cy="91.7" r="0.5" fill="#111" fill-opacity="0.9"/>
<circle cx="309.8" cy="91.7" r="0.5" fill="#111" fill-opacity="0.9"/>
<circle cx="305.3" cy="88.1" r="0.5" fill="#111" fill-opacity="0.9"/>
<circle cx="306.7" cy="98.0" r="0.5" fill="#111" fill-opacity="0.9"/>
<circle cx="315.6" cy="91.7" r="0.5" fill="#111" fill-opacity="0.9"/>
<circle cx="306.0" cy="90.3" r="0.5" fill="#111" fill-opacity="0.9"/>
<circle cx="302.1" cy="99.9" r="0.5" fill="#111" fill-opacity="0.9"/>
<circle cx="312.8" cy="93.5" r="0.5" fill="#111" fill-opacity="0.9"/>
<circle cx="306.2" cy="89.1" r="0.5" fill="#111" fill-opacity="0.9"/>
<circle cx="316.6" cy="96.0" r="0.5" fill="#111" fill-opacity="0.9"/>
<circle cx="303.5" cy="96.8" r="0.5" fill="#111" fill-opacity="0.9"/>
<circle cx="302.6" cy="95.5" r="0.5" fill="#111" fill-opacity="0.9"/>
<circle cx="303.5" cy="91.4" r="0.5" fill="#111" fill-opacity="0.9"/>
<circle cx="311.9" cy="94.7" r="0.5" fill="#111" fill-opacity="0.9"/>
<circle cx="314.8" cy="89.8" r="0.5" fill="#111" fill-opacity="0.9"/>
<circle cx="318.1" cy="98.2" r="0.5" fill="#111" fill-opacity="0.9"/>
<circle cx="308.9" cy="94.8" r="0.5" fill="#111" fill-opacity="0.9"/>
<circle cx="304.5" cy="92.4" r="0.5" fill="#111" fill-opacity="0.9"/>
<circle cx="310.1" cy="98.2" r="0.5" fill="#111" fill-opacity="0.9"/>
<circle cx="314.5" cy="96.1" r="0.5" fill="#111" fill-opacity="0.9"/>
<circle cx="306.9" cy="92.1" r="0.5" fill="#111" fill-opacity="0.9"/>
<circle cx="307.0" cy="93.9" r="0.5" fill="#111" fill-opacity="0.9"/>
<circle cx="309.1" cy="91.0" r="0.5" fill="#111" fill-opacity="0.9"/>
<circle cx="318.6" cy="92.6" r="0.5" fill="#111" fill-opacity="0.9"/>
<circle cx="318.1" cy="97.5" r="0.5" fill="#111" fill-opacity="0.9"/>
<circle cx="306.1" cy="94.5" r="0.5" fill="#111" fill-opacity="0.9"/>
<circle cx="316.5" cy="91.7" r="0.5" fill="#111" fill-opacity="0.9"/>
<circle cx="322.7" cy="86.3" r="0.5" fill="#111" fill-opacity="0.9"/>
<circle cx="322.5" cy="86.9" r="0.5" fill="#111" fill-opacity="0.9"/>
<circle cx="322.6" cy="91.1" r="0.5" fill="#111" fill-opacity="0.9"/>
<circle cx="332.7" cy="88.4" r="0.5" fill="#111" fill-opacity="0.9"/>
<circle cx="323.6" cy="90.6" r="0.5" fill="#111" fill-opacity="0.9"/>
<circle cx="319.8" cy="84.7" r="0.5" fill="#111" fill-opacity="0.9"/>
<circle cx="330.5" cy="85.1" r="0.5" fill="#111" fill-opacity="0.9"/>
<circle cx="329.1" cy="85.0" r="0.5" fill="#111" fill-opacity="0.9"/>
<circle cx="336.1" cy="84.8" r="0.5" fill="#111" fill-opacity="0.9"/>
<circle cx="328.5" cy="92.6" r="0.5" fill="#111" fill-opacity="0.9"/>
<circle cx="314.6" cy="92.6" r="0.5" fill="#111" fill-opacity="0.9"/>
<circle cx="315.7" cy="82.6" r="0.5" fill="#111" fill-opacity="0.9"/>
<circle cx="327.5" cy="90.2" r="0.5" fill="#111" fill-opacity="0.9"/>
<circle cx="320.4" cy="80.2" r="0.5" fill="#111" fill-opacity="0.9"/>
<circle cx="321.6" cy="87.1" r="0.5" fill="#111" fill-opacity="0.9"/>
<circle cx="319.1" cy="87.1" r="0.5" fill="#111" fill-opacity="0.9"/>
<circle cx="308.3" cy="86.3" r="0.5" fill="#111" fill-opacity="0.9"/>
<circle cx="335.8" cy="92.8" r="0.5" fill="#111" fill-opacity="0.9"/>
<circle cx="319.2" cy="85.8" r="0.5" fill="#111" fill-opacity="0.9"/>
<circle cx="325.0" cy="91.3" r="0.5" fill="#111" fill-opacity="0.9"/>
<circle cx="327.6" cy="84.4" r="0.5" fill="#111" fill-opacity="0.9"/>
<circle cx="323.2" cy="88.4" r="0.5" fill="#111" fill-opacity="0.9"/>
<circle cx="333.0" cy="91.7" r="0.5" fill="#111" fill-opacity="0.9"/>
<circle cx="326.0" cy="91.7" r="0.5" fill="#111" fill-opacity="0.9"/>
<circle cx="319.0" cy="92.7" r="0.5" fill="#111" fill-opacity="0.9"/>
<circle cx="318.7" cy="89.2" r="0.5" fill="#111" fill-opacity="0.9"/>
<circle cx="329.1" cy="85.2" r="0.5" fill="#111" fill-opacity="0.9"/>
<circle cx="316.6" cy="82.6" r="0.5" fill="#111" fill-opacity="0.9"/>
<circle cx="323.3" cy="87.8" r="0.5" fill="#111" fill-opacity="0.9"/>
<circle cx="319.5" cy="89.5" r="0.5" fill="#111" fill-opacity="0.9"/>
<circle cx="305.7" cy="87.9" r="0.5" fill="#111" fill-opacity="0.9"/>
<circle cx="322.7" cy="87.2" r="0.5" fill="#111" fill-opacity="0.9"/>
<circle cx="328.1" cy="93.4" r="0.5" fill="#111" fill-opacity="0.9"/>
<circle cx="318.6" cy="85.1" r="0.5" fill="#111" fill-opacity="0.9"/>
<circle cx="317.4" cy="88.3" r="0.5" fill="#111" fill-opacity="0.9"/>
<circle cx="326.5" cy="85.4" r="0.5" fill="#111" fill-opacity="0.9"/>
<circle cx="329.7" cy="84.9" r="0.5" fill="#111" fill-opacity="0.9"/>
<circle cx="328.4" cy="89.3" r="0.5" fill="#111" fill-opacity="0.9"/>
<circle cx="325.6" cy="94.6" r="0.5" fill="#111" fill-opacity="0.9"/>
<circle cx="320.0" cy="87.5" r="0.5" fill="#111" fill-opacity="0.9"/>
<circle cx="325.7" cy="90.7" r="0.5" fill="#111" fill-opacity="0.9"/>
<circle cx="311.7" cy="88.8" r="0.5" fill="#111" fill-opacity="0.9"/>
<circle cx="316.3" cy="89.9" r="0.5" fill="#111" fill-opacity="0.9"/>
<circle cx="332.5" cy="88.2" r="0.5" fill="#111" fill-opacity="0.9"/>
<circle cx="321.2" cy="88.6" r="0.5" fill="#111" fill-opacity="0.9"/>
<circle cx="326.3" cy="88.5" r="0.5" fill="#111" fill-opacity="0.9"/>
<circle cx="319.0" cy="85.8" r="0.5" fill="#111" fill-opacity="0.9"/>
<circle cx="320.6" cy="91.7" r="0.5" fill="#111" fill-opacity="0.9"/>
<circle cx="321.2" cy="92.1" r="0.5" fill="#111" fill-opacity="0.9"/>
<circle cx="324.1" cy="88.0" r="0.5" fill="#111" fill-opacity="0.9"/>
<circle cx="309.3" cy="86.0" r="0.5" fill="#111" fill-opacity="0.9"/>
<circle cx="331.6" cy="84.0" r="0.5" fill="#111" fill-opacity="0.9"/>
<circle cx="314.4" cy="84.6" r="0.5" fill="#111" fill-opacity="0.9"/>
<circle cx="317.8" cy="90.0" r="0.5" fill="#111" fill-opacity="0.9"/>
<circle cx="326.6" cy="81.8" r="0.5" fill="#111" fill-opacity="0.9"/>
<circle cx="333.2" cy="86.2" r="0.5" fill="#111" fill-opacity="0.9"/>
<circle cx="317.5" cy="93.1" r="0.5" fill="#111" fill-opacity="0.9"/>
<circle cx="321.4" cy="84.2" r="0.5" fill="#111" fill-opacity="0.9"/>
<circle cx="317.1" cy="85.8" r="0.5" fill="#111" fill-opacity="0.9"/>
<circle cx="314.2" cy="87.0" r="0.5" fill="#111" fill-opacity="0.9"/>
<circle cx="328.7" cy="89.1" r="0.5" fill="#111" fill-opacity="0.9"/>
<circle cx="311.4" cy="96.6" r="0.5" fill="#111" fill-opacity="0.9"/>
<circle cx="314.4" cy="88.4" r="0.5" fill="#111" fill-opacity="0.9"/>
<circle cx="322.2" cy="90.3" r="0.5" fill="#111" fill-opacity="0.9"/>
<circle cx="319.5" cy="89.4" r="0.5" fill="#111" fill-opacity="0.9"/>
<circle cx="313.7" cy="89.0" r="0.5" fill="#111" fill-opacity="0.9"/>
<circle cx="315.8" cy="86.9" r="0.5" fill="#111" fill-opacity="0.9"/>
<circle cx="323.4" cy="89.0" r="0.5" fill="#111" fill-opacity="0.9"/>
<circle cx="319.8" cy="90.6" r="0.5" fill="#111" fill-opacity="0.9"/>
<circle cx="320.5" cy="84.0" r="0.5" fill="#111" fill-opacity="0.9"/>
<circle cx="328.7" cy="86.9" r="0.5" fill="#111" fill-opacity="0.9"/>
<circle cx="331.3" cy="86.0" r="0.5" fill="#111" fill-opacity="0.9"/>
<circle cx="326.4" cy="89.0" r="0.5" fill="#111" fill-opacity="0.9"/>
<circle cx="313.4" cy="92.3" r="0.5" fill="#111" fill-opacity="0.9"/>
<circle cx="307.5" cy="90.8" r="0.5" fill="#111" fill-opacity="0.9"/>
<circle cx="330.4" cy="89.5" r="0.5" fill="#111" fill-opacity="0.9"/>
<circle cx="327.2" cy="86.5" r="0.5" fill="#111" fill-opacity="0.9"/>
<circle cx="321.9" cy="88.7" r="0.5" fill="#111" fill-opacity="0.9"/>
<circle cx="325.2" cy="90.2" r="0.5" fill="#111" fill-opacity="0.9"/>
<circle cx="320.4" cy="85.8" r="0.5" fill="#111" fill-opacity="0.9"/>
<circle cx="317.7" cy="89.3" r="0.5" fill="#111" fill-opacity="0.9"/>
<circle cx="309.2" cy="84.1" r="0.5" fill="#111" fill-opacity="0.9"/>
<circle cx="318.8" cy="86.3" r="0.5" fill="#111" fill-opacity="0.9"/>
<circle cx="319.4" cy="87.2" r="0.5" fill="#111" fill-opacity="0.9"/>
<circle cx="328.0" cy="81.9" r="0.5" fill="#111" fill-opacity="0.9"/>
<circle cx="319.6" cy="89.5" r="0.5" fill="#111" fill-opacity="0.9"/>
<circle cx="325.8" cy="91.7" r="0.5" fill="#111" fill-opacity="0.9"/>
<circle cx="330.1" cy="84.8" r="0.5" fill="#111" fill-opacity="0.9"/>
<circle cx="326.9" cy="87.0" r="0.5" fill="#111" fill-opacity="0.9"/>
<circle cx="315.8" cy="92.7" r="0.5" fill="#111" fill-opacity="0.9"/>
<circle cx="317.2" cy="85.4" r="0.5" fill="#111" fill-opacity="0.9"/>
<circle cx="318.9" cy="85.4" r="0.5" fill="#111" fill-opacity="0.9"/>
<circle cx="329.7" cy="89.2" r="0.5" fill="#111" fill-opacity="0.9"/>
<circle cx="332.8" cy="89.3" r="0.5" fill="#111" fill-opacity="0.9"/>
<circle cx="317.3" cy="91.2" r="0.5" fill="#111" fill-opacity="0.9"/>
<circle cx="317.0" cy="86.6" r="0.5" fill="#111" fill-opacity="0.9"/>
<circle cx="320.7" cy="88.1" r="0.5" fill="#111" fill-opacity="0.9"/>
<circle cx="331.2" cy="86.1" r="0.5" fill="#111" fill-opacity="0.9"/>
<circle cx="324.7" cy="87.9" r="0.5" fill="#111" fill-opacity="0.9"/>
<circle cx="312.3" cy="84.6" r="0.5" fill="#111" fill-opacity="0.9"/>
<circle cx="320.3" cy="89.2" r="0.5" fill="#111" fill-opacity="0.9"/>
<circle cx="324.5" cy="89.5" r="0.5" fill="#111" fill-opacity="0.9"/>
<circle cx="322.4" cy="86.6" r="0.5" fill="#111" fill-opacity="0.9"/>
<circle cx="325.3" cy="84.9" r="0.5" fill="#111" fill-opacity="0.9"/>
<circle cx="311.7" cy="87.0" r="0.5" fill="#111" fill-opacity="0.9"/>
<circle cx="285.5" cy="110.5" r="0.5" fill="#111" fill-opacity="0.9"/>
<circle cx="288.1" cy="110.4" r="0.5" fill="#111" fill-opacity="0.9"/>
<circle cx="290.8" cy="109.7" r="0.5" fill="#111" fill-opacity="0.9"/>
<circle cx="289.4" cy="107.1" r="0.5" fill="#111" fill-opacity="0.9"/>
<circle cx="291.6" cy="109.5" r="0.5" fill="#111" fill-opacity="0.9"/>
<circle cx="287.9" cy="112.7" r="0.5" fill="#111" fill-opacity="0.9"/>
<circle cx="291.4" cy="112.3" r="0.5" fill="#111" fill-opacity="0.9"/>
<circle cx="285.2" cy="112.7" r="0.5" fill="#111" fill-opacity="0.9"/>
<circle cx="291.6" cy="109.2" r="0.5" fill="#111" fill-opacity="0.9"/>
<circle cx="293.9" cy="111.9" r="0.5" fill="#111" fill-opacity="0.9"/>
<circle cx="291.1" cy="110.7" r="0.5" fill="#111" fill-opacity="0.9"/>
<circle cx="293.1" cy="112.3" r="0.5" fill="#111" fill-opacity="0.9"/>
<circle cx="295.4" cy="113.3" r="0.5" fill="#111" fill-opacity="0.9"/>
<circle cx="288.6" cy="111.4" r="0.5" fill="#111" fill-opacity="0.9"/>
<circle cx="294.5" cy="110.9" r="0.5" fill="#111" fill-opacity="0.9"/>
<circle cx="292.5" cy="113.5" r="0.5" fill="#111" fill-opacity="0.9"/>
<circle cx="290.3" cy="105.3" r="0.5" fill="#111" fill-opacity="0.9"/>
<circle cx="291.5" cy="112.6" r="0.5" fill="#111" fill-opacity="0.9"/>
<circle cx="291.5" cy="109.8" r="0.5" fill="#111" fill-opacity="0.9"/>
<circle cx="295.7" cy="111.6" r="0.5" fill="#111" fill-opacity="0.9"/>
<circle cx="288.6" cy="109.9" r="0.5" fill="#111" fill-opacity="0.9"/>
<circle cx="292.4" cy="108.8" r="0.5" fill="#111" fill-opacity="0.9"/>
<circle cx="287.1" cy="117.8" r="0.5" fill="#111" fill-opacity="0.9"/>
<circle cx="296.1" cy="115.1" r="0.5" fill="#111" fill-opacity="0.9"/>
<circle cx="296.3" cy="113.7" r="0.5" fill="#111" fill-opacity="0.9"/>
<circle cx="284.5" cy="115.5" r="0.5" fill="#111" fill-opacity="0.9"/>
<circle cx="295.8" cy="113.4" r="0.5" fill="#111" fill-opacity="0.9"/>
<circle cx="296.3" cy="110.6" r="0.5" fill="#111" fill-opacity="0.9"/>
<circle cx="291.5" cy="114.3" r="0.5" fill="#111" fill-opacity="0.9"/>
<circle cx="290.7" cy="115.2" r="0.5" fill="#111" fill-opacity="0.9"/>
<circle cx="291.3" cy="114.0" r="0.5" fill="#111" fill-opacity="0.9"/>
<circle cx="291.3" cy="107.7" r="0.5" fill="#111" fill-opacity="0.9"/>
<circle cx="292.1" cy="115.8" r="0.5" fill="#111" fill-opacity="0.9"/>
<circle cx="295.4" cy="117.0" r="0.5" fill="#111" fill-opacity="0.9"/>
<circle cx="293.1" cy="110.3" r="0.5" fill="#111" fill-opacity="0.9"/>
<circle cx="291.1" cy="106.4" r="0.5" fill="#111" fill-opacity="0.9"/>
<circle cx="290.3" cy="114.6" r="0.5" fill="#111" fill-opacity="0.9"/>
<circle cx="294.2" cy="115.9" r="0.5" fill="#111" fill-opacity="0.9"/>
<circle cx="287.4" cy="110.1" r="0.5" fill="#111" fill-opacity="0.9"/>
<circle cx="293.1" cy="118.0" r="0.5" fill="#111" fill-opacity="0.9"/>
<circle cx="286.6" cy="116.0" r="0.5" fill="#111" fill-opacity="0.9"/>
<circle cx="292.7" cy="110.6" r="0.5" fill="#111" fill-opacity="0.9"/>
<circle cx="299.5" cy="104.7" r="0.5" fill="#111" fill-opacity="0.9"/>
<circle cx="290.7" cy="112.6" r="0.5" fill="#111" fill-opacity="0.9"/>
<circle cx="295.6" cy="61.2" r="0.4" fill="#555" fill-opacity="0.6"/>
<circle cx="290.5" cy="59.2" r="0.4" fill="#555" fill-opacity="0.6"/>
<circle cx="297.5" cy="53.6" r="0.4" fill="#555" fill-opacity="0.6"/>
<circle cx="294.9" cy="35.4" r="0.4" fill="#555" fill-opacity="0.6"/>
<circle cx="324.1" cy="32.9" r="0.4" fill="#555" fill-opacity="0.6"/>
<circle cx="307.0" cy="59.4" r="0.4" fill="#555" fill-opacity="0.6"/>
<circle cx="325.8" cy="58.2" r="0.4" fill="#555" fill-opacity="0.6"/>
<circle cx="339.0" cy="31.1" r="0.4" fill="#555" fill-opacity="0.6"/>
<path d="M287.30,82.00 C287.47,79.17 287.22,77.08 288.00,75.00 C288.78,72.92 290.33,70.75 292.00,69.50 C293.67,68.25 296.17,67.67 298.00,67.50 C299.83,67.33 301.58,67.75 303.00,68.50 C304.42,69.25 306.00,70.08 306.50,72.00 C307.00,73.92 306.33,77.33 306.00,80.00 C305.67,82.67 304.75,85.50 304.50,88.00 C304.25,90.50 304.50,92.33 304.50,95.00 C304.50,97.67 305.08,101.33 304.50,104.00 C303.92,106.67 302.58,109.20 301.00,111.00 C299.42,112.80 296.83,114.55 295.00,114.80 C293.17,115.05 291.25,114.13 290.00,112.50 C288.75,110.87 288.00,108.42 287.50,105.00 C287.00,101.58 287.03,95.83 287.00,92.00 C286.97,88.17 287.13,84.83 287.30,82.00 Z" fill="#b4b6ba" stroke="#2e3440" stroke-width="0.9"/>
<path d="M289.00,92.00 C291.37,90.00 300.75,90.00 303.00,92.00 C305.25,94.00 303.08,100.92 302.50,104.00 C301.92,107.08 300.75,109.00 299.50,110.50 C298.25,112.00 296.50,113.00 295.00,113.00 C293.50,113.00 291.53,112.00 290.50,110.50 C289.47,109.00 289.05,107.08 288.80,104.00 C288.55,100.92 286.63,94.00 289.00,92.00 Z" fill="#b8ae9c" stroke="#4a4030" stroke-width="0.6" stroke-opacity="1.0"/>
<path d="M290.52,94.33 C292.33,92.80 299.52,92.80 301.25,94.33 C302.98,95.87 301.31,101.17 300.87,103.53 C300.42,105.90 299.52,107.37 298.57,108.52 C297.61,109.67 296.27,110.43 295.12,110.43 C293.97,110.43 292.46,109.67 291.67,108.52 C290.87,107.37 290.56,105.90 290.36,103.53 C290.17,101.17 288.70,95.87 290.52,94.33 Z" fill="#c3baa8" stroke="#4a4030" stroke-width="0.6" stroke-opacity="1.0"/>
<path d="M292.03,96.67 C293.30,95.60 298.30,95.60 299.50,96.67 C300.70,97.73 299.54,101.42 299.23,103.07 C298.92,104.71 298.30,105.73 297.63,106.53 C296.97,107.33 296.03,107.87 295.23,107.87 C294.43,107.87 293.38,107.33 292.83,106.53 C292.28,105.73 292.06,104.71 291.93,103.07 C291.79,101.42 290.77,97.73 292.03,96.67 Z" fill="#cec6b6" stroke="#4a4030" stroke-width="0.6" stroke-opacity="1.0"/>
<path d="M293.55,99.00 C294.26,98.40 297.07,98.40 297.75,99.00 C298.43,99.60 297.78,101.67 297.60,102.60 C297.43,103.52 297.07,104.10 296.70,104.55 C296.32,105.00 295.80,105.30 295.35,105.30 C294.90,105.30 294.31,105.00 294.00,104.55 C293.69,104.10 293.56,103.52 293.49,102.60 C293.42,101.67 292.84,99.60 293.55,99.00 Z" fill="#dad3c5" stroke="#4a4030" stroke-width="0.6" stroke-opacity="1.0"/>
<path d="M289.00,80.00 C289.33,77.25 290.50,73.75 292.00,72.00 C293.50,70.25 296.08,69.75 298.00,69.50 C299.92,69.25 302.25,69.42 303.50,70.50 C304.75,71.58 305.33,73.58 305.50,76.00 C305.67,78.42 305.25,82.50 304.50,85.00 C303.75,87.50 302.58,89.83 301.00,91.00 C299.42,92.17 296.83,92.42 295.00,92.00 C293.17,91.58 291.00,90.50 290.00,88.50 C289.00,86.50 288.67,82.75 289.00,80.00 Z" fill="#b4bcc6" stroke="#2f3d50" stroke-width="0.65" stroke-opacity="1.0"/>
<path d="M290.68,80.24 C290.96,77.93 291.94,74.99 293.20,73.52 C294.46,72.05 296.63,71.63 298.24,71.42 C299.85,71.21 301.81,71.35 302.86,72.26 C303.91,73.17 304.40,74.85 304.54,76.88 C304.68,78.91 304.33,82.34 303.70,84.44 C303.07,86.54 302.09,88.50 300.76,89.48 C299.43,90.46 297.26,90.67 295.72,90.32 C294.18,89.97 292.36,89.06 291.52,87.38 C290.68,85.70 290.40,82.55 290.68,80.24 Z" fill="#c2cad4" stroke="#2f3d50" stroke-width="0.65" stroke-opacity="1.0"/>
<path d="M292.36,80.48 C292.59,78.61 293.38,76.23 294.40,75.04 C295.42,73.85 297.18,73.51 298.48,73.34 C299.78,73.17 301.37,73.28 302.22,74.02 C303.07,74.76 303.47,76.12 303.58,77.76 C303.69,79.40 303.41,82.18 302.90,83.88 C302.39,85.58 301.60,87.17 300.52,87.96 C299.44,88.75 297.69,88.92 296.44,88.64 C295.19,88.36 293.72,87.62 293.04,86.26 C292.36,84.90 292.13,82.35 292.36,80.48 Z" fill="#d0d8e1" stroke="#2f3d50" stroke-width="0.65" stroke-opacity="1.0"/>
<path d="M294.04,80.72 C294.21,79.29 294.82,77.47 295.60,76.56 C296.38,75.65 297.72,75.39 298.72,75.26 C299.72,75.13 300.93,75.22 301.58,75.78 C302.23,76.34 302.53,77.38 302.62,78.64 C302.71,79.90 302.49,82.02 302.10,83.32 C301.71,84.62 301.10,85.83 300.28,86.44 C299.46,87.05 298.11,87.18 297.16,86.96 C296.21,86.74 295.08,86.18 294.56,85.14 C294.04,84.10 293.87,82.15 294.04,80.72 Z" fill="#dde5ee" stroke="#2f3d50" stroke-width="0.65" stroke-opacity="1.0"/>
<path d="M295.72,80.96 C295.84,79.97 296.26,78.71 296.80,78.08 C297.34,77.45 298.27,77.27 298.96,77.18 C299.65,77.09 300.49,77.15 300.94,77.54 C301.39,77.93 301.60,78.65 301.66,79.52 C301.72,80.39 301.57,81.86 301.30,82.76 C301.03,83.66 300.61,84.50 300.04,84.92 C299.47,85.34 298.54,85.43 297.88,85.28 C297.22,85.13 296.44,84.74 296.08,84.02 C295.72,83.30 295.60,81.95 295.72,80.96 Z" fill="#e9f0f8" stroke="#2f3d50" stroke-width="0.65" stroke-opacity="1.0"/>
<path d="M297.40,81.20 C297.47,80.65 297.70,79.95 298.00,79.60 C298.30,79.25 298.82,79.15 299.20,79.10 C299.58,79.05 300.05,79.08 300.30,79.30 C300.55,79.52 300.67,79.92 300.70,80.40 C300.73,80.88 300.65,81.70 300.50,82.20 C300.35,82.70 300.12,83.17 299.80,83.40 C299.48,83.63 298.97,83.68 298.60,83.60 C298.23,83.52 297.80,83.30 297.60,82.90 C297.40,82.50 297.33,81.75 297.40,81.20 Z" fill="#f5f9fd" stroke="#2f3d50" stroke-width="0.65" stroke-opacity="1.0"/>
<path d="M303,69 C311,68 330,67 334,76.0 C335,79.0 328,88 303,89 Z" fill="none" stroke="#8a70b8" stroke-width="0.65"/>
<path d="M305,71 C313,70 327,69 331,75.5 C332,78.5 325,85 305,86 Z" fill="none" stroke="#8a70b8" stroke-width="0.65"/>
<path d="M307,73 C315,72 324,71 328,75.0 C329,78.0 322,82 307,83 Z" fill="none" stroke="#8a70b8" stroke-width="0.65"/>
<path d="M309,75 C317,74 320,73 324,74.8 C325,77.8 318,79.5 309,80.5 Z" fill="none" stroke="#8a70b8" stroke-width="0.65"/>
<circle cx="451.9" cy="71.8" r="0.5" fill="#111" fill-opacity="0.95"/>
<circle cx="442.0" cy="74.2" r="0.5" fill="#111" fill-opacity="0.95"/>
<circle cx="465.6" cy="73.1" r="0.5" fill="#111" fill-opacity="0.95"/>
<circle cx="445.0" cy="71.4" r="0.5" fill="#111" fill-opacity="0.95"/>
<circle cx="440.7" cy="72.6" r="0.5" fill="#111" fill-opacity="0.95"/>
<circle cx="468.5" cy="90.9" r="0.5" fill="#111" fill-opacity="0.95"/>
<circle cx="446.1" cy="72.9" r="0.5" fill="#111" fill-opacity="0.95"/>
<circle cx="461.8" cy="72.4" r="0.5" fill="#111" fill-opacity="0.95"/>
<circle cx="449.0" cy="72.5" r="0.5" fill="#111" fill-opacity="0.95"/>
<circle cx="468.5" cy="83.7" r="0.5" fill="#111" fill-opacity="0.95"/>
<circle cx="465.8" cy="72.3" r="0.5" fill="#111" fill-opacity="0.95"/>
<circle cx="465.5" cy="72.3" r="0.5" fill="#111" fill-opacity="0.95"/>
<circle cx="467.9" cy="92.8" r="0.5" fill="#111" fill-opacity="0.95"/>
<circle cx="467.5" cy="95.4" r="0.5" fill="#111" fill-opacity="0.95"/>
<circle cx="468.5" cy="91.1" r="0.5" fill="#111" fill-opacity="0.95"/>
<circle cx="448.9" cy="72.8" r="0.5" fill="#111" fill-opacity="0.95"/>
<circle cx="453.4" cy="71.9" r="0.5" fill="#111" fill-opacity="0.95"/>
<circle cx="465.8" cy="73.2" r="0.5" fill="#111" fill-opacity="0.95"/>
<circle cx="460.8" cy="72.8" r="0.5" fill="#111" fill-opacity="0.95"/>
<circle cx="440.6" cy="74.0" r="0.5" fill="#111" fill-opacity="0.95"/>
<circle cx="468.4" cy="81.2" r="0.5" fill="#111" fill-opacity="0.95"/>
<circle cx="467.4" cy="74.7" r="0.5" fill="#111" fill-opacity="0.95"/>
<circle cx="471.5" cy="81.0" r="0.5" fill="#111" fill-opacity="0.95"/>
<circle cx="468.7" cy="82.7" r="0.5" fill="#111" fill-opacity="0.95"/>
<circle cx="460.3" cy="72.5" r="0.5" fill="#111" fill-opacity="0.95"/>
<circle cx="467.8" cy="95.9" r="0.5" fill="#111" fill-opacity="0.95"/>
<circle cx="459.7" cy="72.7" r="0.5" fill="#111" fill-opacity="0.95"/>
<circle cx="447.2" cy="71.5" r="0.5" fill="#111" fill-opacity="0.95"/>
<circle cx="467.7" cy="97.4" r="0.5" fill="#111" fill-opacity="0.95"/>
<circle cx="467.9" cy="93.2" r="0.5" fill="#111" fill-opacity="0.95"/>
<circle cx="452.9" cy="72.6" r="0.5" fill="#111" fill-opacity="0.95"/>
<circle cx="452.2" cy="72.6" r="0.5" fill="#111" fill-opacity="0.95"/>
<circle cx="450.0" cy="70.4" r="0.5" fill="#111" fill-opacity="0.95"/>
<circle cx="470.5" cy="86.1" r="0.5" fill="#111" fill-opacity="0.95"/>
<circle cx="470.1" cy="93.4" r="0.5" fill="#111" fill-opacity="0.95"/>
<circle cx="456.5" cy="71.6" r="0.5" fill="#111" fill-opacity="0.95"/>
<circle cx="468.1" cy="79.0" r="0.5" fill="#111" fill-opacity="0.95"/>
<circle cx="466.6" cy="95.2" r="0.5" fill="#111" fill-opacity="0.95"/>
<circle cx="440.1" cy="74.0" r="0.5" fill="#111" fill-opacity="0.95"/>
<circle cx="465.4" cy="74.1" r="0.5" fill="#111" fill-opacity="0.95"/>
<circle cx="469.2" cy="76.1" r="0.5" fill="#111" fill-opacity="0.95"/>
<circle cx="468.4" cy="78.2" r="0.5" fill="#111" fill-opacity="0.95"/>
<circle cx="468.3" cy="84.0" r="0.5" fill="#111" fill-opacity="0.95"/>
<circle cx="460.1" cy="70.8" r="0.5" fill="#111" fill-opacity="0.95"/>
<circle cx="466.3" cy="74.2" r="0.5" fill="#111" fill-opacity="0.95"/>
<circle cx="456.4" cy="72.6" r="0.5" fill="#111" fill-opacity="0.95"/>
<circle cx="468.1" cy="78.2" r="0.5" fill="#111" fill-opacity="0.95"/>
<circle cx="468.2" cy="77.3" r="0.5" fill="#111" fill-opacity="0.95"/>
<circle cx="453.4" cy="71.0" r="0.5" fill="#111" fill-opacity="0.95"/>
<circle cx="468.5" cy="82.9" r="0.5" fill="#111" fill-opacity="0.95"/>
<circle cx="466.2" cy="73.9" r="0.5" fill="#111" fill-opacity="0.95"/>
<circle cx="447.1" cy="72.4" r="0.5" fill="#111" fill-opacity="0.95"/>
<circle cx="467.4" cy="93.0" r="0.5" fill="#111" fill-opacity="0.95"/>
<circle cx="466.6" cy="73.9" r="0.5" fill="#111" fill-opacity="0.95"/>
<circle cx="468.7" cy="87.6" r="0.5" fill="#111" fill-opacity="0.95"/>
<circle cx="469.5" cy="88.0" r="0.5" fill="#111" fill-opacity="0.95"/>
<circle cx="463.4" cy="73.0" r="0.5" fill="#111" fill-opacity="0.95"/>
<circle cx="467.9" cy="91.7" r="0.5" fill="#111" fill-opacity="0.95"/>
<circle cx="469.9" cy="90.4" r="0.5" fill="#111" fill-opacity="0.95"/>
<circle cx="469.0" cy="88.5" r="0.5" fill="#111" fill-opacity="0.95"/>
<circle cx="469.2" cy="87.8" r="0.5" fill="#111" fill-opacity="0.95"/>
<circle cx="452.7" cy="71.7" r="0.5" fill="#111" fill-opacity="0.95"/>
<circle cx="445.3" cy="73.4" r="0.5" fill="#111" fill-opacity="0.95"/>
<circle cx="467.2" cy="71.9" r="0.5" fill="#111" fill-opacity="0.95"/>
<circle cx="463.1" cy="71.3" r="0.5" fill="#111" fill-opacity="0.95"/>
<circle cx="466.7" cy="96.7" r="0.5" fill="#111" fill-opacity="0.95"/>
<circle cx="468.3" cy="81.5" r="0.5" fill="#111" fill-opacity="0.95"/>
<circle cx="469.2" cy="86.8" r="0.5" fill="#111" fill-opacity="0.95"/>
<circle cx="470.0" cy="84.8" r="0.5" fill="#111" fill-opacity="0.95"/>
<circle cx="458.7" cy="70.6" r="0.5" fill="#111" fill-opacity="0.95"/>
<circle cx="466.3" cy="73.6" r="0.5" fill="#111" fill-opacity="0.95"/>
<circle cx="457.3" cy="70.9" r="0.5" fill="#111" fill-opacity="0.95"/>
<circle cx="459.4" cy="71.4" r="0.5" fill="#111" fill-opacity="0.95"/>
<circle cx="468.2" cy="75.1" r="0.5" fill="#111" fill-opacity="0.95"/>
<circle cx="442.7" cy="72.4" r="0.5" fill="#111" fill-opacity="0.95"/>
<circle cx="453.9" cy="70.3" r="0.5" fill="#111" fill-opacity="0.95"/>
<circle cx="456.5" cy="72.1" r="0.5" fill="#111" fill-opacity="0.95"/>
<circle cx="444.0" cy="70.4" r="0.5" fill="#111" fill-opacity="0.95"/>
<circle cx="469.0" cy="78.4" r="0.5" fill="#111" fill-opacity="0.95"/>
<circle cx="461.5" cy="72.6" r="0.5" fill="#111" fill-opacity="0.95"/>
<circle cx="468.4" cy="86.5" r="0.5" fill="#111" fill-opacity="0.95"/>
<circle cx="442.3" cy="73.8" r="0.5" fill="#111" fill-opacity="0.95"/>
<circle cx="462.5" cy="72.9" r="0.5" fill="#111" fill-opacity="0.95"/>
<circle cx="454.9" cy="70.6" r="0.5" fill="#111" fill-opacity="0.95"/>
<circle cx="460.8" cy="72.8" r="0.5" fill="#111" fill-opacity="0.95"/>
<circle cx="457.9" cy="72.9" r="0.5" fill="#111" fill-opacity="0.95"/>
<circle cx="459.6" cy="73.2" r="0.5" fill="#111" fill-opacity="0.95"/>
<circle cx="449.7" cy="72.9" r="0.5" fill="#111" fill-opacity="0.95"/>
<circle cx="466.6" cy="95.2" r="0.5" fill="#111" fill-opacity="0.95"/>
<circle cx="468.2" cy="80.0" r="0.5" fill="#111" fill-opacity="0.95"/>
<circle cx="456.8" cy="70.1" r="0.5" fill="#111" fill-opacity="0.95"/>
<circle cx="459.3" cy="71.3" r="0.5" fill="#111" fill-opacity="0.95"/>
<circle cx="466.1" cy="74.6" r="0.5" fill="#111" fill-opacity="0.95"/>
<circle cx="468.8" cy="84.7" r="0.5" fill="#111" fill-opacity="0.95"/>
<circle cx="441.4" cy="74.1" r="0.5" fill="#111" fill-opacity="0.95"/>
<circle cx="463.5" cy="72.7" r="0.5" fill="#111" fill-opacity="0.95"/>
<circle cx="468.2" cy="88.9" r="0.5" fill="#111" fill-opacity="0.95"/>
<circle cx="469.3" cy="91.5" r="0.5" fill="#111" fill-opacity="0.95"/>
<circle cx="462.4" cy="72.9" r="0.5" fill="#111" fill-opacity="0.95"/>
<circle cx="468.7" cy="88.2" r="0.5" fill="#111" fill-opacity="0.95"/>
<circle cx="468.6" cy="80.2" r="0.5" fill="#111" fill-opacity="0.95"/>
<circle cx="442.1" cy="74.0" r="0.5" fill="#111" fill-opacity="0.95"/>
<circle cx="468.0" cy="80.8" r="0.5" fill="#111" fill-opacity="0.95"/>
<circle cx="468.5" cy="85.3" r="0.5" fill="#111" fill-opacity="0.95"/>
<circle cx="445.9" cy="72.6" r="0.5" fill="#111" fill-opacity="0.95"/>
<circle cx="469.2" cy="87.8" r="0.5" fill="#111" fill-opacity="0.95"/>
<circle cx="444.7" cy="71.0" r="0.5" fill="#111" fill-opacity="0.95"/>
<circle cx="469.3" cy="74.7" r="0.5" fill="#111" fill-opacity="0.95"/>
<circle cx="442.8" cy="73.7" r="0.5" fill="#111" fill-opacity="0.95"/>
<circle cx="464.3" cy="73.3" r="0.5" fill="#111" fill-opacity="0.95"/>
<circle cx="442.8" cy="73.6" r="0.5" fill="#111" fill-opacity="0.95"/>
<circle cx="467.7" cy="75.9" r="0.5" fill="#111" fill-opacity="0.95"/>
<circle cx="467.1" cy="97.0" r="0.5" fill="#111" fill-opacity="0.95"/>
<circle cx="447.3" cy="73.3" r="0.5" fill="#111" fill-opacity="0.95"/>
<circle cx="457.0" cy="72.3" r="0.5" fill="#111" fill-opacity="0.95"/>
<circle cx="466.3" cy="96.0" r="0.5" fill="#111" fill-opacity="0.95"/>
<circle cx="453.9" cy="72.3" r="0.5" fill="#111" fill-opacity="0.95"/>
<circle cx="452.9" cy="71.1" r="0.5" fill="#111" fill-opacity="0.95"/>
<circle cx="468.1" cy="89.9" r="0.5" fill="#111" fill-opacity="0.95"/>
<circle cx="461.4" cy="72.6" r="0.5" fill="#111" fill-opacity="0.95"/>
<circle cx="442.6" cy="73.7" r="0.5" fill="#111" fill-opacity="0.95"/>
<circle cx="471.3" cy="87.1" r="0.5" fill="#111" fill-opacity="0.95"/>
<circle cx="468.6" cy="89.8" r="0.5" fill="#111" fill-opacity="0.95"/>
<circle cx="442.4" cy="72.5" r="0.5" fill="#111" fill-opacity="0.95"/>
<circle cx="466.9" cy="74.3" r="0.5" fill="#111" fill-opacity="0.95"/>
<circle cx="465.3" cy="71.9" r="0.5" fill="#111" fill-opacity="0.95"/>
<circle cx="467.6" cy="75.9" r="0.5" fill="#111" fill-opacity="0.95"/>
<circle cx="450.1" cy="70.5" r="0.5" fill="#111" fill-opacity="0.95"/>
<circle cx="467.9" cy="92.8" r="0.5" fill="#111" fill-opacity="0.95"/>
<circle cx="456.0" cy="72.2" r="0.5" fill="#111" fill-opacity="0.95"/>
<circle cx="466.7" cy="74.3" r="0.5" fill="#111" fill-opacity="0.95"/>
<circle cx="456.5" cy="71.2" r="0.5" fill="#111" fill-opacity="0.95"/>
<circle cx="453.9" cy="71.9" r="0.5" fill="#111" fill-opacity="0.95"/>
<circle cx="468.5" cy="82.3" r="0.5" fill="#111" fill-opacity="0.95"/>
<circle cx="468.3" cy="87.0" r="0.5" fill="#111" fill-opacity="0.95"/>
<circle cx="467.4" cy="93.5" r="0.5" fill="#111" fill-opacity="0.95"/>
<circle cx="462.7" cy="72.1" r="0.5" fill="#111" fill-opacity="0.95"/>
<circle cx="462.1" cy="72.5" r="0.5" fill="#111" fill-opacity="0.95"/>
<circle cx="471.1" cy="78.4" r="0.5" fill="#111" fill-opacity="0.95"/>
<circle cx="443.4" cy="72.4" r="0.5" fill="#111" fill-opacity="0.95"/>
<circle cx="469.5" cy="76.3" r="0.5" fill="#111" fill-opacity="0.95"/>
<circle cx="470.9" cy="74.4" r="0.5" fill="#111" fill-opacity="0.95"/>
<circle cx="468.0" cy="86.9" r="0.5" fill="#111" fill-opacity="0.95"/>
<circle cx="468.7" cy="80.5" r="0.5" fill="#111" fill-opacity="0.95"/>
<circle cx="455.0" cy="71.6" r="0.5" fill="#111" fill-opacity="0.95"/>
<circle cx="447.2" cy="69.9" r="0.5" fill="#111" fill-opacity="0.95"/>
<circle cx="468.2" cy="92.9" r="0.5" fill="#111" fill-opacity="0.95"/>
<circle cx="444.7" cy="72.4" r="0.5" fill="#111" fill-opacity="0.95"/>
<circle cx="470.1" cy="86.1" r="0.5" fill="#111" fill-opacity="0.95"/>
<circle cx="468.4" cy="79.7" r="0.5" fill="#111" fill-opacity="0.95"/>
<circle cx="453.0" cy="70.5" r="0.5" fill="#111" fill-opacity="0.95"/>
<circle cx="447.8" cy="72.8" r="0.5" fill="#111" fill-opacity="0.95"/>
<circle cx="442.9" cy="73.4" r="0.5" fill="#111" fill-opacity="0.95"/>
<circle cx="468.5" cy="88.7" r="0.5" fill="#111" fill-opacity="0.95"/>
<circle cx="454.9" cy="72.0" r="0.5" fill="#111" fill-opacity="0.95"/>
<circle cx="456.3" cy="70.4" r="0.5" fill="#111" fill-opacity="0.95"/>
<circle cx="469.8" cy="74.4" r="0.5" fill="#111" fill-opacity="0.95"/>
<circle cx="456.6" cy="69.7" r="0.5" fill="#111" fill-opacity="0.95"/>
<circle cx="470.0" cy="89.0" r="0.5" fill="#111" fill-opacity="0.95"/>
<circle cx="468.3" cy="96.6" r="0.5" fill="#111" fill-opacity="0.95"/>
<circle cx="460.0" cy="71.0" r="0.5" fill="#111" fill-opacity="0.95"/>
<circle cx="468.7" cy="78.7" r="0.5" fill="#111" fill-opacity="0.95"/>
<circle cx="451.3" cy="72.5" r="0.5" fill="#111" fill-opacity="0.95"/>
<circle cx="463.7" cy="72.5" r="0.5" fill="#111" fill-opacity="0.95"/>
<circle cx="468.2" cy="83.2" r="0.5" fill="#111" fill-opacity="0.95"/>
<circle cx="445.6" cy="71.9" r="0.5" fill="#111" fill-opacity="0.95"/>
<circle cx="470.9" cy="88.4" r="0.5" fill="#111" fill-opacity="0.95"/>
<circle cx="468.0" cy="97.4" r="0.5" fill="#111" fill-opacity="0.95"/>
<circle cx="467.2" cy="93.6" r="0.5" fill="#111" fill-opacity="0.95"/>
<circle cx="457.7" cy="72.3" r="0.5" fill="#111" fill-opacity="0.95"/>
<circle cx="467.8" cy="84.3" r="0.5" fill="#111" fill-opacity="0.95"/>
<circle cx="444.7" cy="72.9" r="0.5" fill="#111" fill-opacity="0.95"/>
<circle cx="465.2" cy="71.7" r="0.5" fill="#111" fill-opacity="0.95"/>
<circle cx="467.0" cy="74.5" r="0.5" fill="#111" fill-opacity="0.95"/>
<circle cx="444.3" cy="72.4" r="0.5" fill="#111" fill-opacity="0.95"/>
<circle cx="469.4" cy="91.7" r="0.5" fill="#111" fill-opacity="0.95"/>
<circle cx="469.0" cy="89.2" r="0.5" fill="#111" fill-opacity="0.95"/>
<circle cx="441.0" cy="70.6" r="0.5" fill="#111" fill-opacity="0.95"/>
<circle cx="469.5" cy="76.5" r="0.5" fill="#111" fill-opacity="0.95"/>
<circle cx="467.3" cy="94.0" r="0.5" fill="#111" fill-opacity="0.95"/>
<circle cx="449.6" cy="98.3" r="0.5" fill="#111" fill-opacity="0.95"/>
<circle cx="454.8" cy="97.4" r="0.5" fill="#111" fill-opacity="0.95"/>
<circle cx="459.8" cy="96.9" r="0.5" fill="#111" fill-opacity="0.95"/>
<circle cx="446.3" cy="97.1" r="0.5" fill="#111" fill-opacity="0.95"/>
<circle cx="458.6" cy="98.5" r="0.5" fill="#111" fill-opacity="0.95"/>
<circle cx="463.7" cy="97.4" r="0.5" fill="#111" fill-opacity="0.95"/>
<circle cx="452.2" cy="97.6" r="0.5" fill="#111" fill-opacity="0.95"/>
<circle cx="454.5" cy="96.6" r="0.5" fill="#111" fill-opacity="0.95"/>
<circle cx="465.1" cy="96.4" r="0.5" fill="#111" fill-opacity="0.95"/>
<circle cx="449.8" cy="97.2" r="0.5" fill="#111" fill-opacity="0.95"/>
<circle cx="462.7" cy="96.4" r="0.5" fill="#111" fill-opacity="0.95"/>
<circle cx="456.6" cy="96.9" r="0.5" fill="#111" fill-opacity="0.95"/>
<circle cx="449.4" cy="97.6" r="0.5" fill="#111" fill-opacity="0.95"/>
<circle cx="442.5" cy="98.1" r="0.5" fill="#111" fill-opacity="0.95"/>
<circle cx="457.8" cy="98.5" r="0.5" fill="#111" fill-opacity="0.95"/>
<circle cx="454.0" cy="96.4" r="0.5" fill="#111" fill-opacity="0.95"/>
<circle cx="462.4" cy="98.9" r="0.5" fill="#111" fill-opacity="0.95"/>
<circle cx="463.2" cy="98.2" r="0.5" fill="#111" fill-opacity="0.95"/>
<circle cx="453.6" cy="96.9" r="0.5" fill="#111" fill-opacity="0.95"/>
<circle cx="454.3" cy="97.0" r="0.5" fill="#111" fill-opacity="0.95"/>
<circle cx="461.9" cy="96.3" r="0.5" fill="#111" fill-opacity="0.95"/>
<circle cx="456.8" cy="96.9" r="0.5" fill="#111" fill-opacity="0.95"/>
<circle cx="461.0" cy="96.6" r="0.5" fill="#111" fill-opacity="0.95"/>
<circle cx="462.9" cy="97.2" r="0.5" fill="#111" fill-opacity="0.95"/>
<circle cx="460.1" cy="97.9" r="0.5" fill="#111" fill-opacity="0.95"/>
<circle cx="443.7" cy="97.1" r="0.5" fill="#111" fill-opacity="0.95"/>
<circle cx="465.7" cy="97.9" r="0.5" fill="#111" fill-opacity="0.95"/>
<circle cx="446.2" cy="97.2" r="0.5" fill="#111" fill-opacity="0.95"/>
<circle cx="451.7" cy="97.1" r="0.5" fill="#111" fill-opacity="0.95"/>
<circle cx="447.2" cy="97.0" r="0.5" fill="#111" fill-opacity="0.95"/>
<circle cx="462.2" cy="96.7" r="0.5" fill="#111" fill-opacity="0.95"/>
<circle cx="456.2" cy="97.4" r="0.5" fill="#111" fill-opacity="0.95"/>
<circle cx="453.0" cy="96.9" r="0.5" fill="#111" fill-opacity="0.95"/>
<circle cx="464.1" cy="99.3" r="0.5" fill="#111" fill-opacity="0.95"/>
<circle cx="451.5" cy="97.3" r="0.5" fill="#111" fill-opacity="0.95"/>
<circle cx="446.5" cy="99.1" r="0.5" fill="#111" fill-opacity="0.95"/>
<circle cx="448.3" cy="98.2" r="0.5" fill="#111" fill-opacity="0.95"/>
<circle cx="451.0" cy="97.5" r="0.5" fill="#111" fill-opacity="0.95"/>
<circle cx="441.5" cy="99.2" r="0.5" fill="#111" fill-opacity="0.95"/>
<circle cx="448.7" cy="97.7" r="0.5" fill="#111" fill-opacity="0.95"/>
<circle cx="445.6" cy="97.0" r="0.5" fill="#111" fill-opacity="0.95"/>
<circle cx="454.5" cy="99.1" r="0.5" fill="#111" fill-opacity="0.95"/>
<circle cx="443.1" cy="100.5" r="0.5" fill="#111" fill-opacity="0.95"/>
<circle cx="455.7" cy="97.3" r="0.5" fill="#111" fill-opacity="0.95"/>
<circle cx="455.8" cy="97.9" r="0.5" fill="#111" fill-opacity="0.95"/>
<circle cx="447.7" cy="97.8" r="0.5" fill="#111" fill-opacity="0.95"/>
<circle cx="449.1" cy="97.9" r="0.5" fill="#111" fill-opacity="0.95"/>
<circle cx="462.6" cy="97.7" r="0.5" fill="#111" fill-opacity="0.95"/>
<circle cx="461.1" cy="97.0" r="0.5" fill="#111" fill-opacity="0.95"/>
<circle cx="441.6" cy="98.6" r="0.5" fill="#111" fill-opacity="0.95"/>
<circle cx="441.1" cy="97.9" r="0.5" fill="#111" fill-opacity="0.95"/>
<circle cx="453.6" cy="96.7" r="0.5" fill="#111" fill-opacity="0.95"/>
<circle cx="446.6" cy="99.1" r="0.5" fill="#111" fill-opacity="0.95"/>
<circle cx="450.1" cy="96.8" r="0.5" fill="#111" fill-opacity="0.95"/>
<circle cx="461.0" cy="96.3" r="0.5" fill="#111" fill-opacity="0.95"/>
<circle cx="446.3" cy="96.8" r="0.5" fill="#111" fill-opacity="0.95"/>
<circle cx="463.7" cy="96.6" r="0.5" fill="#111" fill-opacity="0.95"/>
<circle cx="461.9" cy="96.4" r="0.5" fill="#111" fill-opacity="0.95"/>
<circle cx="441.8" cy="97.2" r="0.5" fill="#111" fill-opacity="0.95"/>
<circle cx="462.6" cy="96.1" r="0.5" fill="#111" fill-opacity="0.95"/>
<circle cx="466.9" cy="97.5" r="0.5" fill="#111" fill-opacity="0.9"/>
<circle cx="463.1" cy="95.5" r="0.5" fill="#111" fill-opacity="0.9"/>
<circle cx="448.8" cy="98.7" r="0.5" fill="#111" fill-opacity="0.9"/>
<circle cx="462.4" cy="95.5" r="0.5" fill="#111" fill-opacity="0.9"/>
<circle cx="460.6" cy="98.5" r="0.5" fill="#111" fill-opacity="0.9"/>
<circle cx="465.6" cy="99.5" r="0.5" fill="#111" fill-opacity="0.9"/>
<circle cx="459.7" cy="100.0" r="0.5" fill="#111" fill-opacity="0.9"/>
<circle cx="469.8" cy="99.4" r="0.5" fill="#111" fill-opacity="0.9"/>
<circle cx="455.8" cy="106.6" r="0.5" fill="#111" fill-opacity="0.9"/>
<circle cx="456.6" cy="102.6" r="0.5" fill="#111" fill-opacity="0.9"/>
<circle cx="450.3" cy="101.1" r="0.5" fill="#111" fill-opacity="0.9"/>
<circle cx="438.5" cy="100.8" r="0.5" fill="#111" fill-opacity="0.9"/>
<circle cx="451.0" cy="95.9" r="0.5" fill="#111" fill-opacity="0.9"/>
<circle cx="445.1" cy="104.0" r="0.5" fill="#111" fill-opacity="0.9"/>
<circle cx="459.3" cy="95.8" r="0.5" fill="#111" fill-opacity="0.9"/>
<circle cx="470.0" cy="98.4" r="0.5" fill="#111" fill-opacity="0.9"/>
<circle cx="453.2" cy="101.3" r="0.5" fill="#111" fill-opacity="0.9"/>
<circle cx="447.2" cy="95.5" r="0.5" fill="#111" fill-opacity="0.9"/>
<circle cx="450.3" cy="104.1" r="0.5" fill="#111" fill-opacity="0.9"/>
<circle cx="463.3" cy="95.6" r="0.5" fill="#111" fill-opacity="0.9"/>
<circle cx="465.3" cy="100.6" r="0.5" fill="#111" fill-opacity="0.9"/>
<circle cx="459.9" cy="100.7" r="0.5" fill="#111" fill-opacity="0.9"/>
<circle cx="459.2" cy="97.4" r="0.5" fill="#111" fill-opacity="0.9"/>
<circle cx="449.0" cy="98.3" r="0.5" fill="#111" fill-opacity="0.9"/>
<circle cx="453.2" cy="102.4" r="0.5" fill="#111" fill-opacity="0.9"/>
<circle cx="446.6" cy="105.4" r="0.5" fill="#111" fill-opacity="0.9"/>
<circle cx="451.1" cy="98.7" r="0.5" fill="#111" fill-opacity="0.9"/>
<circle cx="461.4" cy="101.8" r="0.5" fill="#111" fill-opacity="0.9"/>
<circle cx="453.4" cy="97.2" r="0.5" fill="#111" fill-opacity="0.9"/>
<circle cx="448.3" cy="95.6" r="0.5" fill="#111" fill-opacity="0.9"/>
<circle cx="464.8" cy="103.8" r="0.5" fill="#111" fill-opacity="0.9"/>
<circle cx="470.4" cy="102.0" r="0.5" fill="#111" fill-opacity="0.9"/>
<circle cx="458.6" cy="102.8" r="0.5" fill="#111" fill-opacity="0.9"/>
<circle cx="463.3" cy="99.7" r="0.5" fill="#111" fill-opacity="0.9"/>
<circle cx="458.7" cy="107.1" r="0.5" fill="#111" fill-opacity="0.9"/>
<circle cx="443.0" cy="96.2" r="0.5" fill="#111" fill-opacity="0.9"/>
<circle cx="448.6" cy="102.8" r="0.5" fill="#111" fill-opacity="0.9"/>
<circle cx="465.1" cy="99.5" r="0.5" fill="#111" fill-opacity="0.9"/>
<circle cx="461.2" cy="100.4" r="0.5" fill="#111" fill-opacity="0.9"/>
<circle cx="458.3" cy="98.8" r="0.5" fill="#111" fill-opacity="0.9"/>
<circle cx="455.8" cy="100.5" r="0.5" fill="#111" fill-opacity="0.9"/>
<circle cx="464.7" cy="107.4" r="0.5" fill="#111" fill-opacity="0.9"/>
<circle cx="442.0" cy="102.1" r="0.5" fill="#111" fill-opacity="0.9"/>
<circle cx="456.0" cy="103.5" r="0.5" fill="#111" fill-opacity="0.9"/>
<circle cx="464.2" cy="102.9" r="0.5" fill="#111" fill-opacity="0.9"/>
<circle cx="462.2" cy="97.6" r="0.5" fill="#111" fill-opacity="0.9"/>
<circle cx="442.9" cy="105.6" r="0.5" fill="#111" fill-opacity="0.9"/>
<circle cx="465.3" cy="97.6" r="0.5" fill="#111" fill-opacity="0.9"/>
<circle cx="465.9" cy="102.6" r="0.5" fill="#111" fill-opacity="0.9"/>
<circle cx="448.4" cy="104.1" r="0.5" fill="#111" fill-opacity="0.9"/>
<circle cx="450.8" cy="98.2" r="0.5" fill="#111" fill-opacity="0.9"/>
<circle cx="444.1" cy="99.8" r="0.5" fill="#111" fill-opacity="0.9"/>
<circle cx="463.8" cy="98.4" r="0.5" fill="#111" fill-opacity="0.9"/>
<circle cx="441.7" cy="107.1" r="0.5" fill="#111" fill-opacity="0.9"/>
<circle cx="470.2" cy="102.6" r="0.5" fill="#111" fill-opacity="0.9"/>
<circle cx="451.9" cy="96.8" r="0.5" fill="#111" fill-opacity="0.9"/>
<circle cx="443.4" cy="102.2" r="0.5" fill="#111" fill-opacity="0.9"/>
<circle cx="466.0" cy="97.2" r="0.5" fill="#111" fill-opacity="0.9"/>
<circle cx="456.0" cy="99.6" r="0.5" fill="#111" fill-opacity="0.9"/>
<circle cx="454.0" cy="102.0" r="0.5" fill="#111" fill-opacity="0.9"/>
<circle cx="472.1" cy="98.5" r="0.5" fill="#111" fill-opacity="0.9"/>
<circle cx="462.6" cy="103.9" r="0.5" fill="#111" fill-opacity="0.9"/>
<circle cx="453.8" cy="100.0" r="0.5" fill="#111" fill-opacity="0.9"/>
<circle cx="445.7" cy="103.8" r="0.5" fill="#111" fill-opacity="0.9"/>
<circle cx="451.9" cy="98.5" r="0.5" fill="#111" fill-opacity="0.9"/>
<circle cx="456.5" cy="97.9" r="0.5" fill="#111" fill-opacity="0.9"/>
<circle cx="448.0" cy="99.6" r="0.5" fill="#111" fill-opacity="0.9"/>
<circle cx="467.5" cy="99.9" r="0.5" fill="#111" fill-opacity="0.9"/>
<circle cx="460.1" cy="96.0" r="0.5" fill="#111" fill-opacity="0.9"/>
<circle cx="441.0" cy="106.1" r="0.5" fill="#111" fill-opacity="0.9"/>
<circle cx="452.9" cy="95.8" r="0.5" fill="#111" fill-opacity="0.9"/>
<circle cx="455.2" cy="102.4" r="0.5" fill="#111" fill-opacity="0.9"/>
<circle cx="442.7" cy="97.8" r="0.5" fill="#111" fill-opacity="0.9"/>
<circle cx="458.0" cy="97.7" r="0.5" fill="#111" fill-opacity="0.9"/>
<circle cx="462.1" cy="103.5" r="0.5" fill="#111" fill-opacity="0.9"/>
<circle cx="459.4" cy="99.2" r="0.5" fill="#111" fill-opacity="0.9"/>
<circle cx="455.6" cy="98.5" r="0.5" fill="#111" fill-opacity="0.9"/>
<circle cx="455.0" cy="101.5" r="0.5" fill="#111" fill-opacity="0.9"/>
<circle cx="453.7" cy="103.5" r="0.5" fill="#111" fill-opacity="0.9"/>
<circle cx="458.6" cy="103.0" r="0.5" fill="#111" fill-opacity="0.9"/>
<circle cx="461.0" cy="99.8" r="0.5" fill="#111" fill-opacity="0.9"/>
<circle cx="452.3" cy="103.6" r="0.5" fill="#111" fill-opacity="0.9"/>
<circle cx="460.8" cy="102.1" r="0.5" fill="#111" fill-opacity="0.9"/>
<circle cx="449.8" cy="102.5" r="0.5" fill="#111" fill-opacity="0.9"/>
<circle cx="462.1" cy="99.9" r="0.5" fill="#111" fill-opacity="0.9"/>
<circle cx="461.0" cy="107.2" r="0.5" fill="#111" fill-opacity="0.9"/>
<circle cx="441.5" cy="102.4" r="0.5" fill="#111" fill-opacity="0.9"/>
<circle cx="447.0" cy="96.3" r="0.5" fill="#111" fill-opacity="0.9"/>
<circle cx="454.2" cy="102.2" r="0.5" fill="#111" fill-opacity="0.9"/>
<circle cx="456.4" cy="96.9" r="0.5" fill="#111" fill-opacity="0.9"/>
<circle cx="444.9" cy="98.8" r="0.5" fill="#111" fill-opacity="0.9"/>
<circle cx="456.1" cy="97.9" r="0.5" fill="#111" fill-opacity="0.9"/>
<circle cx="444.4" cy="105.9" r="0.5" fill="#111" fill-opacity="0.9"/>
<circle cx="449.5" cy="100.0" r="0.5" fill="#111" fill-opacity="0.9"/>
<circle cx="451.8" cy="98.7" r="0.5" fill="#111" fill-opacity="0.9"/>
<circle cx="456.3" cy="99.6" r="0.5" fill="#111" fill-opacity="0.9"/>
<circle cx="460.8" cy="96.8" r="0.5" fill="#111" fill-opacity="0.9"/>
<circle cx="444.5" cy="106.5" r="0.5" fill="#111" fill-opacity="0.9"/>
<circle cx="455.4" cy="102.9" r="0.5" fill="#111" fill-opacity="0.9"/>
<circle cx="465.1" cy="102.2" r="0.5" fill="#111" fill-opacity="0.9"/>
<circle cx="456.3" cy="95.7" r="0.5" fill="#111" fill-opacity="0.9"/>
<circle cx="443.6" cy="103.5" r="0.5" fill="#111" fill-opacity="0.9"/>
<circle cx="461.2" cy="102.3" r="0.5" fill="#111" fill-opacity="0.9"/>
<circle cx="447.8" cy="96.8" r="0.5" fill="#111" fill-opacity="0.9"/>
<circle cx="457.2" cy="97.3" r="0.5" fill="#111" fill-opacity="0.9"/>
<circle cx="468.3" cy="98.6" r="0.5" fill="#111" fill-opacity="0.9"/>
<circle cx="451.6" cy="103.2" r="0.5" fill="#111" fill-opacity="0.9"/>
<circle cx="458.5" cy="97.7" r="0.5" fill="#111" fill-opacity="0.9"/>
<circle cx="462.4" cy="106.5" r="0.5" fill="#111" fill-opacity="0.9"/>
<circle cx="446.5" cy="99.7" r="0.5" fill="#111" fill-opacity="0.9"/>
<circle cx="460.9" cy="102.7" r="0.5" fill="#111" fill-opacity="0.9"/>
<circle cx="463.6" cy="101.8" r="0.5" fill="#111" fill-opacity="0.9"/>
<circle cx="440.4" cy="100.4" r="0.5" fill="#111" fill-opacity="0.9"/>
<circle cx="450.8" cy="96.8" r="0.5" fill="#111" fill-opacity="0.9"/>
<circle cx="447.4" cy="102.9" r="0.5" fill="#111" fill-opacity="0.9"/>
<circle cx="453.7" cy="106.6" r="0.5" fill="#111" fill-opacity="0.9"/>
<circle cx="462.9" cy="104.4" r="0.5" fill="#111" fill-opacity="0.9"/>
<circle cx="456.2" cy="96.7" r="0.5" fill="#111" fill-opacity="0.9"/>
<circle cx="469.7" cy="96.4" r="0.5" fill="#111" fill-opacity="0.9"/>
<circle cx="446.2" cy="95.2" r="0.5" fill="#111" fill-opacity="0.9"/>
<circle cx="464.5" cy="104.2" r="0.5" fill="#111" fill-opacity="0.9"/>
<circle cx="452.8" cy="96.3" r="0.5" fill="#111" fill-opacity="0.9"/>
<circle cx="455.5" cy="101.7" r="0.5" fill="#111" fill-opacity="0.9"/>
<circle cx="444.1" cy="96.9" r="0.5" fill="#111" fill-opacity="0.9"/>
<circle cx="455.2" cy="102.7" r="0.5" fill="#111" fill-opacity="0.9"/>
<circle cx="456.6" cy="101.9" r="0.5" fill="#111" fill-opacity="0.9"/>
<circle cx="458.4" cy="97.6" r="0.5" fill="#111" fill-opacity="0.9"/>
<circle cx="455.0" cy="99.3" r="0.5" fill="#111" fill-opacity="0.9"/>
<circle cx="459.7" cy="98.1" r="0.5" fill="#111" fill-opacity="0.9"/>
<circle cx="467.3" cy="100.6" r="0.5" fill="#111" fill-opacity="0.9"/>
<circle cx="460.1" cy="102.5" r="0.5" fill="#111" fill-opacity="0.9"/>
<circle cx="464.1" cy="101.8" r="0.5" fill="#111" fill-opacity="0.9"/>
<circle cx="442.3" cy="98.5" r="0.5" fill="#111" fill-opacity="0.9"/>
<circle cx="470.5" cy="102.0" r="0.5" fill="#111" fill-opacity="0.9"/>
<circle cx="460.4" cy="102.0" r="0.5" fill="#111" fill-opacity="0.9"/>
<circle cx="451.0" cy="98.4" r="0.5" fill="#111" fill-opacity="0.9"/>
<circle cx="450.9" cy="104.1" r="0.5" fill="#111" fill-opacity="0.9"/>
<circle cx="458.8" cy="106.1" r="0.5" fill="#111" fill-opacity="0.9"/>
<circle cx="459.9" cy="106.4" r="0.5" fill="#111" fill-opacity="0.9"/>
<circle cx="459.6" cy="96.8" r="0.5" fill="#111" fill-opacity="0.9"/>
<circle cx="469.6" cy="101.6" r="0.5" fill="#111" fill-opacity="0.9"/>
<circle cx="465.3" cy="101.2" r="0.5" fill="#111" fill-opacity="0.9"/>
<circle cx="440.0" cy="87.8" r="0.5" fill="#5a3010" fill-opacity="0.8"/>
<circle cx="419.8" cy="90.8" r="0.5" fill="#5a3010" fill-opacity="0.8"/>
<circle cx="429.6" cy="95.7" r="0.5" fill="#5a3010" fill-opacity="0.8"/>
<circle cx="429.3" cy="96.8" r="0.5" fill="#5a3010" fill-opacity="0.8"/>
<circle cx="440.1" cy="70.0" r="0.5" fill="#5a3010" fill-opacity="0.8"/>
<circle cx="420.1" cy="83.9" r="0.5" fill="#5a3010" fill-opacity="0.8"/>
<circle cx="420.9" cy="71.2" r="0.5" fill="#5a3010" fill-opacity="0.8"/>
<circle cx="426.3" cy="63.3" r="0.5" fill="#5a3010" fill-opacity="0.8"/>
<circle cx="437.5" cy="92.2" r="0.5" fill="#5a3010" fill-opacity="0.8"/>
<circle cx="421.9" cy="94.0" r="0.5" fill="#5a3010" fill-opacity="0.8"/>
<circle cx="421.4" cy="91.5" r="0.5" fill="#5a3010" fill-opacity="0.8"/>
<circle cx="436.5" cy="68.6" r="0.5" fill="#5a3010" fill-opacity="0.8"/>
<circle cx="439.0" cy="85.7" r="0.5" fill="#5a3010" fill-opacity="0.8"/>
<circle cx="419.5" cy="89.8" r="0.5" fill="#5a3010" fill-opacity="0.8"/>
<circle cx="434.4" cy="93.5" r="0.5" fill="#5a3010" fill-opacity="0.8"/>
<circle cx="421.2" cy="92.2" r="0.5" fill="#5a3010" fill-opacity="0.8"/>
<circle cx="436.5" cy="69.3" r="0.5" fill="#5a3010" fill-opacity="0.8"/>
<circle cx="420.4" cy="93.2" r="0.5" fill="#5a3010" fill-opacity="0.8"/>
<circle cx="420.7" cy="70.1" r="0.5" fill="#5a3010" fill-opacity="0.8"/>
<circle cx="420.2" cy="74.4" r="0.5" fill="#5a3010" fill-opacity="0.8"/>
<circle cx="420.5" cy="90.8" r="0.5" fill="#5a3010" fill-opacity="0.8"/>
<circle cx="436.8" cy="69.9" r="0.5" fill="#5a3010" fill-opacity="0.8"/>
<circle cx="422.2" cy="66.5" r="0.5" fill="#5a3010" fill-opacity="0.8"/>
<circle cx="425.8" cy="95.6" r="0.5" fill="#5a3010" fill-opacity="0.8"/>
<circle cx="439.2" cy="74.1" r="0.5" fill="#5a3010" fill-opacity="0.8"/>
<circle cx="425.7" cy="96.6" r="0.5" fill="#5a3010" fill-opacity="0.8"/>
<circle cx="421.3" cy="68.7" r="0.5" fill="#5a3010" fill-opacity="0.8"/>
<circle cx="435.9" cy="67.5" r="0.5" fill="#5a3010" fill-opacity="0.8"/>
<circle cx="441.5" cy="81.7" r="0.5" fill="#5a3010" fill-opacity="0.8"/>
<circle cx="437.4" cy="89.8" r="0.5" fill="#5a3010" fill-opacity="0.8"/>
<circle cx="429.8" cy="65.6" r="0.5" fill="#5a3010" fill-opacity="0.8"/>
<circle cx="419.2" cy="86.3" r="0.5" fill="#5a3010" fill-opacity="0.8"/>
<circle cx="439.1" cy="93.1" r="0.5" fill="#5a3010" fill-opacity="0.8"/>
<circle cx="419.4" cy="84.8" r="0.5" fill="#5a3010" fill-opacity="0.8"/>
<circle cx="437.2" cy="91.6" r="0.5" fill="#5a3010" fill-opacity="0.8"/>
<circle cx="430.2" cy="66.4" r="0.5" fill="#5a3010" fill-opacity="0.8"/>
<circle cx="431.5" cy="95.8" r="0.5" fill="#5a3010" fill-opacity="0.8"/>
<circle cx="438.8" cy="73.2" r="0.5" fill="#5a3010" fill-opacity="0.8"/>
<circle cx="422.7" cy="66.0" r="0.5" fill="#5a3010" fill-opacity="0.8"/>
<circle cx="420.2" cy="72.4" r="0.5" fill="#5a3010" fill-opacity="0.8"/>
<circle cx="421.4" cy="69.7" r="0.5" fill="#5a3010" fill-opacity="0.8"/>
<circle cx="440.2" cy="84.4" r="0.5" fill="#5a3010" fill-opacity="0.8"/>
<circle cx="418.7" cy="83.5" r="0.5" fill="#5a3010" fill-opacity="0.8"/>
<circle cx="422.6" cy="67.8" r="0.5" fill="#5a3010" fill-opacity="0.8"/>
<circle cx="437.0" cy="70.6" r="0.5" fill="#5a3010" fill-opacity="0.8"/>
<circle cx="422.3" cy="67.9" r="0.5" fill="#5a3010" fill-opacity="0.8"/>
<circle cx="418.7" cy="81.9" r="0.5" fill="#5a3010" fill-opacity="0.8"/>
<circle cx="425.1" cy="67.3" r="0.5" fill="#5a3010" fill-opacity="0.8"/>
<circle cx="419.3" cy="76.9" r="0.5" fill="#5a3010" fill-opacity="0.8"/>
<circle cx="439.6" cy="79.1" r="0.5" fill="#5a3010" fill-opacity="0.8"/>
<circle cx="426.3" cy="97.0" r="0.5" fill="#5a3010" fill-opacity="0.8"/>
<circle cx="425.1" cy="95.7" r="0.5" fill="#5a3010" fill-opacity="0.8"/>
<circle cx="437.0" cy="69.8" r="0.5" fill="#5a3010" fill-opacity="0.8"/>
<circle cx="442.0" cy="84.8" r="0.5" fill="#5a3010" fill-opacity="0.8"/>
<circle cx="429.8" cy="66.3" r="0.5" fill="#5a3010" fill-opacity="0.8"/>
<circle cx="436.6" cy="69.5" r="0.5" fill="#5a3010" fill-opacity="0.8"/>
<circle cx="437.4" cy="89.9" r="0.5" fill="#5a3010" fill-opacity="0.8"/>
<circle cx="421.4" cy="91.6" r="0.5" fill="#5a3010" fill-opacity="0.8"/>
<circle cx="439.9" cy="89.1" r="0.5" fill="#5a3010" fill-opacity="0.8"/>
<circle cx="425.6" cy="65.9" r="0.5" fill="#5a3010" fill-opacity="0.8"/>
<circle cx="434.3" cy="101.8" r="0.5" fill="#334" fill-opacity="0.8"/>
<circle cx="426.5" cy="110.0" r="0.5" fill="#334" fill-opacity="0.8"/>
<circle cx="431.4" cy="97.3" r="0.5" fill="#334" fill-opacity="0.8"/>
<circle cx="434.3" cy="101.9" r="0.5" fill="#334" fill-opacity="0.8"/>
<circle cx="426.5" cy="95.9" r="0.5" fill="#334" fill-opacity="0.8"/>
<circle cx="422.6" cy="97.4" r="0.5" fill="#334" fill-opacity="0.8"/>
<circle cx="431.4" cy="96.3" r="0.5" fill="#334" fill-opacity="0.8"/>
<circle cx="436.7" cy="98.7" r="0.5" fill="#334" fill-opacity="0.8"/>
<circle cx="424.4" cy="106.9" r="0.5" fill="#334" fill-opacity="0.8"/>
<circle cx="426.6" cy="108.1" r="0.5" fill="#334" fill-opacity="0.8"/>
<circle cx="421.1" cy="95.0" r="0.5" fill="#334" fill-opacity="0.8"/>
<circle cx="423.3" cy="106.9" r="0.5" fill="#334" fill-opacity="0.8"/>
<circle cx="421.3" cy="96.6" r="0.5" fill="#334" fill-opacity="0.8"/>
<circle cx="420.9" cy="100.6" r="0.5" fill="#334" fill-opacity="0.8"/>
<circle cx="430.4" cy="97.3" r="0.5" fill="#334" fill-opacity="0.8"/>
<circle cx="429.0" cy="108.2" r="0.5" fill="#334" fill-opacity="0.8"/>
<circle cx="421.4" cy="101.0" r="0.5" fill="#334" fill-opacity="0.8"/>
<circle cx="420.3" cy="96.8" r="0.5" fill="#334" fill-opacity="0.8"/>
<circle cx="424.2" cy="109.0" r="0.5" fill="#334" fill-opacity="0.8"/>
<circle cx="426.0" cy="110.6" r="0.5" fill="#334" fill-opacity="0.8"/>
<circle cx="428.8" cy="96.8" r="0.5" fill="#334" fill-opacity="0.8"/>
<circle cx="433.3" cy="103.6" r="0.5" fill="#334" fill-opacity="0.8"/>
<circle cx="424.7" cy="96.5" r="0.5" fill="#334" fill-opacity="0.8"/>
<circle cx="422.0" cy="100.9" r="0.5" fill="#334" fill-opacity="0.8"/>
<circle cx="419.5" cy="96.7" r="0.5" fill="#334" fill-opacity="0.8"/>
<circle cx="424.2" cy="105.0" r="0.5" fill="#334" fill-opacity="0.8"/>
<circle cx="433.5" cy="103.2" r="0.5" fill="#334" fill-opacity="0.8"/>
<circle cx="424.8" cy="105.9" r="0.5" fill="#334" fill-opacity="0.8"/>
<circle cx="423.2" cy="95.9" r="0.5" fill="#334" fill-opacity="0.8"/>
<circle cx="434.0" cy="96.8" r="0.5" fill="#334" fill-opacity="0.8"/>
<path d="M421.50,68.00 C423.03,66.63 426.17,65.88 428.50,65.80 C430.83,65.72 433.70,66.13 435.50,67.50 C437.30,68.87 438.58,71.42 439.30,74.00 C440.02,76.58 440.10,80.17 439.80,83.00 C439.50,85.83 438.80,88.83 437.50,91.00 C436.20,93.17 434.08,95.17 432.00,96.00 C429.92,96.83 426.92,96.83 425.00,96.00 C423.08,95.17 421.50,93.17 420.50,91.00 C419.50,88.83 419.20,85.83 419.00,83.00 C418.80,80.17 418.88,76.50 419.30,74.00 C419.72,71.50 419.97,69.37 421.50,68.00 Z" fill="#e8b088" stroke="#8a4a20" stroke-width="0.7" stroke-opacity="1.0"/>
<path d="M422.77,70.04 C424.05,68.91 426.65,68.28 428.58,68.21 C430.52,68.14 432.90,68.49 434.39,69.62 C435.89,70.76 436.95,72.88 437.55,75.02 C438.14,77.16 438.21,80.14 437.96,82.49 C437.71,84.84 437.13,87.33 436.06,89.13 C434.98,90.93 433.22,92.59 431.49,93.28 C429.76,93.97 427.27,93.97 425.68,93.28 C424.09,92.59 422.77,90.93 421.94,89.13 C421.12,87.33 420.87,84.84 420.70,82.49 C420.53,80.14 420.60,77.09 420.95,75.02 C421.29,72.94 421.50,71.17 422.77,70.04 Z" fill="none" stroke="#8a4a20" stroke-width="0.7" stroke-opacity="1.0"/>
<path d="M424.05,72.08 C425.06,71.18 427.13,70.68 428.67,70.63 C430.21,70.57 432.10,70.85 433.29,71.75 C434.48,72.65 435.32,74.34 435.80,76.04 C436.27,77.75 436.33,80.11 436.13,81.98 C435.93,83.85 435.47,85.83 434.61,87.26 C433.75,88.69 432.36,90.01 430.98,90.56 C429.61,91.11 427.62,91.11 426.36,90.56 C425.10,90.01 424.05,88.69 423.39,87.26 C422.73,85.83 422.53,83.85 422.40,81.98 C422.27,80.11 422.32,77.69 422.60,76.04 C422.87,74.39 423.04,72.98 424.05,72.08 Z" fill="none" stroke="#8a4a20" stroke-width="0.7" stroke-opacity="1.0"/>
<path d="M425.32,74.12 C426.08,73.45 427.61,73.08 428.75,73.04 C429.90,73.00 431.30,73.21 432.19,73.88 C433.07,74.54 433.70,75.79 434.05,77.06 C434.40,78.33 434.44,80.08 434.29,81.47 C434.15,82.86 433.80,84.33 433.17,85.39 C432.53,86.45 431.49,87.43 430.47,87.84 C429.45,88.25 427.98,88.25 427.04,87.84 C426.10,87.43 425.32,86.45 424.83,85.39 C424.34,84.33 424.20,82.86 424.10,81.47 C424.00,80.08 424.04,78.28 424.25,77.06 C424.45,75.84 424.57,74.79 425.32,74.12 Z" fill="none" stroke="#8a4a20" stroke-width="0.7" stroke-opacity="1.0"/>
<path d="M426.60,76.16 C427.09,75.72 428.09,75.48 428.84,75.46 C429.59,75.43 430.50,75.56 431.08,76.00 C431.66,76.44 432.07,77.25 432.30,78.08 C432.53,78.91 432.55,80.05 432.46,80.96 C432.36,81.87 432.14,82.83 431.72,83.52 C431.30,84.21 430.63,84.85 429.96,85.12 C429.29,85.39 428.33,85.39 427.72,85.12 C427.11,84.85 426.60,84.21 426.28,83.52 C425.96,82.83 425.86,81.87 425.80,80.96 C425.74,80.05 425.76,78.88 425.90,78.08 C426.03,77.28 426.11,76.60 426.60,76.16 Z" fill="none" stroke="#8a4a20" stroke-width="0.7" stroke-opacity="1.0"/>
<path d="M427.88,78.20 C428.11,78.00 428.57,77.88 428.93,77.87 C429.28,77.86 429.71,77.92 429.98,78.12 C430.25,78.33 430.44,78.71 430.55,79.10 C430.65,79.49 430.67,80.03 430.62,80.45 C430.57,80.88 430.47,81.33 430.27,81.65 C430.08,81.98 429.76,82.28 429.45,82.40 C429.14,82.53 428.69,82.53 428.40,82.40 C428.11,82.28 427.88,81.98 427.73,81.65 C427.58,81.33 427.53,80.88 427.50,80.45 C427.47,80.03 427.48,79.47 427.55,79.10 C427.61,78.72 427.64,78.41 427.88,78.20 Z" fill="none" stroke="#8a4a20" stroke-width="0.7" stroke-opacity="1.0"/>
<path d="M419.50,97.50 C419.67,96.33 422.08,97.08 424.00,97.00 C425.92,96.92 428.75,96.92 431.00,97.00 C433.25,97.08 437.00,96.50 437.50,97.50 C438.00,98.50 435.58,100.83 434.00,103.00 C432.42,105.17 429.83,110.33 428.00,110.50 C426.17,110.67 424.42,106.17 423.00,104.00 C421.58,101.83 419.33,98.67 419.50,97.50 Z" fill="none" stroke="#2f3e55" stroke-width="0.75" stroke-opacity="1.0"/>
<path d="M422.30,98.55 C422.41,97.79 423.98,98.28 425.23,98.22 C426.47,98.17 428.31,98.17 429.77,98.22 C431.24,98.28 433.68,97.90 434.00,98.55 C434.32,99.20 432.75,100.72 431.73,102.12 C430.70,103.53 429.02,106.89 427.82,107.00 C426.63,107.11 425.50,104.18 424.57,102.78 C423.65,101.37 422.19,99.31 422.30,98.55 Z" fill="none" stroke="#2f3e55" stroke-width="0.75" stroke-opacity="1.0"/>
<path d="M425.10,99.60 C425.15,99.25 425.88,99.47 426.45,99.45 C427.02,99.43 427.88,99.43 428.55,99.45 C429.23,99.47 430.35,99.30 430.50,99.60 C430.65,99.90 429.93,100.60 429.45,101.25 C428.97,101.90 428.20,103.45 427.65,103.50 C427.10,103.55 426.57,102.20 426.15,101.55 C425.72,100.90 425.05,99.95 425.10,99.60 Z" fill="none" stroke="#2f3e55" stroke-width="0.75" stroke-opacity="1.0"/>
<path d="M437,77 C440,76.4 443,76.4 446,77" fill="none" stroke="#888" stroke-width="0.55"/>
<path d="M437,80.5 C440,79.9 443,79.9 446,80.5" fill="none" stroke="#888" stroke-width="0.55"/>
<path d="M437,84 C440,83.4 443,83.4 446,84" fill="none" stroke="#888" stroke-width="0.55"/>
<path d="M437,88 C440,87.4 443,87.4 446,88" fill="none" stroke="#888" stroke-width="0.55"/>
<path d="M437,91.5 C440,90.9 443,90.9 446,91.5" fill="none" stroke="#888" stroke-width="0.55"/>
<path d="M440.0,75.0 C448.0,74.0 460.0,74.0 466.0,76.5 C467.5,85.0 467.0,93.0 463.0,95.0 C456.0,95.5 446.0,95.0 440.0,94.0" fill="none" stroke="#6a4a9a" stroke-width="0.7"/>
<path d="M441.5,77.6 C449.5,76.6 456.8,76.6 462.8,79.1 C464.3,85.1 463.8,90.6 459.8,92.6 C452.8,93.1 447.5,92.6 441.5,91.6" fill="none" stroke="#6a4a9a" stroke-width="0.7"/>
<path d="M443.0,80.2 C451.0,79.2 453.6,79.2 459.6,81.7 C461.1,85.2 460.6,88.2 456.6,90.2 C449.6,90.7 449.0,90.2 443.0,89.2" fill="none" stroke="#6a4a9a" stroke-width="0.7"/>
<path d="M444.5,82.8 C452.5,81.8 450.4,81.8 456.4,84.3 C457.9,85.3 457.4,85.8 453.4,87.8 C446.4,88.3 450.5,87.8 444.5,86.8" fill="none" stroke="#6a4a9a" stroke-width="0.7"/>
<rect x="150.50" y="121.60" width="5.50" height="1.90" fill="#111" stroke="none" stroke-width="1" />
<rect x="285.50" y="121.80" width="3.80" height="1.90" fill="#111" stroke="none" stroke-width="1" />
<rect x="414.50" y="121.60" width="7.50" height="1.90" fill="#111" stroke="none" stroke-width="1" />
<rect x="36.80" y="121.20" width="2.60" height="1.60" fill="#222" stroke="none" stroke-width="1" />
<line x1="144.20" y1="136.50" x2="507.40" y2="136.50" stroke="#000" stroke-width="1.5" />
<text x="326.50" y="147.20" font-size="9.1" text-anchor="middle" fill="#222" color="#222" font-weight="normal" >Alexa 488 CD45RA</text>
<text x="29.30" y="166.20" font-size="11.6" text-anchor="start" fill="#000" color="#000" font-weight="bold" >E</text>
<line x1="50.00" y1="173.30" x2="148.40" y2="173.30" stroke="#808080" stroke-width="1.1" />
<line x1="148.40" y1="173.30" x2="148.40" y2="271.80" stroke="#999" stroke-width="1.1" />
<line x1="50.00" y1="271.80" x2="148.40" y2="271.80" stroke="#999" stroke-width="1.0" />
<line x1="50.00" y1="173.30" x2="50.00" y2="271.80" stroke="#707070" stroke-width="1.1" />
<text x="45.30" y="183.90" font-size="5.2" text-anchor="end" fill="#222">10<tspan font-size="3.22" dy="-2.18">5</tspan></text>
<line x1="48.00" y1="181.50" x2="50.00" y2="181.50" stroke="#444" stroke-width="0.8" />
<text x="45.30" y="207.00" font-size="5.2" text-anchor="end" fill="#222">10<tspan font-size="3.22" dy="-2.18">4</tspan></text>
<line x1="48.00" y1="204.60" x2="50.00" y2="204.60" stroke="#444" stroke-width="0.8" />
<text x="45.30" y="230.40" font-size="5.2" text-anchor="end" fill="#222">10<tspan font-size="3.22" dy="-2.18">3</tspan></text>
<line x1="48.00" y1="228.00" x2="50.00" y2="228.00" stroke="#444" stroke-width="0.8" />
<text x="45.30" y="253.70" font-size="5.2" text-anchor="end" fill="#222">10<tspan font-size="3.22" dy="-2.18">2</tspan></text>
<line x1="48.00" y1="251.30" x2="50.00" y2="251.30" stroke="#444" stroke-width="0.8" />
<text x="42.50" y="263.60" font-size="5.4" text-anchor="middle" fill="#222" color="#222" font-weight="normal" >0</text>
<line x1="48.00" y1="261.70" x2="50.00" y2="261.70" stroke="#444" stroke-width="0.8" />
<text x="59.00" y="281.10" font-size="5.4" text-anchor="middle" fill="#222" color="#222" font-weight="normal" >0</text>
<line x1="59.00" y1="271.80" x2="59.00" y2="273.80" stroke="#444" stroke-width="0.8" />
<text x="79.30" y="281.10" font-size="5.2" text-anchor="middle" fill="#222">10<tspan font-size="3.22" dy="-2.18">2</tspan></text>
<line x1="79.30" y1="271.80" x2="79.30" y2="273.80" stroke="#444" stroke-width="0.8" />
<text x="100.00" y="281.10" font-size="5.2" text-anchor="middle" fill="#222">10<tspan font-size="3.22" dy="-2.18">3</tspan></text>
<line x1="100.00" y1="271.80" x2="100.00" y2="273.80" stroke="#444" stroke-width="0.8" />
<text x="119.70" y="281.10" font-size="5.2" text-anchor="middle" fill="#222">10<tspan font-size="3.22" dy="-2.18">4</tspan></text>
<line x1="119.70" y1="271.80" x2="119.70" y2="273.80" stroke="#444" stroke-width="0.8" />
<text x="140.00" y="281.10" font-size="5.2" text-anchor="middle" fill="#222">10<tspan font-size="3.22" dy="-2.18">5</tspan></text>
<line x1="140.00" y1="271.80" x2="140.00" y2="273.80" stroke="#444" stroke-width="0.8" />
<line x1="48.70" y1="197.65" x2="50.00" y2="197.65" stroke="#666" stroke-width="0.5" />
<line x1="48.70" y1="193.58" x2="50.00" y2="193.58" stroke="#666" stroke-width="0.5" />
<line x1="48.70" y1="190.69" x2="50.00" y2="190.69" stroke="#666" stroke-width="0.5" />
<line x1="48.70" y1="188.45" x2="50.00" y2="188.45" stroke="#666" stroke-width="0.5" />
<line x1="48.70" y1="186.62" x2="50.00" y2="186.62" stroke="#666" stroke-width="0.5" />
<line x1="48.70" y1="185.08" x2="50.00" y2="185.08" stroke="#666" stroke-width="0.5" />
<line x1="48.70" y1="183.74" x2="50.00" y2="183.74" stroke="#666" stroke-width="0.5" />
<line x1="48.70" y1="182.56" x2="50.00" y2="182.56" stroke="#666" stroke-width="0.5" />
<line x1="48.70" y1="220.96" x2="50.00" y2="220.96" stroke="#666" stroke-width="0.5" />
<line x1="48.70" y1="216.84" x2="50.00" y2="216.84" stroke="#666" stroke-width="0.5" />
<line x1="48.70" y1="213.91" x2="50.00" y2="213.91" stroke="#666" stroke-width="0.5" />
<line x1="48.70" y1="211.64" x2="50.00" y2="211.64" stroke="#666" stroke-width="0.5" />
<line x1="48.70" y1="209.79" x2="50.00" y2="209.79" stroke="#666" stroke-width="0.5" />
<line x1="48.70" y1="208.22" x2="50.00" y2="208.22" stroke="#666" stroke-width="0.5" />
<line x1="48.70" y1="206.87" x2="50.00" y2="206.87" stroke="#666" stroke-width="0.5" />
<line x1="48.70" y1="205.67" x2="50.00" y2="205.67" stroke="#666" stroke-width="0.5" />
<line x1="48.70" y1="244.29" x2="50.00" y2="244.29" stroke="#666" stroke-width="0.5" />
<line x1="48.70" y1="240.18" x2="50.00" y2="240.18" stroke="#666" stroke-width="0.5" />
<line x1="48.70" y1="237.27" x2="50.00" y2="237.27" stroke="#666" stroke-width="0.5" />
<line x1="48.70" y1="235.01" x2="50.00" y2="235.01" stroke="#666" stroke-width="0.5" />
<line x1="48.70" y1="233.17" x2="50.00" y2="233.17" stroke="#666" stroke-width="0.5" />
<line x1="48.70" y1="231.61" x2="50.00" y2="231.61" stroke="#666" stroke-width="0.5" />
<line x1="48.70" y1="230.26" x2="50.00" y2="230.26" stroke="#666" stroke-width="0.5" />
<line x1="48.70" y1="229.07" x2="50.00" y2="229.07" stroke="#666" stroke-width="0.5" />
<line x1="85.53" y1="271.80" x2="85.53" y2="273.10" stroke="#666" stroke-width="0.5" />
<line x1="89.18" y1="271.80" x2="89.18" y2="273.10" stroke="#666" stroke-width="0.5" />
<line x1="91.76" y1="271.80" x2="91.76" y2="273.10" stroke="#666" stroke-width="0.5" />
<line x1="93.77" y1="271.80" x2="93.77" y2="273.10" stroke="#666" stroke-width="0.5" />
<line x1="95.41" y1="271.80" x2="95.41" y2="273.10" stroke="#666" stroke-width="0.5" />
<line x1="96.79" y1="271.80" x2="96.79" y2="273.10" stroke="#666" stroke-width="0.5" />
<line x1="97.99" y1="271.80" x2="97.99" y2="273.10" stroke="#666" stroke-width="0.5" />
<line x1="99.05" y1="271.80" x2="99.05" y2="273.10" stroke="#666" stroke-width="0.5" />
<line x1="105.93" y1="271.80" x2="105.93" y2="273.10" stroke="#666" stroke-width="0.5" />
<line x1="109.40" y1="271.80" x2="109.40" y2="273.10" stroke="#666" stroke-width="0.5" />
<line x1="111.86" y1="271.80" x2="111.86" y2="273.10" stroke="#666" stroke-width="0.5" />
<line x1="113.77" y1="271.80" x2="113.77" y2="273.10" stroke="#666" stroke-width="0.5" />
<line x1="115.33" y1="271.80" x2="115.33" y2="273.10" stroke="#666" stroke-width="0.5" />
<line x1="116.65" y1="271.80" x2="116.65" y2="273.10" stroke="#666" stroke-width="0.5" />
<line x1="117.79" y1="271.80" x2="117.79" y2="273.10" stroke="#666" stroke-width="0.5" />
<line x1="118.80" y1="271.80" x2="118.80" y2="273.10" stroke="#666" stroke-width="0.5" />
<line x1="125.81" y1="271.80" x2="125.81" y2="273.10" stroke="#666" stroke-width="0.5" />
<line x1="129.39" y1="271.80" x2="129.39" y2="273.10" stroke="#666" stroke-width="0.5" />
<line x1="131.92" y1="271.80" x2="131.92" y2="273.10" stroke="#666" stroke-width="0.5" />
<line x1="133.89" y1="271.80" x2="133.89" y2="273.10" stroke="#666" stroke-width="0.5" />
<line x1="135.50" y1="271.80" x2="135.50" y2="273.10" stroke="#666" stroke-width="0.5" />
<line x1="136.86" y1="271.80" x2="136.86" y2="273.10" stroke="#666" stroke-width="0.5" />
<line x1="138.03" y1="271.80" x2="138.03" y2="273.10" stroke="#666" stroke-width="0.5" />
<line x1="139.07" y1="271.80" x2="139.07" y2="273.10" stroke="#666" stroke-width="0.5" />
<line x1="53.00" y1="271.80" x2="53.00" y2="273.10" stroke="#666" stroke-width="0.5" />
<line x1="56.00" y1="271.80" x2="56.00" y2="273.10" stroke="#666" stroke-width="0.5" />
<line x1="62.00" y1="271.80" x2="62.00" y2="273.10" stroke="#666" stroke-width="0.5" />
<line x1="65.00" y1="271.80" x2="65.00" y2="273.10" stroke="#666" stroke-width="0.5" />
<rect x="50.60" y="214.00" width="24.70" height="26.60" fill="none" stroke="#999" stroke-width="0.9" />
<rect x="81.00" y="214.00" width="44.20" height="30.80" fill="none" stroke="#999" stroke-width="0.9" />
<text x="101.50" y="192.90" font-size="8.2" text-anchor="middle" fill="#222" color="#222" font-weight="normal" >PE-FMO</text>
<text x="0" y="0" font-size="8" text-anchor="middle" fill="#222" transform="translate(34.2 223.7) rotate(-90)">PE (none)</text>
<text x="99.20" y="290.80" font-size="8.45" text-anchor="middle" fill="#222" color="#222" font-weight="normal" >Alexa 488 CD45RA</text>
<circle cx="98.3" cy="253.3" r="0.5" fill="#111" fill-opacity="0.95"/>
<circle cx="57.8" cy="257.1" r="0.5" fill="#111" fill-opacity="0.95"/>
<circle cx="73.6" cy="263.2" r="0.5" fill="#111" fill-opacity="0.95"/>
<circle cx="68.1" cy="255.6" r="0.5" fill="#111" fill-opacity="0.95"/>
<circle cx="93.4" cy="263.2" r="0.5" fill="#111" fill-opacity="0.95"/>
<circle cx="66.8" cy="254.6" r="0.5" fill="#111" fill-opacity="0.95"/>
<circle cx="58.1" cy="260.6" r="0.5" fill="#111" fill-opacity="0.95"/>
<circle cx="65.0" cy="255.6" r="0.5" fill="#111" fill-opacity="0.95"/>
<circle cx="84.5" cy="263.9" r="0.5" fill="#111" fill-opacity="0.95"/>
<circle cx="65.9" cy="255.9" r="0.5" fill="#111" fill-opacity="0.95"/>
<circle cx="95.2" cy="254.8" r="0.5" fill="#111" fill-opacity="0.95"/>
<circle cx="70.9" cy="253.9" r="0.5" fill="#111" fill-opacity="0.95"/>
<circle cx="98.2" cy="264.4" r="0.5" fill="#111" fill-opacity="0.95"/>
<circle cx="56.6" cy="258.6" r="0.5" fill="#111" fill-opacity="0.95"/>
<circle cx="62.9" cy="254.8" r="0.5" fill="#111" fill-opacity="0.95"/>
<circle cx="99.0" cy="263.8" r="0.5" fill="#111" fill-opacity="0.95"/>
<circle cx="106.6" cy="260.7" r="0.5" fill="#111" fill-opacity="0.95"/>
<circle cx="97.7" cy="263.2" r="0.5" fill="#111" fill-opacity="0.95"/>
<circle cx="93.5" cy="264.1" r="0.5" fill="#111" fill-opacity="0.95"/>
<circle cx="77.2" cy="262.7" r="0.5" fill="#111" fill-opacity="0.95"/>
<circle cx="64.4" cy="263.2" r="0.5" fill="#111" fill-opacity="0.95"/>
<circle cx="58.6" cy="256.9" r="0.5" fill="#111" fill-opacity="0.95"/>
<circle cx="90.0" cy="263.5" r="0.5" fill="#111" fill-opacity="0.95"/>
<circle cx="68.2" cy="262.5" r="0.5" fill="#111" fill-opacity="0.95"/>
<circle cx="74.5" cy="254.4" r="0.5" fill="#111" fill-opacity="0.95"/>
<circle cx="87.2" cy="262.9" r="0.5" fill="#111" fill-opacity="0.95"/>
<circle cx="82.5" cy="255.2" r="0.5" fill="#111" fill-opacity="0.95"/>
<circle cx="90.4" cy="254.2" r="0.5" fill="#111" fill-opacity="0.95"/>
<circle cx="65.2" cy="256.2" r="0.5" fill="#111" fill-opacity="0.95"/>
<circle cx="92.9" cy="263.8" r="0.5" fill="#111" fill-opacity="0.95"/>
<circle cx="62.3" cy="262.6" r="0.5" fill="#111" fill-opacity="0.95"/>
<circle cx="56.8" cy="259.2" r="0.5" fill="#111" fill-opacity="0.95"/>
<circle cx="82.1" cy="262.9" r="0.5" fill="#111" fill-opacity="0.95"/>
<circle cx="100.0" cy="253.8" r="0.5" fill="#111" fill-opacity="0.95"/>
<circle cx="57.5" cy="257.3" r="0.5" fill="#111" fill-opacity="0.95"/>
<circle cx="63.5" cy="264.2" r="0.5" fill="#111" fill-opacity="0.95"/>
<circle cx="90.9" cy="254.7" r="0.5" fill="#111" fill-opacity="0.95"/>
<circle cx="67.0" cy="262.2" r="0.5" fill="#111" fill-opacity="0.95"/>
<circle cx="77.4" cy="262.8" r="0.5" fill="#111" fill-opacity="0.95"/>
<circle cx="74.0" cy="262.8" r="0.5" fill="#111" fill-opacity="0.95"/>
<circle cx="89.2" cy="255.1" r="0.5" fill="#111" fill-opacity="0.95"/>
<circle cx="105.5" cy="261.6" r="0.5" fill="#111" fill-opacity="0.95"/>
<circle cx="58.6" cy="261.9" r="0.5" fill="#111" fill-opacity="0.95"/>
<circle cx="93.4" cy="263.8" r="0.5" fill="#111" fill-opacity="0.95"/>
<circle cx="105.7" cy="262.5" r="0.5" fill="#111" fill-opacity="0.95"/>
<circle cx="64.3" cy="262.5" r="0.5" fill="#111" fill-opacity="0.95"/>
<circle cx="89.0" cy="263.3" r="0.5" fill="#111" fill-opacity="0.95"/>
<circle cx="78.1" cy="255.2" r="0.5" fill="#111" fill-opacity="0.95"/>
<circle cx="86.3" cy="254.9" r="0.5" fill="#111" fill-opacity="0.95"/>
<circle cx="83.3" cy="255.1" r="0.5" fill="#111" fill-opacity="0.95"/>
<circle cx="86.1" cy="263.5" r="0.5" fill="#111" fill-opacity="0.95"/>
<circle cx="102.9" cy="254.2" r="0.5" fill="#111" fill-opacity="0.95"/>
<circle cx="89.3" cy="262.9" r="0.5" fill="#111" fill-opacity="0.95"/>
<circle cx="82.0" cy="262.6" r="0.5" fill="#111" fill-opacity="0.95"/>
<circle cx="82.0" cy="255.1" r="0.5" fill="#111" fill-opacity="0.95"/>
<circle cx="88.8" cy="263.2" r="0.5" fill="#111" fill-opacity="0.95"/>
<circle cx="77.7" cy="255.2" r="0.5" fill="#111" fill-opacity="0.95"/>
<circle cx="94.1" cy="265.1" r="0.5" fill="#111" fill-opacity="0.95"/>
<circle cx="99.9" cy="262.8" r="0.5" fill="#111" fill-opacity="0.95"/>
<circle cx="88.4" cy="262.7" r="0.5" fill="#111" fill-opacity="0.95"/>
<circle cx="88.1" cy="254.7" r="0.5" fill="#111" fill-opacity="0.95"/>
<circle cx="57.0" cy="257.9" r="0.5" fill="#111" fill-opacity="0.95"/>
<circle cx="94.5" cy="254.5" r="0.5" fill="#111" fill-opacity="0.95"/>
<circle cx="107.3" cy="257.8" r="0.5" fill="#111" fill-opacity="0.95"/>
<circle cx="58.6" cy="261.2" r="0.5" fill="#111" fill-opacity="0.95"/>
<circle cx="80.2" cy="262.7" r="0.5" fill="#111" fill-opacity="0.95"/>
<circle cx="74.3" cy="254.6" r="0.5" fill="#111" fill-opacity="0.95"/>
<circle cx="99.7" cy="254.1" r="0.5" fill="#111" fill-opacity="0.95"/>
<circle cx="89.0" cy="262.6" r="0.5" fill="#111" fill-opacity="0.95"/>
<circle cx="65.1" cy="255.1" r="0.5" fill="#111" fill-opacity="0.95"/>
<circle cx="62.3" cy="262.2" r="0.5" fill="#111" fill-opacity="0.95"/>
<circle cx="57.4" cy="255.8" r="0.5" fill="#111" fill-opacity="0.95"/>
<circle cx="73.7" cy="263.1" r="0.5" fill="#111" fill-opacity="0.95"/>
<circle cx="76.5" cy="264.4" r="0.5" fill="#111" fill-opacity="0.95"/>
<circle cx="91.1" cy="263.0" r="0.5" fill="#111" fill-opacity="0.95"/>
<circle cx="75.6" cy="255.1" r="0.5" fill="#111" fill-opacity="0.95"/>
<circle cx="65.3" cy="263.2" r="0.5" fill="#111" fill-opacity="0.95"/>
<circle cx="100.3" cy="264.0" r="0.5" fill="#111" fill-opacity="0.95"/>
<circle cx="92.1" cy="263.2" r="0.5" fill="#111" fill-opacity="0.95"/>
<circle cx="65.3" cy="255.1" r="0.5" fill="#111" fill-opacity="0.95"/>
<circle cx="57.6" cy="260.1" r="0.5" fill="#111" fill-opacity="0.95"/>
<circle cx="102.5" cy="263.7" r="0.5" fill="#111" fill-opacity="0.95"/>
<circle cx="79.3" cy="255.0" r="0.5" fill="#111" fill-opacity="0.95"/>
<circle cx="71.1" cy="262.8" r="0.5" fill="#111" fill-opacity="0.95"/>
<circle cx="68.9" cy="254.5" r="0.5" fill="#111" fill-opacity="0.95"/>
<circle cx="85.4" cy="262.9" r="0.5" fill="#111" fill-opacity="0.95"/>
<circle cx="69.9" cy="255.1" r="0.5" fill="#111" fill-opacity="0.95"/>
<circle cx="95.0" cy="254.9" r="0.5" fill="#111" fill-opacity="0.95"/>
<circle cx="107.3" cy="261.0" r="0.5" fill="#111" fill-opacity="0.95"/>
<circle cx="77.3" cy="263.3" r="0.5" fill="#111" fill-opacity="0.95"/>
<circle cx="86.1" cy="255.4" r="0.5" fill="#111" fill-opacity="0.95"/>
<circle cx="79.3" cy="254.2" r="0.5" fill="#111" fill-opacity="0.95"/>
<circle cx="76.0" cy="255.0" r="0.5" fill="#111" fill-opacity="0.95"/>
<circle cx="94.9" cy="253.9" r="0.5" fill="#111" fill-opacity="0.95"/>
<circle cx="94.3" cy="262.5" r="0.5" fill="#111" fill-opacity="0.95"/>
<circle cx="60.2" cy="255.6" r="0.5" fill="#111" fill-opacity="0.95"/>
<circle cx="91.9" cy="263.3" r="0.5" fill="#111" fill-opacity="0.95"/>
<circle cx="58.4" cy="256.9" r="0.5" fill="#111" fill-opacity="0.95"/>
<circle cx="102.9" cy="253.5" r="0.5" fill="#111" fill-opacity="0.95"/>
<circle cx="86.6" cy="263.6" r="0.5" fill="#111" fill-opacity="0.95"/>
<circle cx="65.0" cy="254.9" r="0.5" fill="#111" fill-opacity="0.95"/>
<circle cx="73.8" cy="254.6" r="0.5" fill="#111" fill-opacity="0.95"/>
<circle cx="80.1" cy="255.2" r="0.5" fill="#111" fill-opacity="0.95"/>
<circle cx="62.2" cy="255.6" r="0.5" fill="#111" fill-opacity="0.95"/>
<circle cx="94.5" cy="255.3" r="0.5" fill="#111" fill-opacity="0.95"/>
<circle cx="103.9" cy="262.7" r="0.5" fill="#111" fill-opacity="0.95"/>
<circle cx="62.5" cy="255.5" r="0.5" fill="#111" fill-opacity="0.95"/>
<circle cx="103.4" cy="263.9" r="0.5" fill="#111" fill-opacity="0.95"/>
<circle cx="69.1" cy="264.2" r="0.5" fill="#111" fill-opacity="0.95"/>
<circle cx="66.8" cy="255.5" r="0.5" fill="#111" fill-opacity="0.95"/>
<circle cx="61.0" cy="262.3" r="0.5" fill="#111" fill-opacity="0.95"/>
<circle cx="73.5" cy="255.2" r="0.5" fill="#111" fill-opacity="0.95"/>
<circle cx="69.7" cy="262.8" r="0.5" fill="#111" fill-opacity="0.95"/>
<circle cx="83.9" cy="254.8" r="0.5" fill="#111" fill-opacity="0.95"/>
<circle cx="63.2" cy="262.1" r="0.5" fill="#111" fill-opacity="0.95"/>
<circle cx="62.9" cy="255.4" r="0.5" fill="#111" fill-opacity="0.95"/>
<circle cx="104.4" cy="254.5" r="0.5" fill="#111" fill-opacity="0.95"/>
<circle cx="92.0" cy="263.5" r="0.5" fill="#111" fill-opacity="0.95"/>
<circle cx="94.4" cy="253.1" r="0.5" fill="#111" fill-opacity="0.95"/>
<circle cx="107.8" cy="255.4" r="0.5" fill="#111" fill-opacity="0.95"/>
<circle cx="74.5" cy="254.0" r="0.5" fill="#111" fill-opacity="0.95"/>
<circle cx="106.9" cy="260.1" r="0.5" fill="#111" fill-opacity="0.95"/>
<circle cx="58.2" cy="257.4" r="0.5" fill="#111" fill-opacity="0.95"/>
<circle cx="105.7" cy="262.0" r="0.5" fill="#111" fill-opacity="0.95"/>
<circle cx="80.5" cy="255.5" r="0.5" fill="#111" fill-opacity="0.95"/>
<circle cx="93.3" cy="263.0" r="0.5" fill="#111" fill-opacity="0.95"/>
<circle cx="70.6" cy="254.6" r="0.5" fill="#111" fill-opacity="0.95"/>
<circle cx="83.4" cy="262.4" r="0.5" fill="#111" fill-opacity="0.95"/>
<circle cx="70.5" cy="262.4" r="0.5" fill="#111" fill-opacity="0.95"/>
<circle cx="74.7" cy="253.9" r="0.5" fill="#111" fill-opacity="0.95"/>
<circle cx="79.7" cy="255.6" r="0.5" fill="#111" fill-opacity="0.95"/>
<circle cx="63.7" cy="256.0" r="0.5" fill="#111" fill-opacity="0.95"/>
<circle cx="78.6" cy="254.3" r="0.5" fill="#111" fill-opacity="0.95"/>
<circle cx="70.1" cy="255.0" r="0.5" fill="#111" fill-opacity="0.95"/>
<circle cx="75.8" cy="255.2" r="0.5" fill="#111" fill-opacity="0.95"/>
<circle cx="61.5" cy="262.1" r="0.5" fill="#111" fill-opacity="0.95"/>
<circle cx="98.9" cy="254.5" r="0.5" fill="#111" fill-opacity="0.95"/>
<circle cx="60.5" cy="262.4" r="0.5" fill="#111" fill-opacity="0.95"/>
<circle cx="80.3" cy="255.4" r="0.5" fill="#111" fill-opacity="0.95"/>
<circle cx="60.5" cy="262.6" r="0.5" fill="#111" fill-opacity="0.95"/>
<circle cx="108.1" cy="257.7" r="0.5" fill="#111" fill-opacity="0.95"/>
<circle cx="78.5" cy="255.2" r="0.5" fill="#111" fill-opacity="0.95"/>
<circle cx="73.1" cy="263.8" r="0.5" fill="#111" fill-opacity="0.95"/>
<circle cx="106.7" cy="252.5" r="0.5" fill="#111" fill-opacity="0.95"/>
<circle cx="79.6" cy="254.5" r="0.5" fill="#111" fill-opacity="0.95"/>
<circle cx="99.5" cy="254.5" r="0.5" fill="#111" fill-opacity="0.95"/>
<circle cx="92.5" cy="254.8" r="0.5" fill="#111" fill-opacity="0.95"/>
<circle cx="95.9" cy="254.7" r="0.5" fill="#111" fill-opacity="0.95"/>
<circle cx="72.5" cy="255.2" r="0.5" fill="#111" fill-opacity="0.95"/>
<circle cx="98.1" cy="263.0" r="0.5" fill="#111" fill-opacity="0.95"/>
<circle cx="83.1" cy="255.4" r="0.5" fill="#111" fill-opacity="0.95"/>
<circle cx="86.6" cy="263.3" r="0.5" fill="#111" fill-opacity="0.95"/>
<circle cx="69.8" cy="255.2" r="0.5" fill="#111" fill-opacity="0.95"/>
<circle cx="59.1" cy="262.2" r="0.5" fill="#111" fill-opacity="0.95"/>
<circle cx="71.1" cy="254.6" r="0.5" fill="#111" fill-opacity="0.95"/>
<circle cx="100.9" cy="263.7" r="0.5" fill="#111" fill-opacity="0.95"/>
<circle cx="67.3" cy="263.2" r="0.5" fill="#111" fill-opacity="0.95"/>
<circle cx="73.1" cy="255.0" r="0.5" fill="#111" fill-opacity="0.95"/>
<circle cx="100.5" cy="262.8" r="0.5" fill="#111" fill-opacity="0.95"/>
<circle cx="67.1" cy="262.9" r="0.5" fill="#111" fill-opacity="0.95"/>
<circle cx="92.1" cy="264.3" r="0.5" fill="#111" fill-opacity="0.95"/>
<circle cx="84.3" cy="255.6" r="0.5" fill="#111" fill-opacity="0.95"/>
<circle cx="61.2" cy="262.4" r="0.5" fill="#111" fill-opacity="0.95"/>
<circle cx="64.2" cy="262.7" r="0.5" fill="#111" fill-opacity="0.95"/>
<circle cx="66.1" cy="254.8" r="0.5" fill="#111" fill-opacity="0.95"/>
<circle cx="86.5" cy="255.0" r="0.5" fill="#111" fill-opacity="0.95"/>
<circle cx="58.4" cy="261.9" r="0.5" fill="#111" fill-opacity="0.95"/>
<circle cx="106.3" cy="261.3" r="0.5" fill="#111" fill-opacity="0.95"/>
<circle cx="71.5" cy="263.2" r="0.5" fill="#111" fill-opacity="0.95"/>
<circle cx="106.5" cy="259.9" r="0.5" fill="#111" fill-opacity="0.95"/>
<circle cx="67.5" cy="255.3" r="0.5" fill="#111" fill-opacity="0.95"/>
<circle cx="100.4" cy="264.2" r="0.5" fill="#111" fill-opacity="0.95"/>
<circle cx="76.7" cy="264.5" r="0.5" fill="#111" fill-opacity="0.95"/>
<circle cx="75.9" cy="255.5" r="0.5" fill="#111" fill-opacity="0.95"/>
<circle cx="63.0" cy="254.9" r="0.5" fill="#111" fill-opacity="0.95"/>
<circle cx="74.7" cy="255.4" r="0.5" fill="#111" fill-opacity="0.95"/>
<circle cx="88.7" cy="263.0" r="0.5" fill="#111" fill-opacity="0.95"/>
<circle cx="95.0" cy="254.1" r="0.5" fill="#111" fill-opacity="0.95"/>
<circle cx="106.8" cy="261.1" r="0.5" fill="#111" fill-opacity="0.95"/>
<circle cx="83.3" cy="262.9" r="0.5" fill="#111" fill-opacity="0.95"/>
<circle cx="96.2" cy="262.6" r="0.5" fill="#111" fill-opacity="0.95"/>
<circle cx="76.9" cy="263.1" r="0.5" fill="#111" fill-opacity="0.95"/>
<circle cx="57.0" cy="258.6" r="0.5" fill="#111" fill-opacity="0.95"/>
<circle cx="86.9" cy="263.2" r="0.5" fill="#111" fill-opacity="0.95"/>
<circle cx="93.7" cy="263.9" r="0.5" fill="#111" fill-opacity="0.95"/>
<circle cx="78.4" cy="264.7" r="0.5" fill="#111" fill-opacity="0.95"/>
<circle cx="80.3" cy="255.7" r="0.5" fill="#111" fill-opacity="0.95"/>
<circle cx="77.5" cy="254.3" r="0.5" fill="#111" fill-opacity="0.95"/>
<circle cx="99.6" cy="252.8" r="0.5" fill="#111" fill-opacity="0.95"/>
<circle cx="80.3" cy="255.3" r="0.5" fill="#111" fill-opacity="0.95"/>
<circle cx="84.0" cy="262.7" r="0.5" fill="#111" fill-opacity="0.95"/>
<circle cx="80.5" cy="263.8" r="0.5" fill="#111" fill-opacity="0.95"/>
<circle cx="68.7" cy="255.2" r="0.5" fill="#111" fill-opacity="0.95"/>
<circle cx="84.0" cy="254.6" r="0.5" fill="#111" fill-opacity="0.95"/>
<circle cx="58.3" cy="255.9" r="0.5" fill="#111" fill-opacity="0.95"/>
<circle cx="101.0" cy="253.7" r="0.5" fill="#111" fill-opacity="0.95"/>
<circle cx="63.3" cy="256.2" r="0.5" fill="#111" fill-opacity="0.95"/>
<circle cx="101.4" cy="262.7" r="0.5" fill="#111" fill-opacity="0.95"/>
<circle cx="93.8" cy="254.8" r="0.5" fill="#111" fill-opacity="0.95"/>
<circle cx="74.0" cy="255.4" r="0.5" fill="#111" fill-opacity="0.95"/>
<circle cx="85.1" cy="250.6" r="0.45" fill="#333" fill-opacity="0.7"/>
<circle cx="94.4" cy="251.1" r="0.45" fill="#333" fill-opacity="0.7"/>
<circle cx="79.7" cy="254.3" r="0.45" fill="#333" fill-opacity="0.7"/>
<circle cx="98.8" cy="253.8" r="0.45" fill="#333" fill-opacity="0.7"/>
<circle cx="92.8" cy="253.0" r="0.45" fill="#333" fill-opacity="0.7"/>
<circle cx="95.8" cy="254.4" r="0.45" fill="#333" fill-opacity="0.7"/>
<circle cx="71.4" cy="253.6" r="0.45" fill="#333" fill-opacity="0.7"/>
<circle cx="76.4" cy="251.5" r="0.45" fill="#333" fill-opacity="0.7"/>
<circle cx="101.4" cy="252.9" r="0.45" fill="#333" fill-opacity="0.7"/>
<circle cx="102.8" cy="254.0" r="0.45" fill="#333" fill-opacity="0.7"/>
<circle cx="90.3" cy="251.3" r="0.45" fill="#333" fill-opacity="0.7"/>
<circle cx="62.7" cy="252.6" r="0.45" fill="#333" fill-opacity="0.7"/>
<circle cx="96.8" cy="251.6" r="0.45" fill="#333" fill-opacity="0.7"/>
<circle cx="65.4" cy="250.5" r="0.45" fill="#333" fill-opacity="0.7"/>
<circle cx="70.3" cy="253.3" r="0.45" fill="#333" fill-opacity="0.7"/>
<circle cx="62.2" cy="251.4" r="0.45" fill="#333" fill-opacity="0.7"/>
<circle cx="74.7" cy="253.3" r="0.45" fill="#333" fill-opacity="0.7"/>
<circle cx="109.4" cy="250.6" r="0.45" fill="#333" fill-opacity="0.7"/>
<circle cx="67.5" cy="254.2" r="0.45" fill="#333" fill-opacity="0.7"/>
<circle cx="108.6" cy="251.1" r="0.45" fill="#333" fill-opacity="0.7"/>
<circle cx="78.1" cy="252.6" r="0.45" fill="#333" fill-opacity="0.7"/>
<circle cx="77.4" cy="252.2" r="0.45" fill="#333" fill-opacity="0.7"/>
<circle cx="85.0" cy="251.5" r="0.45" fill="#333" fill-opacity="0.7"/>
<circle cx="64.6" cy="250.8" r="0.45" fill="#333" fill-opacity="0.7"/>
<circle cx="69.8" cy="250.9" r="0.45" fill="#333" fill-opacity="0.7"/>
<circle cx="92.0" cy="253.3" r="0.45" fill="#333" fill-opacity="0.7"/>
<circle cx="74.6" cy="253.7" r="0.45" fill="#333" fill-opacity="0.7"/>
<circle cx="97.0" cy="251.9" r="0.45" fill="#333" fill-opacity="0.7"/>
<circle cx="85.6" cy="251.3" r="0.45" fill="#333" fill-opacity="0.7"/>
<circle cx="106.6" cy="252.7" r="0.45" fill="#333" fill-opacity="0.7"/>
<circle cx="64.5" cy="251.1" r="0.45" fill="#333" fill-opacity="0.7"/>
<circle cx="95.2" cy="252.0" r="0.45" fill="#333" fill-opacity="0.7"/>
<circle cx="96.4" cy="251.4" r="0.45" fill="#333" fill-opacity="0.7"/>
<circle cx="100.3" cy="253.7" r="0.45" fill="#333" fill-opacity="0.7"/>
<circle cx="66.5" cy="252.8" r="0.45" fill="#333" fill-opacity="0.7"/>
<path d="M56.00,259.10 C55.83,258.03 56.67,256.65 59.00,256.00 C61.33,255.35 65.67,255.35 70.00,255.20 C74.33,255.05 80.33,255.20 85.00,255.10 C89.67,255.00 94.83,254.77 98.00,254.60 C101.17,254.43 102.50,253.73 104.00,254.10 C105.50,254.47 106.53,255.60 107.00,256.80 C107.47,258.00 107.63,260.27 106.80,261.30 C105.97,262.33 105.13,262.72 102.00,263.00 C98.87,263.28 93.00,263.03 88.00,263.00 C83.00,262.97 76.67,262.90 72.00,262.80 C67.33,262.70 62.67,263.02 60.00,262.40 C57.33,261.78 56.17,260.17 56.00,259.10 Z" fill="#6a6a6a" stroke="#151515" stroke-width="1.2"/>
<path d="M59.00,259.00 C59.00,258.20 59.50,257.05 63.00,256.60 C66.50,256.15 74.33,256.38 80.00,256.30 C85.67,256.22 93.08,255.98 97.00,256.10 C100.92,256.22 102.33,256.25 103.50,257.00 C104.67,257.75 105.08,259.83 104.00,260.60 C102.92,261.37 101.00,261.43 97.00,261.60 C93.00,261.77 85.67,261.63 80.00,261.60 C74.33,261.57 66.50,261.83 63.00,261.40 C59.50,260.97 59.00,259.80 59.00,259.00 Z" fill="#e8e8e8" stroke="#444" stroke-width="0.55"/>
<path d="M64,258.6 C75,257.6 90,257.4 99,258 M66,260 C80,259.6 92,259.6 99,259.8 M72,257.3 L80,257.1 M86,260.4 L95,260.5" fill="none" stroke="#555" stroke-width="0.5"/>
<path d="M100.5,255.8 C104,255.8 105.5,257 105.5,259 C105.5,261 104,262 100.5,262 Z" fill="#333"/>
<rect x="55.50" y="271.60" width="4.50" height="1.60" fill="#111" stroke="none" stroke-width="1" />
<rect x="50.60" y="248.30" width="24.70" height="23.40" fill="none" stroke="#6262b2" stroke-width="0.9" />
<rect x="52.20" y="249.40" width="13.80" height="5.60" fill="#fff" stroke="none" stroke-width="1" />
<text x="52.60" y="254.90" font-size="7" text-anchor="start" fill="#222" color="#222" font-weight="normal" >58%</text>
<text x="180.20" y="166.00" font-size="11.6" text-anchor="start" fill="#000" color="#000" font-weight="bold" >F</text>
<line x1="224.30" y1="163.80" x2="224.30" y2="275.30" stroke="#111" stroke-width="1.0" />
<line x1="224.30" y1="275.30" x2="444.50" y2="275.30" stroke="#111" stroke-width="1.0" />
<line x1="220.60" y1="275.30" x2="224.30" y2="275.30" stroke="#111" stroke-width="1.0" />
<text x="218.80" y="278.10" font-size="8" text-anchor="end" fill="#222" color="#222" font-weight="normal" >0</text>
<line x1="220.60" y1="247.68" x2="224.30" y2="247.68" stroke="#111" stroke-width="1.0" />
<text x="218.80" y="250.48" font-size="8" text-anchor="end" fill="#222" color="#222" font-weight="normal" >20</text>
<line x1="220.60" y1="220.05" x2="224.30" y2="220.05" stroke="#111" stroke-width="1.0" />
<text x="218.80" y="222.85" font-size="8" text-anchor="end" fill="#222" color="#222" font-weight="normal" >40</text>
<line x1="220.60" y1="192.43" x2="224.30" y2="192.43" stroke="#111" stroke-width="1.0" />
<text x="218.80" y="195.23" font-size="8" text-anchor="end" fill="#222" color="#222" font-weight="normal" >60</text>
<line x1="220.60" y1="164.80" x2="224.30" y2="164.80" stroke="#111" stroke-width="1.0" />
<text x="218.80" y="167.60" font-size="8" text-anchor="end" fill="#222" color="#222" font-weight="normal" >80</text>
<line x1="224.30" y1="275.30" x2="224.30" y2="278.30" stroke="#111" stroke-width="1.0" />
<line x1="255.45" y1="275.30" x2="255.45" y2="278.30" stroke="#111" stroke-width="1.0" />
<line x1="286.60" y1="275.30" x2="286.60" y2="278.30" stroke="#111" stroke-width="1.0" />
<line x1="317.75" y1="275.30" x2="317.75" y2="278.30" stroke="#111" stroke-width="1.0" />
<line x1="348.90" y1="275.30" x2="348.90" y2="278.30" stroke="#111" stroke-width="1.0" />
<line x1="380.05" y1="275.30" x2="380.05" y2="278.30" stroke="#111" stroke-width="1.0" />
<line x1="411.20" y1="275.30" x2="411.20" y2="278.30" stroke="#111" stroke-width="1.0" />
<line x1="442.35" y1="275.30" x2="442.35" y2="278.30" stroke="#111" stroke-width="1.0" />
<text x="0" y="0" font-size="8.8" text-anchor="middle" fill="#222" transform="translate(202.2 220.6) rotate(-90)">Colonies/100 cells</text>
<line x1="286.50" y1="169.00" x2="286.50" y2="274.00" stroke="#52698f" stroke-width="1.0" stroke-dasharray="1 1"/>
<line x1="348.50" y1="169.00" x2="348.50" y2="274.00" stroke="#52698f" stroke-width="1.0" stroke-dasharray="1 1"/>
<line x1="410.50" y1="169.00" x2="410.50" y2="274.00" stroke="#52698f" stroke-width="1.0" stroke-dasharray="1 1"/>
<text x="255.80" y="174.80" font-size="8" text-anchor="middle" fill="#222" color="#222" font-weight="normal" >Strategy 1</text>
<text x="319.20" y="174.80" font-size="8" text-anchor="middle" fill="#222" color="#222" font-weight="normal" >Strategy 2</text>
<text x="381.20" y="174.80" font-size="8" text-anchor="middle" fill="#222" color="#222" font-weight="normal" >Strategy 3</text>
<rect x="233.85" y="264.80" width="12.30" height="10.50" fill="#2e5a96" stroke="none" stroke-width="1" />
<rect x="233.85" y="250.16" width="12.30" height="14.64" fill="#b2113b" stroke="none" stroke-width="1" />
<rect x="233.85" y="238.70" width="12.30" height="11.46" fill="#69ab47" stroke="none" stroke-width="1" />
<line x1="240.00" y1="238.70" x2="240.00" y2="229.86" stroke="#262626" stroke-width="1.15" />
<line x1="237.20" y1="229.86" x2="242.80" y2="229.86" stroke="#262626" stroke-width="1.2" />
<line x1="233.85" y1="264.80" x2="246.15" y2="264.80" stroke="#1a1a3a" stroke-width="0.7" stroke-opacity="0.6"/>
<line x1="233.85" y1="250.16" x2="246.15" y2="250.16" stroke="#1a1a1a" stroke-width="0.7" stroke-opacity="0.5"/>
<line x1="240.00" y1="250.16" x2="240.00" y2="249.33" stroke="#222" stroke-width="0.9" />
<line x1="237.50" y1="249.33" x2="242.50" y2="249.33" stroke="#222" stroke-width="0.9" />
<line x1="240.00" y1="264.80" x2="240.00" y2="263.97" stroke="#222" stroke-width="0.9" />
<line x1="237.50" y1="263.97" x2="242.50" y2="263.97" stroke="#222" stroke-width="0.9" />
<rect x="265.00" y="260.94" width="12.30" height="14.37" fill="#2e5a96" stroke="none" stroke-width="1" />
<rect x="265.00" y="212.18" width="12.30" height="48.76" fill="#b2113b" stroke="none" stroke-width="1" />
<rect x="265.00" y="202.92" width="12.30" height="9.25" fill="#69ab47" stroke="none" stroke-width="1" />
<line x1="271.15" y1="202.92" x2="271.15" y2="197.81" stroke="#262626" stroke-width="1.15" />
<line x1="268.35" y1="197.81" x2="273.95" y2="197.81" stroke="#262626" stroke-width="1.2" />
<line x1="265.00" y1="260.94" x2="277.30" y2="260.94" stroke="#1a1a3a" stroke-width="0.7" stroke-opacity="0.6"/>
<line x1="265.00" y1="212.18" x2="277.30" y2="212.18" stroke="#1a1a1a" stroke-width="0.7" stroke-opacity="0.5"/>
<line x1="271.15" y1="212.18" x2="271.15" y2="203.75" stroke="#222" stroke-width="0.9" />
<line x1="268.65" y1="203.75" x2="273.65" y2="203.75" stroke="#222" stroke-width="0.9" />
<line x1="271.15" y1="260.94" x2="271.15" y2="257.07" stroke="#222" stroke-width="0.9" />
<line x1="268.65" y1="257.07" x2="273.65" y2="257.07" stroke="#222" stroke-width="0.9" />
<rect x="296.15" y="267.29" width="12.30" height="8.01" fill="#2e5a96" stroke="none" stroke-width="1" />
<rect x="296.15" y="254.03" width="12.30" height="13.26" fill="#b2113b" stroke="none" stroke-width="1" />
<rect x="296.15" y="252.37" width="12.30" height="1.66" fill="#69ab47" stroke="none" stroke-width="1" />
<line x1="302.30" y1="252.37" x2="302.30" y2="249.19" stroke="#262626" stroke-width="1.15" />
<line x1="299.50" y1="249.19" x2="305.10" y2="249.19" stroke="#262626" stroke-width="1.2" />
<line x1="296.15" y1="267.29" x2="308.45" y2="267.29" stroke="#1a1a3a" stroke-width="0.7" stroke-opacity="0.6"/>
<line x1="296.15" y1="254.03" x2="308.45" y2="254.03" stroke="#1a1a1a" stroke-width="0.7" stroke-opacity="0.5"/>
<line x1="302.30" y1="254.03" x2="302.30" y2="251.13" stroke="#222" stroke-width="0.9" />
<line x1="299.80" y1="251.13" x2="304.80" y2="251.13" stroke="#222" stroke-width="0.9" />
<line x1="302.30" y1="267.29" x2="302.30" y2="266.60" stroke="#222" stroke-width="0.9" />
<line x1="299.80" y1="266.60" x2="304.80" y2="266.60" stroke="#222" stroke-width="0.9" />
<rect x="327.30" y="259.00" width="12.30" height="16.30" fill="#2e5a96" stroke="none" stroke-width="1" />
<rect x="327.30" y="219.22" width="12.30" height="39.78" fill="#b2113b" stroke="none" stroke-width="1" />
<rect x="327.30" y="191.73" width="12.30" height="27.49" fill="#69ab47" stroke="none" stroke-width="1" />
<line x1="333.45" y1="191.73" x2="333.45" y2="181.10" stroke="#262626" stroke-width="1.15" />
<line x1="330.65" y1="181.10" x2="336.25" y2="181.10" stroke="#262626" stroke-width="1.2" />
<line x1="327.30" y1="259.00" x2="339.60" y2="259.00" stroke="#1a1a3a" stroke-width="0.7" stroke-opacity="0.6"/>
<line x1="327.30" y1="219.22" x2="339.60" y2="219.22" stroke="#1a1a1a" stroke-width="0.7" stroke-opacity="0.5"/>
<line x1="333.45" y1="219.22" x2="333.45" y2="209.97" stroke="#222" stroke-width="0.9" />
<line x1="330.95" y1="209.97" x2="335.95" y2="209.97" stroke="#222" stroke-width="0.9" />
<line x1="333.45" y1="259.00" x2="333.45" y2="252.51" stroke="#222" stroke-width="0.9" />
<line x1="330.95" y1="252.51" x2="335.95" y2="252.51" stroke="#222" stroke-width="0.9" />
<rect x="358.45" y="259.97" width="12.30" height="15.33" fill="#2e5a96" stroke="none" stroke-width="1" />
<rect x="358.45" y="244.36" width="12.30" height="15.61" fill="#b2113b" stroke="none" stroke-width="1" />
<rect x="358.45" y="222.95" width="12.30" height="21.41" fill="#69ab47" stroke="none" stroke-width="1" />
<line x1="364.60" y1="222.95" x2="364.60" y2="201.68" stroke="#262626" stroke-width="1.15" />
<line x1="361.80" y1="201.68" x2="367.40" y2="201.68" stroke="#262626" stroke-width="1.2" />
<line x1="358.45" y1="259.97" x2="370.75" y2="259.97" stroke="#1a1a3a" stroke-width="0.7" stroke-opacity="0.6"/>
<line x1="358.45" y1="244.36" x2="370.75" y2="244.36" stroke="#1a1a1a" stroke-width="0.7" stroke-opacity="0.5"/>
<line x1="364.60" y1="244.36" x2="364.60" y2="235.66" stroke="#222" stroke-width="0.9" />
<line x1="362.10" y1="235.66" x2="367.10" y2="235.66" stroke="#222" stroke-width="0.9" />
<line x1="364.60" y1="259.97" x2="364.60" y2="254.44" stroke="#222" stroke-width="0.9" />
<line x1="362.10" y1="254.44" x2="367.10" y2="254.44" stroke="#222" stroke-width="0.9" />
<rect x="389.60" y="272.12" width="12.30" height="3.18" fill="#2e5a96" stroke="none" stroke-width="1" />
<rect x="389.60" y="218.95" width="12.30" height="53.18" fill="#b2113b" stroke="none" stroke-width="1" />
<line x1="395.75" y1="218.95" x2="395.75" y2="204.72" stroke="#262626" stroke-width="1.15" />
<line x1="392.95" y1="204.72" x2="398.55" y2="204.72" stroke="#262626" stroke-width="1.2" />
<line x1="389.60" y1="272.12" x2="401.90" y2="272.12" stroke="#1a1a3a" stroke-width="0.7" stroke-opacity="0.6"/>
<path d="M420.9,275.3 C423.9,274.1 424.9,273.7 426.9,273.7 C428.9,273.7 429.9,274.1 432.9,275.3 Z" fill="#222"/>
<rect x="451.00" y="216.00" width="5.40" height="5.40" fill="#69ab47" stroke="none" stroke-width="1" />
<text x="459.10" y="221.40" font-size="8" text-anchor="start" fill="#222" color="#222" font-weight="normal" >CFU-Mk</text>
<rect x="451.00" y="228.20" width="5.40" height="5.40" fill="#b2113b" stroke="none" stroke-width="1" />
<text x="459.10" y="233.60" font-size="8" text-anchor="start" fill="#222" color="#222" font-weight="normal" >BFU-E</text>
<rect x="451.00" y="240.40" width="5.40" height="5.40" fill="#2e5a96" stroke="none" stroke-width="1" />
<text x="459.10" y="245.80" font-size="8" text-anchor="start" fill="#222" color="#222" font-weight="normal" >CFU-Mk/E</text>
<text x="0" y="0" font-size="8.5" text-anchor="end" fill="#222" transform="translate(243.0 287.9) rotate(-45)">IL-3RA<tspan font-size="5.5" dy="-3.2">+</tspan></text>
<text x="0" y="0" font-size="8.5" text-anchor="end" fill="#222" transform="translate(274.1 287.9) rotate(-45)">IL-3RA<tspan font-size="5.5" dy="-3.2">−</tspan></text>
<text x="0" y="0" font-size="8.5" text-anchor="end" fill="#222" transform="translate(305.3 287.9) rotate(-45)">FLT3<tspan font-size="5.5" dy="-3.2">+</tspan></text>
<text x="0" y="0" font-size="8.5" text-anchor="end" fill="#222" transform="translate(336.4 287.9) rotate(-45)">FLT3<tspan font-size="5.5" dy="-3.2">−</tspan></text>
<text x="0" y="0" font-size="8.5" text-anchor="end" fill="#222" transform="translate(367.6 287.9) rotate(-45)">MPL+</text>
<text x="0" y="0" font-size="8.5" text-anchor="end" fill="#222" transform="translate(398.8 287.9) rotate(-45)">MPL−</text>
<text x="0" y="0" font-size="8.5" text-anchor="end" fill="#222" transform="translate(429.9 287.9) rotate(-45)"><tspan font-size="8.9">CD45RA+</tspan></text>
<text x="180.60" y="333.70" font-size="11.6" text-anchor="start" fill="#000" color="#000" font-weight="bold" >G</text>
<line x1="224.30" y1="341.20" x2="224.30" y2="450.20" stroke="#111" stroke-width="1.0" />
<line x1="224.30" y1="450.20" x2="436.00" y2="450.20" stroke="#111" stroke-width="1.0" />
<line x1="220.60" y1="450.20" x2="224.30" y2="450.20" stroke="#111" stroke-width="1.0" />
<text x="218.80" y="453.00" font-size="8" text-anchor="end" fill="#222" color="#222" font-weight="normal" >0</text>
<line x1="220.60" y1="423.20" x2="224.30" y2="423.20" stroke="#111" stroke-width="1.0" />
<text x="218.80" y="426.00" font-size="8" text-anchor="end" fill="#222" color="#222" font-weight="normal" >20</text>
<line x1="220.60" y1="396.20" x2="224.30" y2="396.20" stroke="#111" stroke-width="1.0" />
<text x="218.80" y="399.00" font-size="8" text-anchor="end" fill="#222" color="#222" font-weight="normal" >40</text>
<line x1="220.60" y1="369.20" x2="224.30" y2="369.20" stroke="#111" stroke-width="1.0" />
<text x="218.80" y="372.00" font-size="8" text-anchor="end" fill="#222" color="#222" font-weight="normal" >60</text>
<line x1="220.60" y1="342.20" x2="224.30" y2="342.20" stroke="#111" stroke-width="1.0" />
<text x="218.80" y="345.00" font-size="8" text-anchor="end" fill="#222" color="#222" font-weight="normal" >80</text>
<line x1="224.30" y1="450.20" x2="224.30" y2="453.20" stroke="#111" stroke-width="1.0" />
<line x1="254.30" y1="450.20" x2="254.30" y2="453.20" stroke="#111" stroke-width="1.0" />
<line x1="284.30" y1="450.20" x2="284.30" y2="453.20" stroke="#111" stroke-width="1.0" />
<line x1="314.30" y1="450.20" x2="314.30" y2="453.20" stroke="#111" stroke-width="1.0" />
<line x1="344.30" y1="450.20" x2="344.30" y2="453.20" stroke="#111" stroke-width="1.0" />
<line x1="374.30" y1="450.20" x2="374.30" y2="453.20" stroke="#111" stroke-width="1.0" />
<line x1="404.30" y1="450.20" x2="404.30" y2="453.20" stroke="#111" stroke-width="1.0" />
<line x1="434.30" y1="450.20" x2="434.30" y2="453.20" stroke="#111" stroke-width="1.0" />
<text x="0" y="0" font-size="8.8" text-anchor="middle" fill="#222" transform="translate(202.0 395.5) rotate(-90)">Colonies/100 cells</text>
<line x1="280.50" y1="345.00" x2="280.50" y2="445.00" stroke="#55667f" stroke-width="1.0" stroke-dasharray="1 1"/>
<line x1="343.50" y1="345.00" x2="343.50" y2="445.00" stroke="#55667f" stroke-width="1.0" stroke-dasharray="1 1"/>
<line x1="404.50" y1="345.00" x2="404.50" y2="445.00" stroke="#55667f" stroke-width="1.0" stroke-dasharray="1 1"/>
<rect x="233.25" y="404.44" width="12.50" height="45.76" fill="#b2b2b2" stroke="none" stroke-width="1" />
<rect x="233.25" y="401.06" width="12.50" height="3.38" fill="#111" stroke="none" stroke-width="1" />
<rect x="233.25" y="384.45" width="12.50" height="16.61" fill="#b2113b" stroke="none" stroke-width="1" />
<line x1="239.50" y1="384.45" x2="239.50" y2="378.51" stroke="#333" stroke-width="1.0" />
<line x1="236.70" y1="378.51" x2="242.30" y2="378.51" stroke="#333" stroke-width="1.1" />
<rect x="263.20" y="438.32" width="12.50" height="11.88" fill="#b2b2b2" stroke="none" stroke-width="1" />
<rect x="263.20" y="436.43" width="12.50" height="1.89" fill="#111" stroke="none" stroke-width="1" />
<rect x="263.20" y="394.44" width="12.50" height="41.99" fill="#b2113b" stroke="none" stroke-width="1" />
<line x1="269.45" y1="394.44" x2="269.45" y2="390.39" stroke="#333" stroke-width="1.0" />
<line x1="266.65" y1="390.39" x2="272.25" y2="390.39" stroke="#333" stroke-width="1.1" />
<rect x="293.15" y="408.08" width="12.50" height="42.12" fill="#b2b2b2" stroke="none" stroke-width="1" />
<rect x="293.15" y="406.59" width="12.50" height="1.49" fill="#111" stroke="none" stroke-width="1" />
<rect x="293.15" y="399.98" width="12.50" height="6.62" fill="#b2113b" stroke="none" stroke-width="1" />
<line x1="299.40" y1="399.98" x2="299.40" y2="398.36" stroke="#333" stroke-width="1.0" />
<line x1="296.60" y1="398.36" x2="302.20" y2="398.36" stroke="#333" stroke-width="1.1" />
<rect x="323.10" y="446.56" width="12.50" height="3.64" fill="#b2b2b2" stroke="none" stroke-width="1" />
<rect x="323.10" y="444.94" width="12.50" height="1.62" fill="#111" stroke="none" stroke-width="1" />
<rect x="323.10" y="391.07" width="12.50" height="53.87" fill="#b2113b" stroke="none" stroke-width="1" />
<line x1="329.35" y1="391.07" x2="329.35" y2="376.62" stroke="#333" stroke-width="1.0" />
<line x1="326.55" y1="376.62" x2="332.15" y2="376.62" stroke="#333" stroke-width="1.1" />
<rect x="353.05" y="437.10" width="12.50" height="13.10" fill="#b2b2b2" stroke="none" stroke-width="1" />
<rect x="353.05" y="435.35" width="12.50" height="1.75" fill="#111" stroke="none" stroke-width="1" />
<rect x="353.05" y="419.69" width="12.50" height="15.66" fill="#b2113b" stroke="none" stroke-width="1" />
<line x1="359.30" y1="419.69" x2="359.30" y2="410.51" stroke="#333" stroke-width="1.0" />
<line x1="356.50" y1="410.51" x2="362.10" y2="410.51" stroke="#333" stroke-width="1.1" />
<rect x="383.00" y="422.79" width="12.50" height="27.41" fill="#b2b2b2" stroke="none" stroke-width="1" />
<rect x="383.00" y="421.04" width="12.50" height="1.75" fill="#111" stroke="none" stroke-width="1" />
<rect x="383.00" y="382.29" width="12.50" height="38.75" fill="#b2113b" stroke="none" stroke-width="1" />
<line x1="389.25" y1="382.29" x2="389.25" y2="371.63" stroke="#333" stroke-width="1.0" />
<line x1="386.45" y1="371.63" x2="392.05" y2="371.63" stroke="#333" stroke-width="1.1" />
<rect x="412.95" y="402.95" width="12.50" height="47.25" fill="#b2b2b2" stroke="none" stroke-width="1" />
<rect x="412.95" y="401.74" width="12.50" height="1.21" fill="#111" stroke="none" stroke-width="1" />
<line x1="419.20" y1="401.74" x2="419.20" y2="396.60" stroke="#333" stroke-width="1.0" />
<line x1="416.40" y1="396.60" x2="422.00" y2="396.60" stroke="#333" stroke-width="1.1" />
<line x1="239.50" y1="401.06" x2="239.50" y2="396.88" stroke="#4a0a18" stroke-width="0.8" />
<line x1="237.50" y1="396.88" x2="241.50" y2="396.88" stroke="#4a0a18" stroke-width="0.8" />
<line x1="299.40" y1="406.59" x2="299.40" y2="404.30" stroke="#4a0a18" stroke-width="0.8" />
<line x1="297.40" y1="404.30" x2="301.40" y2="404.30" stroke="#4a0a18" stroke-width="0.8" />
<line x1="329.35" y1="444.94" x2="329.35" y2="442.77" stroke="#4a0a18" stroke-width="0.8" />
<line x1="327.35" y1="442.77" x2="331.35" y2="442.77" stroke="#4a0a18" stroke-width="0.8" />
<line x1="269.45" y1="436.43" x2="269.45" y2="434.68" stroke="#4a0a18" stroke-width="0.8" />
<line x1="267.45" y1="434.68" x2="271.45" y2="434.68" stroke="#4a0a18" stroke-width="0.8" />
<line x1="359.30" y1="435.35" x2="359.30" y2="433.32" stroke="#4a0a18" stroke-width="0.8" />
<line x1="357.30" y1="433.32" x2="361.30" y2="433.32" stroke="#4a0a18" stroke-width="0.8" />
<line x1="389.25" y1="421.04" x2="389.25" y2="407.00" stroke="#5a0a1a" stroke-width="0.8" />
<line x1="387.25" y1="407.00" x2="391.25" y2="407.00" stroke="#5a0a1a" stroke-width="0.8" />
<rect x="444.80" y="382.00" width="5.30" height="5.30" fill="#b2113b" stroke="none" stroke-width="1" />
<text x="453.00" y="387.60" font-size="8" text-anchor="start" fill="#222" color="#222" font-weight="normal" >BFU-E</text>
<rect x="444.80" y="394.00" width="5.30" height="5.30" fill="#111" stroke="none" stroke-width="1" />
<text x="453.00" y="399.60" font-size="8" text-anchor="start" fill="#222" color="#222" font-weight="normal" >CFU-GEMM</text>
<rect x="444.80" y="406.00" width="5.30" height="5.30" fill="#b2b2b2" stroke="none" stroke-width="1" />
<text x="453.00" y="411.60" font-size="8" text-anchor="start" fill="#222" color="#222" font-weight="normal" >CFU-G/M/GM</text>
<text x="0" y="0" font-size="8.45" text-anchor="end" fill="#222" transform="translate(242.9 463.3) rotate(-45)">IL-3RA<tspan font-size="5.5" dy="-3.2">+</tspan></text>
<text x="0" y="0" font-size="8.45" text-anchor="end" fill="#222" transform="translate(272.8 463.3) rotate(-45)">IL-3RA<tspan font-size="5.5" dy="-3.2">−</tspan></text>
<text x="0" y="0" font-size="8.45" text-anchor="end" fill="#222" transform="translate(302.8 463.3) rotate(-45)">FLT3<tspan font-size="5.5" dy="-3.2">+</tspan></text>
<text x="0" y="0" font-size="8.45" text-anchor="end" fill="#222" transform="translate(332.8 463.3) rotate(-45)">FLT3<tspan font-size="5.5" dy="-3.2">−</tspan></text>
<text x="0" y="0" font-size="8.45" text-anchor="end" fill="#222" transform="translate(362.7 463.3) rotate(-45)">MPL+</text>
<text x="0" y="0" font-size="8.45" text-anchor="end" fill="#222" transform="translate(392.6 463.3) rotate(-45)">MPL−</text>
<text x="0" y="0" font-size="8.45" text-anchor="end" fill="#222" transform="translate(422.6 463.3) rotate(-45)">CD45RA<tspan font-size="5.5" dy="-3.2">+</tspan></text>
<rect x="0.50" y="0.50" width="519.00" height="497.00" fill="none" stroke="#000" stroke-width="1.2" />
</svg>
</body></html>
